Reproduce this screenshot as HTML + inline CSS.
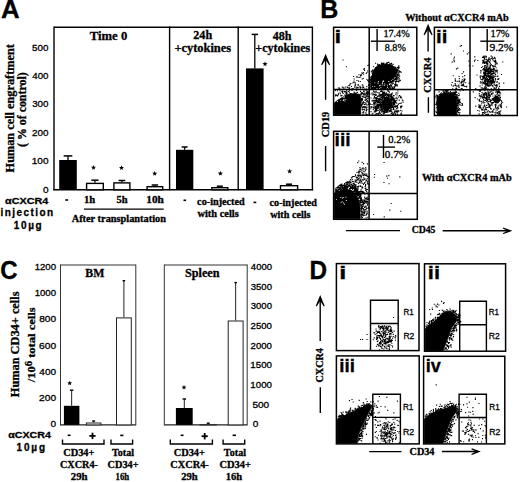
<!DOCTYPE html>
<html><head><meta charset="utf-8"><style>
html,body{margin:0;padding:0;background:#fff;width:520px;height:482px;overflow:hidden}
svg{display:block}
</style></head><body>
<svg width="520" height="482" viewBox="0 0 520 482">
<style>text{stroke:#000;stroke-width:0.3px}</style>
<rect width="520" height="482" fill="#fff"/>
<text x="0.95" y="18.30" font-family='"Liberation Sans", sans-serif' font-size="26" font-weight="bold" textLength="18.65" lengthAdjust="spacingAndGlyphs" fill="#000">A</text>
<line x1="54.0" y1="27.2" x2="312.4" y2="27.2" stroke="#000" stroke-width="1.4"/>
<line x1="54.0" y1="26.5" x2="54.0" y2="190.3" stroke="#000" stroke-width="1.4"/>
<line x1="312.4" y1="26.5" x2="312.4" y2="190.3" stroke="#000" stroke-width="1.4"/>
<line x1="169.6" y1="26.5" x2="169.6" y2="190.3" stroke="#000" stroke-width="1.4"/>
<line x1="238.2" y1="26.5" x2="238.2" y2="190.3" stroke="#000" stroke-width="1.4"/>
<line x1="53.3" y1="189.8" x2="313.1" y2="189.8" stroke="#000" stroke-width="1.5"/>
<text x="32.11" y="50.70" font-family='"Liberation Sans", sans-serif' font-size="9.9" font-weight="normal" textLength="16.37" lengthAdjust="spacingAndGlyphs" fill="#000">500</text>
<text x="32.28" y="79.06" font-family='"Liberation Sans", sans-serif' font-size="9.9" font-weight="normal" textLength="16.19" lengthAdjust="spacingAndGlyphs" fill="#000">400</text>
<text x="32.13" y="107.42" font-family='"Liberation Sans", sans-serif' font-size="9.9" font-weight="normal" textLength="16.34" lengthAdjust="spacingAndGlyphs" fill="#000">300</text>
<text x="32.01" y="135.78" font-family='"Liberation Sans", sans-serif' font-size="9.9" font-weight="normal" textLength="16.47" lengthAdjust="spacingAndGlyphs" fill="#000">200</text>
<text x="31.75" y="164.14" font-family='"Liberation Sans", sans-serif' font-size="9.9" font-weight="normal" textLength="16.74" lengthAdjust="spacingAndGlyphs" fill="#000">100</text>
<text x="42.90" y="192.50" font-family='"Liberation Sans", sans-serif' font-size="9.9" font-weight="normal" textLength="5.59" lengthAdjust="spacingAndGlyphs" fill="#000">0</text>
<text x="14.20" y="172.42" transform="rotate(-90 14.20 172.42)" font-family='"Liberation Serif", serif' font-size="12.3" font-weight="bold" textLength="128.35" lengthAdjust="spacingAndGlyphs">Human cell engraftment</text>
<text x="25.90" y="147.01" transform="rotate(-90 25.90 147.01)" font-family='"Liberation Serif", serif' font-size="12.3" font-weight="bold" textLength="74.72" lengthAdjust="spacingAndGlyphs">( % of control)</text>
<text x="89.81" y="40.00" font-family='"Liberation Serif", serif' font-size="12.7" font-weight="bold" textLength="37.48" lengthAdjust="spacingAndGlyphs" fill="#000">Time 0</text>
<text x="193.28" y="39.20" font-family='"Liberation Serif", serif' font-size="12.3" font-weight="bold" textLength="18.88" lengthAdjust="spacingAndGlyphs" fill="#000">24h</text>
<text x="174.45" y="52.00" font-family='"Liberation Serif", serif' font-size="12.3" font-weight="bold" textLength="56.66" lengthAdjust="spacingAndGlyphs" fill="#000">+cytokines</text>
<text x="272.65" y="39.50" font-family='"Liberation Serif", serif' font-size="12.3" font-weight="bold" textLength="18.71" lengthAdjust="spacingAndGlyphs" fill="#000">48h</text>
<text x="255.37" y="52.20" font-family='"Liberation Serif", serif' font-size="12.3" font-weight="bold" textLength="54.93" lengthAdjust="spacingAndGlyphs" fill="#000">+cytokines</text>
<rect x="59.2" y="160" width="17.60" height="29.80" fill="#000"/>
<line x1="68.0" y1="155.9" x2="68.0" y2="160" stroke="#000" stroke-width="1.3"/>
<line x1="63.65" y1="155.9" x2="72.35" y2="155.9" stroke="#000" stroke-width="1.5"/>
<rect x="86.60000000000001" y="183.39999999999998" width="16.70" height="6.40" fill="#fff" stroke="#000" stroke-width="1.4"/>
<line x1="94.95" y1="180.2" x2="94.95" y2="182.7" stroke="#000" stroke-width="1.3"/>
<line x1="91.35000000000001" y1="180.2" x2="98.55" y2="180.2" stroke="#000" stroke-width="1.5"/>
<polygon points="93.5,165.0 94.2,166.7 96.0,166.8 94.6,168.0 95.0,169.7 93.5,168.8 92.0,169.7 92.4,168.0 91.0,166.8 92.8,166.7" fill="#000"/>
<rect x="113.9" y="182.89999999999998" width="16.00" height="6.90" fill="#fff" stroke="#000" stroke-width="1.4"/>
<line x1="121.9" y1="180.5" x2="121.9" y2="182.2" stroke="#000" stroke-width="1.3"/>
<line x1="118.5" y1="180.5" x2="125.30000000000001" y2="180.5" stroke="#000" stroke-width="1.5"/>
<polygon points="121.5,165.2 122.2,166.9 124.0,167.0 122.6,168.2 123.0,169.9 121.5,169.0 120.0,169.9 120.4,168.2 119.0,167.0 120.8,166.9" fill="#000"/>
<rect x="147.1" y="186.7" width="15.60" height="3.10" fill="#fff" stroke="#000" stroke-width="1.4"/>
<line x1="154.9" y1="185" x2="154.9" y2="186" stroke="#000" stroke-width="1.3"/>
<line x1="151.65" y1="185" x2="158.15" y2="185" stroke="#000" stroke-width="1.5"/>
<polygon points="154.7,171.0 155.4,172.7 157.2,172.8 155.8,174.0 156.2,175.7 154.7,174.8 153.2,175.7 153.6,174.0 152.2,172.8 154.0,172.7" fill="#000"/>
<rect x="176" y="149.8" width="17.30" height="40.00" fill="#000"/>
<line x1="184.65" y1="147" x2="184.65" y2="149.8" stroke="#000" stroke-width="1.3"/>
<line x1="181.65" y1="147" x2="187.65" y2="147" stroke="#000" stroke-width="1.5"/>
<rect x="211.79999999999998" y="187.7" width="16.00" height="2.10" fill="#fff" stroke="#000" stroke-width="1.4"/>
<line x1="219.8" y1="186.2" x2="219.8" y2="187" stroke="#000" stroke-width="1.3"/>
<line x1="216.8" y1="186.2" x2="222.8" y2="186.2" stroke="#000" stroke-width="1.5"/>
<polygon points="220.4,170.9 221.1,172.6 222.9,172.7 221.5,173.9 221.9,175.6 220.4,174.7 218.9,175.6 219.3,173.9 217.9,172.7 219.7,172.6" fill="#000"/>
<rect x="246" y="68.4" width="17.60" height="121.40" fill="#000"/>
<line x1="254.8" y1="34.4" x2="254.8" y2="68.4" stroke="#000" stroke-width="1.3"/>
<line x1="251.60000000000002" y1="34.4" x2="258.0" y2="34.4" stroke="#000" stroke-width="1.5"/>
<polygon points="265.0,61.4 265.7,63.1 267.5,63.2 266.1,64.4 266.5,66.1 265.0,65.2 263.5,66.1 263.9,64.4 262.5,63.2 264.3,63.1" fill="#000"/>
<rect x="280.5" y="185.7" width="17.10" height="4.10" fill="#fff" stroke="#000" stroke-width="1.4"/>
<line x1="289.05" y1="184.2" x2="289.05" y2="185" stroke="#000" stroke-width="1.3"/>
<line x1="286.05" y1="184.2" x2="292.05" y2="184.2" stroke="#000" stroke-width="1.5"/>
<polygon points="289.6,168.8 290.3,170.5 292.1,170.6 290.7,171.8 291.1,173.5 289.6,172.6 288.1,173.5 288.5,171.8 287.1,170.6 288.9,170.5" fill="#000"/>
<text x="5.07" y="203.60" font-family='"Liberation Sans", sans-serif' font-size="9.3" font-weight="bold" textLength="43.21" lengthAdjust="spacingAndGlyphs" fill="#000">αCXCR4</text>
<text x="0.50" y="216.30" font-family='"Liberation Sans", sans-serif' font-size="10.0" font-weight="bold" textLength="52.61" lengthAdjust="spacing">injection</text>
<text x="13.78" y="228.90" font-family='"Liberation Sans", sans-serif' font-size="10.0" font-weight="bold" textLength="27.89" lengthAdjust="spacing">10µg</text>
<line x1="65.3" y1="200.0" x2="68.1" y2="200.0" stroke="#000" stroke-width="1.6"/>
<text x="84.05" y="202.90" font-family='"Liberation Serif", serif' font-size="9.8" font-weight="bold" textLength="11.19" lengthAdjust="spacingAndGlyphs" fill="#000">1h</text>
<text x="116.58" y="202.90" font-family='"Liberation Serif", serif' font-size="9.8" font-weight="bold" textLength="11.06" lengthAdjust="spacingAndGlyphs" fill="#000">5h</text>
<text x="146.30" y="202.90" font-family='"Liberation Serif", serif' font-size="9.8" font-weight="bold" textLength="17.56" lengthAdjust="spacingAndGlyphs" fill="#000">10h</text>
<line x1="84" y1="209.1" x2="163.7" y2="209.1" stroke="#000" stroke-width="1.4"/>
<text x="71.70" y="221.90" font-family='"Liberation Serif", serif' font-size="10.0" font-weight="bold" textLength="94.24" lengthAdjust="spacingAndGlyphs" fill="#000">After transplantation</text>
<line x1="183.5" y1="200.3" x2="186.1" y2="200.3" stroke="#000" stroke-width="1.6"/>
<text x="197.14" y="204.80" font-family='"Liberation Serif", serif' font-size="10.2" font-weight="bold" textLength="47.58" lengthAdjust="spacingAndGlyphs" fill="#000">co-injected</text>
<text x="197.47" y="217.00" font-family='"Liberation Serif", serif' font-size="10.2" font-weight="bold" textLength="41.28" lengthAdjust="spacingAndGlyphs" fill="#000">with cells</text>
<line x1="253.5" y1="202.4" x2="256.3" y2="202.4" stroke="#000" stroke-width="1.6"/>
<text x="269.54" y="205.80" font-family='"Liberation Serif", serif' font-size="10.2" font-weight="bold" textLength="47.48" lengthAdjust="spacingAndGlyphs" fill="#000">co-injected</text>
<text x="270.17" y="217.90" font-family='"Liberation Serif", serif' font-size="10.2" font-weight="bold" textLength="40.37" lengthAdjust="spacingAndGlyphs" fill="#000">with cells</text>
<text x="320.21" y="18.30" font-family='"Liberation Sans", sans-serif' font-size="26" font-weight="bold" textLength="18.11" lengthAdjust="spacingAndGlyphs" fill="#000">B</text>
<text x="405.15" y="20.60" font-family='"Liberation Serif", serif' font-size="10.3" font-weight="bold" textLength="103.68" lengthAdjust="spacingAndGlyphs" fill="#000">Without αCXCR4 mAb</text>
<polygon points="378.3,66.0 381.6,64.8 385.7,64.2 389.9,64.8 393.2,66.3 396.5,69.1 397.4,72.4 395.7,75.7 393.2,78.2 390.7,80.7 389.1,83.2 387.4,86.5 385.7,89.4 370.8,89.4 370.8,86.5 371.2,81.6 371.6,77.4 372.9,73.3 374.1,69.9 376.6,66.6" fill="#000" stroke="#000" stroke-width="0.8" stroke-linejoin="round"/>
<polygon points="334.3,114.6 334.3,103.0 338.0,100.0 343.0,97.0 348.0,94.5 355.0,93.5 360.0,94.5 361.0,100.0 360.5,114.6" fill="#000" stroke="#000" stroke-width="0.8" stroke-linejoin="round"/>
<polygon points="392.0,104.0 391.8,105.4 391.3,106.8 390.5,107.9 389.5,108.8 388.3,109.3 387.0,109.5 385.7,109.3 384.5,108.8 383.5,107.9 382.7,106.8 382.2,105.4 382.0,104.0 382.2,102.6 382.7,101.2 383.5,100.1 384.5,99.2 385.7,98.7 387.0,98.5 388.3,98.7 389.5,99.2 390.5,100.1 391.3,101.2 391.8,102.6" fill="#000" stroke="#000" stroke-width="0.8" stroke-linejoin="round"/>
<path d="M389.9 63.6h1.1v1.1h-1.1zM390.6 64.7h1.1v1.1h-1.1zM370.3 85.9h1.1v1.1h-1.1zM370.7 85.2h1.1v1.1h-1.1zM377.6 65.3h1.1v1.1h-1.1zM386.5 63.8h1.1v1.1h-1.1zM370.5 84.1h1.1v1.1h-1.1zM380.8 63.6h1.1v1.1h-1.1zM370.8 71.1h1.1v1.1h-1.1zM383.4 62.5h1.1v1.1h-1.1zM380.3 65.0h1.1v1.1h-1.1zM369.8 81.8h1.1v1.1h-1.1zM372.0 75.1h1.1v1.1h-1.1zM392.6 81.1h1.1v1.1h-1.1zM398.6 66.9h1.1v1.1h-1.1zM369.0 80.6h1.1v1.1h-1.1zM374.4 68.8h1.1v1.1h-1.1zM385.3 63.5h1.1v1.1h-1.1zM397.4 77.0h1.1v1.1h-1.1zM377.3 65.4h1.1v1.1h-1.1zM398.9 71.3h1.1v1.1h-1.1zM397.4 66.8h1.1v1.1h-1.1zM386.4 63.6h1.1v1.1h-1.1zM371.0 83.0h1.1v1.1h-1.1zM371.2 80.9h1.1v1.1h-1.1zM398.4 71.7h1.1v1.1h-1.1zM396.6 69.5h1.1v1.1h-1.1zM373.0 70.5h1.1v1.1h-1.1zM371.5 72.5h1.1v1.1h-1.1zM371.0 78.8h1.1v1.1h-1.1zM394.1 79.5h1.1v1.1h-1.1zM396.0 77.3h1.1v1.1h-1.1zM392.1 80.1h1.1v1.1h-1.1zM370.8 84.0h1.1v1.1h-1.1zM372.1 69.5h1.1v1.1h-1.1zM370.0 78.9h1.1v1.1h-1.1zM398.4 73.6h1.1v1.1h-1.1zM391.9 64.7h1.1v1.1h-1.1zM377.0 63.4h1.1v1.1h-1.1zM373.4 71.8h1.1v1.1h-1.1zM398.3 74.5h1.1v1.1h-1.1zM370.5 83.8h1.1v1.1h-1.1zM396.1 75.6h1.1v1.1h-1.1zM397.1 69.4h1.1v1.1h-1.1zM372.5 70.4h1.1v1.1h-1.1zM374.2 68.7h1.1v1.1h-1.1zM388.5 85.3h1.1v1.1h-1.1zM396.7 74.8h1.1v1.1h-1.1zM390.6 80.9h1.1v1.1h-1.1zM372.4 73.7h1.1v1.1h-1.1zM368.3 84.0h1.1v1.1h-1.1zM386.2 63.2h1.1v1.1h-1.1zM372.0 70.5h1.1v1.1h-1.1zM396.1 77.7h1.1v1.1h-1.1zM370.3 80.2h1.1v1.1h-1.1zM397.3 69.3h1.1v1.1h-1.1zM396.7 69.3h1.1v1.1h-1.1zM375.0 62.7h1.1v1.1h-1.1zM398.5 70.1h1.1v1.1h-1.1zM379.8 65.0h1.1v1.1h-1.1zM397.0 73.8h1.1v1.1h-1.1zM372.6 70.9h1.1v1.1h-1.1zM371.6 69.9h1.1v1.1h-1.1zM370.3 82.5h1.1v1.1h-1.1zM396.6 76.1h1.1v1.1h-1.1zM383.1 63.1h1.1v1.1h-1.1zM390.9 65.1h1.1v1.1h-1.1zM373.6 69.6h1.1v1.1h-1.1zM370.5 81.7h1.1v1.1h-1.1zM377.6 64.4h1.1v1.1h-1.1zM398.2 67.8h1.1v1.1h-1.1zM373.9 68.8h1.1v1.1h-1.1zM397.7 72.5h1.1v1.1h-1.1zM375.0 66.9h1.1v1.1h-1.1zM385.5 63.4h1.1v1.1h-1.1zM369.1 84.4h1.1v1.1h-1.1zM378.2 65.1h1.1v1.1h-1.1zM387.1 90.5h1.1v1.1h-1.1zM370.8 81.1h1.1v1.1h-1.1zM391.0 84.5h1.1v1.1h-1.1zM382.7 62.9h1.1v1.1h-1.1zM386.9 88.1h1.1v1.1h-1.1zM398.1 66.6h1.1v1.1h-1.1zM378.9 64.0h1.1v1.1h-1.1zM375.9 67.2h1.1v1.1h-1.1zM371.1 75.8h1.1v1.1h-1.1zM368.9 76.1h1.1v1.1h-1.1zM395.3 78.7h1.1v1.1h-1.1zM373.0 71.2h1.1v1.1h-1.1zM386.3 63.7h1.1v1.1h-1.1zM388.8 87.5h1.1v1.1h-1.1zM389.4 63.0h1.1v1.1h-1.1zM377.9 64.4h1.1v1.1h-1.1zM391.0 62.8h1.1v1.1h-1.1zM387.8 61.8h1.1v1.1h-1.1zM384.8 64.3h1.1v1.1h-1.1zM368.3 86.9h1.1v1.1h-1.1zM369.2 84.5h1.1v1.1h-1.1zM371.0 78.4h1.1v1.1h-1.1zM390.8 82.7h1.1v1.1h-1.1zM395.6 76.3h1.1v1.1h-1.1zM371.3 76.7h1.1v1.1h-1.1zM398.4 71.1h1.1v1.1h-1.1zM379.1 64.3h1.1v1.1h-1.1zM391.4 81.5h1.1v1.1h-1.1zM372.9 73.3h1.1v1.1h-1.1zM390.1 86.2h1.1v1.1h-1.1zM383.0 64.3h1.1v1.1h-1.1zM383.3 63.5h1.1v1.1h-1.1zM381.6 64.4h1.1v1.1h-1.1zM397.7 68.5h1.1v1.1h-1.1zM385.9 62.6h1.1v1.1h-1.1zM388.0 86.6h1.1v1.1h-1.1zM380.9 62.4h1.1v1.1h-1.1zM390.5 63.6h1.1v1.1h-1.1zM399.7 71.0h1.1v1.1h-1.1zM391.1 81.7h1.1v1.1h-1.1zM395.7 77.8h1.1v1.1h-1.1zM395.6 77.6h1.1v1.1h-1.1zM397.6 74.4h1.1v1.1h-1.1zM399.1 75.6h1.1v1.1h-1.1zM392.1 83.5h1.1v1.1h-1.1zM371.8 72.6h1.1v1.1h-1.1zM388.5 61.7h1.1v1.1h-1.1zM371.1 81.5h1.1v1.1h-1.1zM397.0 70.3h1.1v1.1h-1.1zM381.8 62.8h1.1v1.1h-1.1zM387.0 62.3h1.1v1.1h-1.1zM396.2 81.0h1.1v1.1h-1.1zM391.2 81.1h1.1v1.1h-1.1zM369.9 79.5h1.1v1.1h-1.1zM373.1 66.2h1.1v1.1h-1.1zM371.0 78.8h1.1v1.1h-1.1zM392.6 63.8h1.1v1.1h-1.1zM370.3 86.0h1.1v1.1h-1.1zM394.8 66.8h1.1v1.1h-1.1zM395.5 76.2h1.1v1.1h-1.1zM383.1 62.7h1.1v1.1h-1.1zM371.5 77.3h1.1v1.1h-1.1zM377.2 64.6h1.1v1.1h-1.1zM370.2 77.7h1.1v1.1h-1.1zM393.4 65.9h1.1v1.1h-1.1zM395.5 79.4h1.1v1.1h-1.1zM395.2 76.5h1.1v1.1h-1.1zM400.7 71.7h1.1v1.1h-1.1zM397.6 75.2h1.1v1.1h-1.1zM396.5 67.0h1.1v1.1h-1.1zM370.6 76.5h1.1v1.1h-1.1zM370.4 80.3h1.1v1.1h-1.1zM396.8 69.4h1.1v1.1h-1.1zM386.6 64.0h1.1v1.1h-1.1zM398.3 65.3h1.1v1.1h-1.1zM387.0 89.2h1.1v1.1h-1.1zM389.2 88.9h1.1v1.1h-1.1zM372.6 71.4h1.1v1.1h-1.1zM370.3 76.8h1.1v1.1h-1.1zM395.1 81.3h1.1v1.1h-1.1zM396.1 68.2h1.1v1.1h-1.1zM374.4 68.7h1.1v1.1h-1.1zM387.8 89.5h1.1v1.1h-1.1zM374.1 69.7h1.1v1.1h-1.1zM392.8 79.8h1.1v1.1h-1.1zM393.1 78.5h1.1v1.1h-1.1zM388.9 87.0h1.1v1.1h-1.1zM382.1 64.1h1.1v1.1h-1.1zM388.8 63.9h1.1v1.1h-1.1zM396.7 68.7h1.1v1.1h-1.1zM381.3 63.7h1.1v1.1h-1.1zM396.7 68.7h1.1v1.1h-1.1zM399.5 71.3h1.1v1.1h-1.1zM389.4 78.3h1.1v1.1h-1.1zM389.9 82.1h1.1v1.1h-1.1zM394.4 76.3h1.1v1.1h-1.1zM395.6 85.2h1.1v1.1h-1.1zM388.0 82.9h1.1v1.1h-1.1zM388.9 85.4h1.1v1.1h-1.1zM390.0 84.3h1.1v1.1h-1.1zM395.1 82.6h1.1v1.1h-1.1zM389.0 86.5h1.1v1.1h-1.1zM391.0 85.6h1.1v1.1h-1.1zM392.6 80.7h1.1v1.1h-1.1zM396.0 79.1h1.1v1.1h-1.1zM396.7 80.7h1.1v1.1h-1.1zM396.4 84.5h1.1v1.1h-1.1zM399.2 80.1h1.1v1.1h-1.1zM390.9 88.9h1.1v1.1h-1.1zM393.2 80.3h1.1v1.1h-1.1zM395.8 77.8h1.1v1.1h-1.1zM395.1 78.4h1.1v1.1h-1.1zM387.3 85.1h1.1v1.1h-1.1zM398.1 81.1h1.1v1.1h-1.1zM394.9 85.2h1.1v1.1h-1.1zM395.4 80.9h1.1v1.1h-1.1zM393.1 82.7h1.1v1.1h-1.1zM391.5 82.1h1.1v1.1h-1.1zM389.5 81.4h1.1v1.1h-1.1zM388.0 88.7h1.1v1.1h-1.1zM388.4 84.9h1.1v1.1h-1.1zM392.8 77.9h1.1v1.1h-1.1zM391.3 81.2h1.1v1.1h-1.1zM391.2 77.7h1.1v1.1h-1.1zM391.8 80.5h1.1v1.1h-1.1zM395.6 77.0h1.1v1.1h-1.1zM393.7 88.6h1.1v1.1h-1.1zM388.7 87.3h1.1v1.1h-1.1zM395.2 76.5h1.1v1.1h-1.1zM394.2 84.1h1.1v1.1h-1.1zM387.8 85.9h1.1v1.1h-1.1zM391.9 88.5h1.1v1.1h-1.1zM394.7 77.9h1.1v1.1h-1.1zM391.6 87.6h1.1v1.1h-1.1zM388.0 82.3h1.1v1.1h-1.1zM396.8 85.4h1.1v1.1h-1.1zM392.6 77.6h1.1v1.1h-1.1zM388.8 87.6h1.1v1.1h-1.1zM394.9 80.9h1.1v1.1h-1.1zM386.4 88.7h1.1v1.1h-1.1zM397.7 80.8h1.1v1.1h-1.1zM395.4 83.8h1.1v1.1h-1.1zM396.2 80.6h1.1v1.1h-1.1zM388.1 86.1h1.1v1.1h-1.1zM392.2 80.6h1.1v1.1h-1.1zM396.6 84.3h1.1v1.1h-1.1zM399.8 79.8h1.1v1.1h-1.1zM394.9 75.3h1.1v1.1h-1.1zM389.9 80.7h1.1v1.1h-1.1zM389.2 88.0h1.1v1.1h-1.1zM392.0 79.7h1.1v1.1h-1.1zM396.3 78.6h1.1v1.1h-1.1zM398.6 80.3h1.1v1.1h-1.1zM390.7 81.1h1.1v1.1h-1.1zM391.6 86.9h1.1v1.1h-1.1zM389.3 80.6h1.1v1.1h-1.1zM388.1 86.8h1.1v1.1h-1.1zM398.9 78.3h1.1v1.1h-1.1zM398.2 76.7h1.1v1.1h-1.1zM396.0 77.8h1.1v1.1h-1.1zM392.2 83.2h1.1v1.1h-1.1zM394.2 85.9h1.1v1.1h-1.1zM389.5 84.9h1.1v1.1h-1.1zM387.6 83.7h1.1v1.1h-1.1zM392.8 80.5h1.1v1.1h-1.1zM393.9 87.5h1.1v1.1h-1.1zM394.2 78.8h1.1v1.1h-1.1zM389.5 88.8h1.1v1.1h-1.1zM390.3 87.8h1.1v1.1h-1.1zM393.5 87.6h1.1v1.1h-1.1zM388.3 88.5h1.1v1.1h-1.1zM394.1 86.3h1.1v1.1h-1.1zM395.9 78.4h1.1v1.1h-1.1zM395.1 78.3h1.1v1.1h-1.1zM392.5 86.3h1.1v1.1h-1.1zM397.9 80.9h1.1v1.1h-1.1zM389.9 87.4h1.1v1.1h-1.1zM392.6 87.8h1.1v1.1h-1.1zM392.6 88.1h1.1v1.1h-1.1zM397.0 78.3h1.1v1.1h-1.1zM394.7 85.5h1.1v1.1h-1.1zM398.1 81.4h1.1v1.1h-1.1zM394.7 80.9h1.1v1.1h-1.1zM397.9 78.5h1.1v1.1h-1.1zM395.3 84.7h1.1v1.1h-1.1zM394.8 85.2h1.1v1.1h-1.1zM357.8 87.2h1.1v1.1h-1.1zM357.6 85.2h1.1v1.1h-1.1zM350.9 86.0h1.1v1.1h-1.1zM360.3 86.8h1.1v1.1h-1.1zM359.8 87.6h1.1v1.1h-1.1zM365.9 88.4h1.1v1.1h-1.1zM337.7 87.5h1.1v1.1h-1.1zM348.3 85.0h1.1v1.1h-1.1zM351.8 88.3h1.1v1.1h-1.1zM362.3 85.0h1.1v1.1h-1.1zM342.7 87.6h1.1v1.1h-1.1zM368.0 84.8h1.1v1.1h-1.1zM338.9 87.6h1.1v1.1h-1.1zM356.3 88.1h1.1v1.1h-1.1zM342.5 86.7h1.1v1.1h-1.1zM362.4 86.2h1.1v1.1h-1.1zM349.2 84.6h1.1v1.1h-1.1zM362.3 86.5h1.1v1.1h-1.1zM348.5 87.4h1.1v1.1h-1.1zM364.1 88.4h1.1v1.1h-1.1zM347.3 87.2h1.1v1.1h-1.1zM348.8 88.3h1.1v1.1h-1.1zM362.2 87.5h1.1v1.1h-1.1zM363.2 86.8h1.1v1.1h-1.1zM354.8 85.2h1.1v1.1h-1.1zM359.4 85.8h1.1v1.1h-1.1zM354.5 84.5h1.1v1.1h-1.1zM349.1 87.3h1.1v1.1h-1.1zM356.8 87.0h1.1v1.1h-1.1zM344.3 87.4h1.1v1.1h-1.1zM357.8 87.2h1.1v1.1h-1.1zM348.4 85.2h1.1v1.1h-1.1zM354.4 84.7h1.1v1.1h-1.1zM366.2 86.1h1.1v1.1h-1.1zM345.3 86.5h1.1v1.1h-1.1zM339.4 88.5h1.1v1.1h-1.1zM368.3 88.2h1.1v1.1h-1.1zM354.9 88.7h1.1v1.1h-1.1zM346.9 86.6h1.1v1.1h-1.1zM341.7 86.4h1.1v1.1h-1.1zM367.2 79.9h1.1v1.1h-1.1zM360.1 76.5h1.1v1.1h-1.1zM361.7 78.5h1.1v1.1h-1.1zM355.1 83.7h1.1v1.1h-1.1zM355.6 86.6h1.1v1.1h-1.1zM357.6 84.1h1.1v1.1h-1.1zM354.1 86.6h1.1v1.1h-1.1zM367.3 65.0h1.1v1.1h-1.1zM368.0 79.5h1.1v1.1h-1.1zM361.7 84.2h1.1v1.1h-1.1zM357.7 84.1h1.1v1.1h-1.1zM359.7 76.5h1.1v1.1h-1.1zM367.8 81.1h1.1v1.1h-1.1zM353.0 88.2h1.1v1.1h-1.1zM356.4 88.7h1.1v1.1h-1.1zM359.4 86.6h1.1v1.1h-1.1zM358.0 80.6h1.1v1.1h-1.1zM360.5 74.1h1.1v1.1h-1.1zM368.4 64.4h1.1v1.1h-1.1zM366.4 71.9h1.1v1.1h-1.1zM351.5 88.0h1.1v1.1h-1.1zM362.2 72.9h1.1v1.1h-1.1zM363.4 94.2h1.1v1.1h-1.1zM348.8 94.3h1.1v1.1h-1.1zM360.0 90.9h1.1v1.1h-1.1zM350.7 93.3h1.1v1.1h-1.1zM361.0 93.7h1.1v1.1h-1.1zM336.9 90.2h1.1v1.1h-1.1zM343.9 94.9h1.1v1.1h-1.1zM342.1 91.8h1.1v1.1h-1.1zM362.9 90.6h1.1v1.1h-1.1zM344.2 91.4h1.1v1.1h-1.1zM336.1 94.4h1.1v1.1h-1.1zM345.6 92.3h1.1v1.1h-1.1zM346.0 90.2h1.1v1.1h-1.1zM363.6 90.6h1.1v1.1h-1.1zM344.4 94.3h1.1v1.1h-1.1zM346.5 92.9h1.1v1.1h-1.1zM345.9 93.3h1.1v1.1h-1.1zM345.4 92.6h1.1v1.1h-1.1zM334.8 89.9h1.1v1.1h-1.1zM352.0 94.9h1.1v1.1h-1.1zM352.6 93.8h1.1v1.1h-1.1zM357.7 94.3h1.1v1.1h-1.1zM368.7 91.9h1.1v1.1h-1.1zM349.9 94.6h1.1v1.1h-1.1zM342.0 90.4h1.1v1.1h-1.1zM365.5 89.9h1.1v1.1h-1.1zM340.2 94.5h1.1v1.1h-1.1zM344.5 91.5h1.1v1.1h-1.1zM360.9 92.5h1.1v1.1h-1.1zM368.5 93.3h1.1v1.1h-1.1zM336.1 94.7h1.1v1.1h-1.1zM356.0 90.0h1.1v1.1h-1.1zM364.4 92.4h1.1v1.1h-1.1zM341.3 91.1h1.1v1.1h-1.1zM341.5 94.9h1.1v1.1h-1.1zM337.0 95.5h1.1v1.1h-1.1zM335.1 94.3h1.1v1.1h-1.1zM342.5 93.0h1.1v1.1h-1.1zM340.6 95.4h1.1v1.1h-1.1zM339.9 92.7h1.1v1.1h-1.1zM355.5 92.6h1.1v1.1h-1.1zM342.0 91.6h1.1v1.1h-1.1zM366.7 90.6h1.1v1.1h-1.1zM335.1 95.4h1.1v1.1h-1.1zM365.1 94.0h1.1v1.1h-1.1zM348.8 89.9h1.1v1.1h-1.1zM349.5 93.1h1.1v1.1h-1.1zM336.8 95.1h1.1v1.1h-1.1zM352.5 94.3h1.1v1.1h-1.1zM348.8 91.6h1.1v1.1h-1.1zM346.1 91.5h1.1v1.1h-1.1zM350.1 93.5h1.1v1.1h-1.1zM363.2 90.9h1.1v1.1h-1.1zM350.0 93.1h1.1v1.1h-1.1zM362.7 94.2h1.1v1.1h-1.1zM356.0 94.0h1.1v1.1h-1.1zM350.0 94.8h1.1v1.1h-1.1zM363.4 93.3h1.1v1.1h-1.1zM338.5 92.4h1.1v1.1h-1.1zM343.6 91.0h1.1v1.1h-1.1zM344.7 94.9h1.1v1.1h-1.1zM346.5 92.5h1.1v1.1h-1.1zM347.7 90.9h1.1v1.1h-1.1zM354.2 92.4h1.1v1.1h-1.1zM366.8 93.6h1.1v1.1h-1.1zM351.4 89.9h1.1v1.1h-1.1zM341.8 90.5h1.1v1.1h-1.1zM359.9 90.7h1.1v1.1h-1.1zM356.8 91.8h1.1v1.1h-1.1zM351.1 94.5h1.1v1.1h-1.1zM344.8 90.9h1.1v1.1h-1.1zM353.6 91.6h1.1v1.1h-1.1zM339.5 90.2h1.1v1.1h-1.1zM346.0 93.6h1.1v1.1h-1.1zM350.3 94.8h1.1v1.1h-1.1zM368.8 93.3h1.1v1.1h-1.1zM346.4 94.7h1.1v1.1h-1.1zM337.6 94.5h1.1v1.1h-1.1zM337.9 93.4h1.1v1.1h-1.1zM362.2 92.4h1.1v1.1h-1.1zM367.3 94.1h1.1v1.1h-1.1zM364.5 103.7h1.1v1.1h-1.1zM366.8 100.1h1.1v1.1h-1.1zM362.2 107.4h1.1v1.1h-1.1zM361.0 99.0h1.1v1.1h-1.1zM364.0 109.3h1.1v1.1h-1.1zM363.7 103.8h1.1v1.1h-1.1zM365.8 106.6h1.1v1.1h-1.1zM368.3 101.3h1.1v1.1h-1.1zM361.6 96.1h1.1v1.1h-1.1zM361.8 102.7h1.1v1.1h-1.1zM361.7 104.0h1.1v1.1h-1.1zM367.1 91.8h1.1v1.1h-1.1zM362.1 102.2h1.1v1.1h-1.1zM360.4 93.5h1.1v1.1h-1.1zM364.9 99.8h1.1v1.1h-1.1zM367.8 104.0h1.1v1.1h-1.1zM366.5 98.5h1.1v1.1h-1.1zM363.2 110.9h1.1v1.1h-1.1zM365.3 112.4h1.1v1.1h-1.1zM362.2 92.8h1.1v1.1h-1.1zM365.8 93.1h1.1v1.1h-1.1zM360.7 99.6h1.1v1.1h-1.1zM365.9 98.8h1.1v1.1h-1.1zM366.5 101.2h1.1v1.1h-1.1zM362.5 103.1h1.1v1.1h-1.1zM365.2 93.7h1.1v1.1h-1.1zM365.1 94.1h1.1v1.1h-1.1zM368.3 103.0h1.1v1.1h-1.1zM361.8 97.8h1.1v1.1h-1.1zM364.9 106.3h1.1v1.1h-1.1zM366.1 100.8h1.1v1.1h-1.1zM365.4 103.6h1.1v1.1h-1.1zM362.5 95.4h1.1v1.1h-1.1zM363.4 106.9h1.1v1.1h-1.1zM361.2 105.6h1.1v1.1h-1.1zM360.2 94.5h1.1v1.1h-1.1zM365.8 109.8h1.1v1.1h-1.1zM366.6 106.7h1.1v1.1h-1.1zM362.2 114.2h1.1v1.1h-1.1zM365.2 112.3h1.1v1.1h-1.1zM368.1 95.8h1.1v1.1h-1.1zM368.3 92.0h1.1v1.1h-1.1zM365.5 96.3h1.1v1.1h-1.1zM360.8 104.0h1.1v1.1h-1.1zM361.8 109.3h1.1v1.1h-1.1zM364.0 96.6h1.1v1.1h-1.1zM360.1 107.0h1.1v1.1h-1.1zM365.5 109.7h1.1v1.1h-1.1zM363.3 112.4h1.1v1.1h-1.1zM360.2 112.5h1.1v1.1h-1.1zM366.6 92.5h1.1v1.1h-1.1zM368.5 92.2h1.1v1.1h-1.1zM366.5 96.0h1.1v1.1h-1.1zM365.9 110.5h1.1v1.1h-1.1zM361.0 98.0h1.1v1.1h-1.1zM367.7 101.7h1.1v1.1h-1.1zM361.3 92.1h1.1v1.1h-1.1zM361.1 92.6h1.1v1.1h-1.1zM363.1 109.0h1.1v1.1h-1.1zM363.9 92.4h1.1v1.1h-1.1zM363.0 101.9h1.1v1.1h-1.1zM363.9 105.7h1.1v1.1h-1.1zM365.9 108.3h1.1v1.1h-1.1zM366.6 109.2h1.1v1.1h-1.1zM366.3 100.7h1.1v1.1h-1.1zM367.6 92.4h1.1v1.1h-1.1zM366.4 104.6h1.1v1.1h-1.1zM366.0 91.6h1.1v1.1h-1.1zM368.3 90.7h1.1v1.1h-1.1zM361.5 102.7h1.1v1.1h-1.1zM364.9 94.4h1.1v1.1h-1.1zM362.5 112.4h1.1v1.1h-1.1zM362.8 100.9h1.1v1.1h-1.1zM361.0 103.9h1.1v1.1h-1.1zM366.0 108.2h1.1v1.1h-1.1zM362.0 99.0h1.1v1.1h-1.1zM365.6 113.8h1.1v1.1h-1.1zM366.6 95.4h1.1v1.1h-1.1zM360.6 98.0h1.1v1.1h-1.1zM364.6 96.7h1.1v1.1h-1.1zM366.8 96.3h1.1v1.1h-1.1zM361.1 104.8h1.1v1.1h-1.1zM366.5 95.0h1.1v1.1h-1.1zM362.9 96.4h1.1v1.1h-1.1zM360.2 106.7h1.1v1.1h-1.1zM360.4 105.0h1.1v1.1h-1.1zM365.4 103.0h1.1v1.1h-1.1zM364.4 102.0h1.1v1.1h-1.1zM366.7 97.9h1.1v1.1h-1.1zM366.2 94.9h1.1v1.1h-1.1zM362.3 112.0h1.1v1.1h-1.1zM361.7 100.0h1.1v1.1h-1.1zM364.3 107.4h1.1v1.1h-1.1zM362.8 105.9h1.1v1.1h-1.1zM361.9 106.7h1.1v1.1h-1.1zM360.2 94.6h1.1v1.1h-1.1zM360.5 92.5h1.1v1.1h-1.1zM366.4 101.4h1.1v1.1h-1.1zM366.7 113.9h1.1v1.1h-1.1zM361.6 108.8h1.1v1.1h-1.1zM368.4 97.6h1.1v1.1h-1.1zM360.7 101.3h1.1v1.1h-1.1zM364.7 106.9h1.1v1.1h-1.1zM364.9 97.4h1.1v1.1h-1.1zM361.4 98.3h1.1v1.1h-1.1zM364.0 94.5h1.1v1.1h-1.1zM362.6 111.7h1.1v1.1h-1.1zM363.6 93.1h1.1v1.1h-1.1zM365.7 98.7h1.1v1.1h-1.1zM364.4 99.6h1.1v1.1h-1.1zM354.7 82.3h1.1v1.1h-1.1zM364.0 69.8h1.1v1.1h-1.1zM361.3 72.4h1.1v1.1h-1.1zM363.8 68.1h1.1v1.1h-1.1zM349.6 83.4h1.1v1.1h-1.1zM363.1 73.7h1.1v1.1h-1.1zM365.7 72.9h1.1v1.1h-1.1zM357.1 76.4h1.1v1.1h-1.1zM367.0 70.4h1.1v1.1h-1.1zM352.3 82.5h1.1v1.1h-1.1zM356.1 76.3h1.1v1.1h-1.1zM356.4 80.0h1.1v1.1h-1.1zM360.0 75.0h1.1v1.1h-1.1zM358.5 76.9h1.1v1.1h-1.1zM350.3 83.0h1.1v1.1h-1.1zM353.0 76.0h1.1v1.1h-1.1zM362.7 78.0h1.1v1.1h-1.1zM362.8 72.0h1.1v1.1h-1.1zM353.4 81.8h1.1v1.1h-1.1zM358.4 74.2h1.1v1.1h-1.1zM363.3 68.8h1.1v1.1h-1.1zM353.5 80.5h1.1v1.1h-1.1zM361.0 74.6h1.1v1.1h-1.1zM353.6 78.4h1.1v1.1h-1.1zM342.5 59.4h1.1v1.1h-1.1zM345.9 66.2h1.1v1.1h-1.1zM366.4 78.9h1.1v1.1h-1.1zM359.8 80.9h1.1v1.1h-1.1zM381.3 98.7h1.1v1.1h-1.1zM381.6 109.9h1.1v1.1h-1.1zM386.1 93.7h1.1v1.1h-1.1zM382.5 108.1h1.1v1.1h-1.1zM380.0 98.4h1.1v1.1h-1.1zM375.1 102.0h1.1v1.1h-1.1zM392.5 104.5h1.1v1.1h-1.1zM379.2 110.5h1.1v1.1h-1.1zM383.2 100.8h1.1v1.1h-1.1zM387.6 110.3h1.1v1.1h-1.1zM380.7 99.1h1.1v1.1h-1.1zM382.0 92.9h1.1v1.1h-1.1zM391.5 101.7h1.1v1.1h-1.1zM383.3 105.2h1.1v1.1h-1.1zM390.8 106.6h1.1v1.1h-1.1zM380.3 98.4h1.1v1.1h-1.1zM380.3 103.1h1.1v1.1h-1.1zM386.3 109.4h1.1v1.1h-1.1zM385.4 100.1h1.1v1.1h-1.1zM383.4 102.8h1.1v1.1h-1.1zM386.8 94.0h1.1v1.1h-1.1zM390.4 103.5h1.1v1.1h-1.1zM379.1 110.8h1.1v1.1h-1.1zM381.8 108.0h1.1v1.1h-1.1zM379.5 103.5h1.1v1.1h-1.1zM377.2 98.0h1.1v1.1h-1.1zM380.2 95.4h1.1v1.1h-1.1zM389.7 101.5h1.1v1.1h-1.1zM380.6 104.2h1.1v1.1h-1.1zM378.1 101.3h1.1v1.1h-1.1zM385.5 104.8h1.1v1.1h-1.1zM382.3 107.4h1.1v1.1h-1.1zM385.3 111.8h1.1v1.1h-1.1zM393.6 105.6h1.1v1.1h-1.1zM376.0 105.3h1.1v1.1h-1.1zM384.7 106.6h1.1v1.1h-1.1zM379.1 102.1h1.1v1.1h-1.1zM388.0 97.7h1.1v1.1h-1.1zM381.9 105.7h1.1v1.1h-1.1zM389.6 110.8h1.1v1.1h-1.1zM385.1 111.8h1.1v1.1h-1.1zM379.2 104.7h1.1v1.1h-1.1zM389.7 94.2h1.1v1.1h-1.1zM390.3 108.9h1.1v1.1h-1.1zM385.4 111.0h1.1v1.1h-1.1zM388.4 99.8h1.1v1.1h-1.1zM390.7 102.9h1.1v1.1h-1.1zM388.3 108.0h1.1v1.1h-1.1zM391.0 96.5h1.1v1.1h-1.1zM383.2 111.8h1.1v1.1h-1.1zM382.8 111.0h1.1v1.1h-1.1zM379.5 95.3h1.1v1.1h-1.1zM381.9 109.4h1.1v1.1h-1.1zM394.3 103.3h1.1v1.1h-1.1zM381.4 108.2h1.1v1.1h-1.1zM382.4 98.5h1.1v1.1h-1.1zM389.6 94.2h1.1v1.1h-1.1zM375.3 108.1h1.1v1.1h-1.1zM374.2 101.6h1.1v1.1h-1.1zM382.7 96.0h1.1v1.1h-1.1zM392.8 103.4h1.1v1.1h-1.1zM388.7 107.4h1.1v1.1h-1.1zM387.8 108.7h1.1v1.1h-1.1zM375.0 101.6h1.1v1.1h-1.1zM375.4 104.3h1.1v1.1h-1.1zM393.7 102.8h1.1v1.1h-1.1zM384.7 107.4h1.1v1.1h-1.1zM390.7 107.6h1.1v1.1h-1.1zM383.2 110.0h1.1v1.1h-1.1zM384.9 106.2h1.1v1.1h-1.1zM373.1 102.3h1.1v1.1h-1.1zM379.6 104.0h1.1v1.1h-1.1zM374.7 106.7h1.1v1.1h-1.1zM381.7 96.9h1.1v1.1h-1.1zM394.0 105.7h1.1v1.1h-1.1zM380.4 95.0h1.1v1.1h-1.1zM383.8 107.9h1.1v1.1h-1.1zM384.3 98.7h1.1v1.1h-1.1zM375.5 97.0h1.1v1.1h-1.1zM390.4 95.7h1.1v1.1h-1.1zM381.9 96.3h1.1v1.1h-1.1zM383.2 111.5h1.1v1.1h-1.1zM375.6 97.4h1.1v1.1h-1.1zM374.7 107.0h1.1v1.1h-1.1zM393.9 103.6h1.1v1.1h-1.1zM385.9 111.7h1.1v1.1h-1.1zM381.2 95.4h1.1v1.1h-1.1zM374.5 97.8h1.1v1.1h-1.1zM382.5 107.8h1.1v1.1h-1.1zM383.3 97.9h1.1v1.1h-1.1zM392.8 104.0h1.1v1.1h-1.1zM386.3 108.9h1.1v1.1h-1.1zM387.8 97.3h1.1v1.1h-1.1zM376.5 105.5h1.1v1.1h-1.1zM385.8 97.1h1.1v1.1h-1.1zM388.5 94.5h1.1v1.1h-1.1zM383.5 111.4h1.1v1.1h-1.1zM392.7 104.6h1.1v1.1h-1.1zM390.5 105.8h1.1v1.1h-1.1zM378.1 109.7h1.1v1.1h-1.1zM386.4 104.4h1.1v1.1h-1.1zM394.0 103.7h1.1v1.1h-1.1zM380.2 100.9h1.1v1.1h-1.1zM385.2 109.9h1.1v1.1h-1.1zM391.5 100.5h1.1v1.1h-1.1zM383.7 93.5h1.1v1.1h-1.1zM387.1 108.6h1.1v1.1h-1.1zM377.3 105.2h1.1v1.1h-1.1zM376.1 109.3h1.1v1.1h-1.1zM389.1 111.2h1.1v1.1h-1.1zM379.2 95.9h1.1v1.1h-1.1zM385.6 93.7h1.1v1.1h-1.1zM391.1 96.6h1.1v1.1h-1.1zM388.5 93.5h1.1v1.1h-1.1zM382.3 96.1h1.1v1.1h-1.1zM377.3 107.9h1.1v1.1h-1.1zM384.3 94.8h1.1v1.1h-1.1zM382.2 107.3h1.1v1.1h-1.1zM383.8 109.1h1.1v1.1h-1.1zM384.8 97.4h1.1v1.1h-1.1zM384.8 109.3h1.1v1.1h-1.1zM379.2 105.2h1.1v1.1h-1.1zM385.8 106.4h1.1v1.1h-1.1zM380.9 97.0h1.1v1.1h-1.1zM387.6 109.5h1.1v1.1h-1.1zM383.4 95.2h1.1v1.1h-1.1zM390.7 103.1h1.1v1.1h-1.1zM388.0 94.5h1.1v1.1h-1.1zM390.3 99.9h1.1v1.1h-1.1zM392.6 97.5h1.1v1.1h-1.1zM388.9 106.9h1.1v1.1h-1.1zM391.7 96.7h1.1v1.1h-1.1zM386.1 94.0h1.1v1.1h-1.1zM386.8 110.4h1.1v1.1h-1.1zM386.2 104.6h1.1v1.1h-1.1zM392.9 99.1h1.1v1.1h-1.1zM385.2 108.7h1.1v1.1h-1.1zM377.3 106.6h1.1v1.1h-1.1zM374.7 99.9h1.1v1.1h-1.1zM377.1 101.1h1.1v1.1h-1.1zM382.8 100.3h1.1v1.1h-1.1zM387.0 93.4h1.1v1.1h-1.1zM383.7 92.9h1.1v1.1h-1.1zM393.0 102.3h1.1v1.1h-1.1zM383.5 93.9h1.1v1.1h-1.1zM390.3 97.8h1.1v1.1h-1.1zM383.3 106.9h1.1v1.1h-1.1zM390.4 100.2h1.1v1.1h-1.1zM386.6 110.0h1.1v1.1h-1.1zM387.9 104.0h1.1v1.1h-1.1zM378.7 97.8h1.1v1.1h-1.1zM378.3 99.8h1.1v1.1h-1.1zM390.0 98.8h1.1v1.1h-1.1zM388.1 95.0h1.1v1.1h-1.1zM389.0 105.0h1.1v1.1h-1.1zM381.1 104.1h1.1v1.1h-1.1zM384.1 108.4h1.1v1.1h-1.1zM393.9 99.3h1.1v1.1h-1.1zM375.0 99.8h1.1v1.1h-1.1zM386.2 97.6h1.1v1.1h-1.1zM376.4 96.7h1.1v1.1h-1.1zM391.7 106.8h1.1v1.1h-1.1zM375.8 98.5h1.1v1.1h-1.1zM379.0 94.7h1.1v1.1h-1.1zM391.5 98.3h1.1v1.1h-1.1zM385.4 100.1h1.1v1.1h-1.1zM388.3 105.1h1.1v1.1h-1.1zM383.8 96.0h1.1v1.1h-1.1zM380.5 102.6h1.1v1.1h-1.1zM377.7 104.0h1.1v1.1h-1.1zM391.5 96.1h1.1v1.1h-1.1zM393.5 102.7h1.1v1.1h-1.1zM374.4 106.1h1.1v1.1h-1.1zM378.4 104.9h1.1v1.1h-1.1zM392.6 101.7h1.1v1.1h-1.1zM387.4 105.9h1.1v1.1h-1.1zM377.1 101.0h1.1v1.1h-1.1zM379.4 102.2h1.1v1.1h-1.1zM389.8 95.4h1.1v1.1h-1.1zM385.2 102.6h1.1v1.1h-1.1zM381.5 109.3h1.1v1.1h-1.1zM380.7 108.5h1.1v1.1h-1.1zM374.6 101.3h1.1v1.1h-1.1zM387.6 96.7h1.1v1.1h-1.1zM381.2 95.0h1.1v1.1h-1.1zM392.6 104.6h1.1v1.1h-1.1zM378.8 101.6h1.1v1.1h-1.1zM387.6 101.0h1.1v1.1h-1.1zM374.3 103.0h1.1v1.1h-1.1zM374.9 97.2h1.1v1.1h-1.1zM391.0 104.8h1.1v1.1h-1.1zM390.5 106.1h1.1v1.1h-1.1zM387.5 97.4h1.1v1.1h-1.1zM388.6 95.0h1.1v1.1h-1.1zM376.4 106.4h1.1v1.1h-1.1zM387.8 108.2h1.1v1.1h-1.1zM390.5 94.8h1.1v1.1h-1.1zM380.0 104.8h1.1v1.1h-1.1zM380.1 110.0h1.1v1.1h-1.1zM380.2 99.4h1.1v1.1h-1.1zM387.5 95.1h1.1v1.1h-1.1zM381.4 97.3h1.1v1.1h-1.1zM381.5 95.4h1.1v1.1h-1.1zM381.3 103.9h1.1v1.1h-1.1zM383.2 102.9h1.1v1.1h-1.1zM375.5 107.2h1.1v1.1h-1.1zM381.6 111.0h1.1v1.1h-1.1zM385.2 101.9h1.1v1.1h-1.1zM384.2 100.7h1.1v1.1h-1.1zM388.2 103.1h1.1v1.1h-1.1zM392.3 101.9h1.1v1.1h-1.1zM382.1 101.9h1.1v1.1h-1.1zM390.9 104.3h1.1v1.1h-1.1zM376.7 98.5h1.1v1.1h-1.1zM384.8 108.4h1.1v1.1h-1.1zM388.6 105.3h1.1v1.1h-1.1zM378.6 103.9h1.1v1.1h-1.1zM389.7 105.5h1.1v1.1h-1.1zM382.5 99.3h1.1v1.1h-1.1zM384.3 100.0h1.1v1.1h-1.1zM380.9 104.3h1.1v1.1h-1.1zM376.9 96.1h1.1v1.1h-1.1zM378.1 107.3h1.1v1.1h-1.1zM389.8 102.2h1.1v1.1h-1.1zM392.1 98.5h1.1v1.1h-1.1zM373.2 102.3h1.1v1.1h-1.1zM376.7 100.1h1.1v1.1h-1.1zM381.8 98.7h1.1v1.1h-1.1zM393.1 100.3h1.1v1.1h-1.1zM375.5 104.0h1.1v1.1h-1.1zM392.5 97.1h1.1v1.1h-1.1zM384.2 100.1h1.1v1.1h-1.1zM387.9 98.7h1.1v1.1h-1.1zM391.1 106.6h1.1v1.1h-1.1zM387.4 111.2h1.1v1.1h-1.1zM374.3 101.3h1.1v1.1h-1.1zM386.7 95.1h1.1v1.1h-1.1zM385.7 110.8h1.1v1.1h-1.1zM381.2 110.9h1.1v1.1h-1.1zM384.2 108.0h1.1v1.1h-1.1zM379.0 102.0h1.1v1.1h-1.1zM385.2 102.8h1.1v1.1h-1.1zM393.3 101.6h1.1v1.1h-1.1zM377.6 96.0h1.1v1.1h-1.1zM377.0 104.2h1.1v1.1h-1.1zM375.2 106.0h1.1v1.1h-1.1zM382.7 92.8h1.1v1.1h-1.1zM387.8 101.6h1.1v1.1h-1.1zM382.4 95.6h1.1v1.1h-1.1zM386.2 99.4h1.1v1.1h-1.1zM381.8 94.0h1.1v1.1h-1.1zM390.5 110.2h1.1v1.1h-1.1zM379.3 108.9h1.1v1.1h-1.1zM394.2 99.2h1.1v1.1h-1.1zM388.6 103.2h1.1v1.1h-1.1zM380.7 104.5h1.1v1.1h-1.1zM373.0 102.5h1.1v1.1h-1.1zM384.0 105.2h1.1v1.1h-1.1zM389.8 110.1h1.1v1.1h-1.1zM390.6 109.9h1.1v1.1h-1.1zM381.3 94.6h1.1v1.1h-1.1zM387.3 93.4h1.1v1.1h-1.1zM394.0 102.1h1.1v1.1h-1.1zM391.5 109.2h1.1v1.1h-1.1zM375.9 107.9h1.1v1.1h-1.1zM374.9 106.4h1.1v1.1h-1.1zM384.7 105.3h1.1v1.1h-1.1zM376.0 108.4h1.1v1.1h-1.1zM390.3 109.3h1.1v1.1h-1.1zM381.9 97.7h1.1v1.1h-1.1zM385.1 106.5h1.1v1.1h-1.1zM389.7 101.5h1.1v1.1h-1.1zM386.4 105.4h1.1v1.1h-1.1zM386.0 106.9h1.1v1.1h-1.1zM379.8 97.2h1.1v1.1h-1.1zM379.4 108.3h1.1v1.1h-1.1zM387.4 104.1h1.1v1.1h-1.1zM386.7 109.9h1.1v1.1h-1.1zM394.2 100.8h1.1v1.1h-1.1zM383.6 109.3h1.1v1.1h-1.1zM378.2 98.3h1.1v1.1h-1.1zM388.3 104.5h1.1v1.1h-1.1zM382.8 101.0h1.1v1.1h-1.1zM389.4 102.3h1.1v1.1h-1.1zM386.0 104.1h1.1v1.1h-1.1zM390.8 99.1h1.1v1.1h-1.1zM380.9 106.6h1.1v1.1h-1.1zM383.0 105.7h1.1v1.1h-1.1zM390.9 96.0h1.1v1.1h-1.1zM384.9 102.4h1.1v1.1h-1.1zM385.1 103.4h1.1v1.1h-1.1zM388.9 109.9h1.1v1.1h-1.1zM386.7 105.1h1.1v1.1h-1.1zM385.7 97.3h1.1v1.1h-1.1zM389.8 96.5h1.1v1.1h-1.1zM378.7 99.3h1.1v1.1h-1.1zM384.5 108.9h1.1v1.1h-1.1zM380.8 104.6h1.1v1.1h-1.1zM382.6 101.4h1.1v1.1h-1.1zM394.3 105.5h1.1v1.1h-1.1zM384.0 111.8h1.1v1.1h-1.1zM387.4 104.9h1.1v1.1h-1.1zM383.9 111.8h1.1v1.1h-1.1zM391.4 103.0h1.1v1.1h-1.1zM381.3 100.3h1.1v1.1h-1.1zM383.5 96.1h1.1v1.1h-1.1zM378.1 105.7h1.1v1.1h-1.1zM390.0 110.6h1.1v1.1h-1.1zM376.5 98.7h1.1v1.1h-1.1zM377.1 105.0h1.1v1.1h-1.1zM379.6 98.9h1.1v1.1h-1.1zM383.8 108.2h1.1v1.1h-1.1zM392.1 99.5h1.1v1.1h-1.1zM388.6 100.4h1.1v1.1h-1.1zM385.5 104.3h1.1v1.1h-1.1zM389.9 104.1h1.1v1.1h-1.1zM381.7 104.3h1.1v1.1h-1.1zM375.7 99.5h1.1v1.1h-1.1zM380.3 106.1h1.1v1.1h-1.1zM384.6 93.0h1.1v1.1h-1.1zM379.3 100.2h1.1v1.1h-1.1zM381.0 108.2h1.1v1.1h-1.1zM393.7 102.3h1.1v1.1h-1.1zM385.3 104.6h1.1v1.1h-1.1zM384.2 93.3h1.1v1.1h-1.1zM375.4 108.4h1.1v1.1h-1.1zM389.6 98.7h1.1v1.1h-1.1zM377.3 103.9h1.1v1.1h-1.1zM387.3 97.0h1.1v1.1h-1.1zM378.6 101.3h1.1v1.1h-1.1zM376.6 107.4h1.1v1.1h-1.1zM375.1 102.4h1.1v1.1h-1.1zM387.7 109.1h1.1v1.1h-1.1zM385.2 95.1h1.1v1.1h-1.1zM386.7 104.5h1.1v1.1h-1.1zM381.5 95.8h1.1v1.1h-1.1zM386.2 110.2h1.1v1.1h-1.1zM373.5 103.6h1.1v1.1h-1.1zM387.0 110.9h1.1v1.1h-1.1zM375.8 98.7h1.1v1.1h-1.1zM380.9 108.9h1.1v1.1h-1.1zM389.5 110.8h1.1v1.1h-1.1zM377.9 102.4h1.1v1.1h-1.1zM388.0 94.8h1.1v1.1h-1.1zM386.8 96.9h1.1v1.1h-1.1zM394.2 103.6h1.1v1.1h-1.1zM376.1 109.2h1.1v1.1h-1.1zM383.9 107.9h1.1v1.1h-1.1zM384.9 110.2h1.1v1.1h-1.1zM373.4 100.0h1.1v1.1h-1.1zM381.5 94.0h1.1v1.1h-1.1zM384.8 100.6h1.1v1.1h-1.1zM377.3 95.8h1.1v1.1h-1.1zM381.9 104.8h1.1v1.1h-1.1zM391.8 97.4h1.1v1.1h-1.1zM392.0 105.7h1.1v1.1h-1.1zM387.5 98.0h1.1v1.1h-1.1zM393.8 105.8h1.1v1.1h-1.1zM392.5 105.5h1.1v1.1h-1.1zM389.1 101.7h1.1v1.1h-1.1zM382.3 108.1h1.1v1.1h-1.1zM393.0 100.2h1.1v1.1h-1.1zM385.3 100.4h1.1v1.1h-1.1zM389.4 108.0h1.1v1.1h-1.1zM377.0 107.9h1.1v1.1h-1.1zM380.0 103.9h1.1v1.1h-1.1zM383.6 109.4h1.1v1.1h-1.1zM382.2 109.0h1.1v1.1h-1.1zM393.7 104.0h1.1v1.1h-1.1zM378.0 101.5h1.1v1.1h-1.1zM392.8 107.7h1.1v1.1h-1.1zM391.6 104.5h1.1v1.1h-1.1zM381.3 108.2h1.1v1.1h-1.1zM380.6 104.1h1.1v1.1h-1.1zM377.6 100.5h1.1v1.1h-1.1zM382.9 94.8h1.1v1.1h-1.1zM381.1 106.0h1.1v1.1h-1.1zM392.9 98.1h1.1v1.1h-1.1zM394.0 102.9h1.1v1.1h-1.1zM385.9 103.3h1.1v1.1h-1.1zM384.2 97.9h1.1v1.1h-1.1zM386.8 101.3h1.1v1.1h-1.1zM391.7 98.3h1.1v1.1h-1.1zM377.2 109.7h1.1v1.1h-1.1zM384.8 97.1h1.1v1.1h-1.1zM390.1 98.2h1.1v1.1h-1.1zM388.8 105.6h1.1v1.1h-1.1zM379.4 105.3h1.1v1.1h-1.1zM383.8 93.1h1.1v1.1h-1.1zM381.4 110.1h1.1v1.1h-1.1zM388.2 95.9h1.1v1.1h-1.1zM389.5 104.6h1.1v1.1h-1.1zM387.6 103.9h1.1v1.1h-1.1zM380.8 105.6h1.1v1.1h-1.1zM383.1 107.5h1.1v1.1h-1.1zM376.4 102.7h1.1v1.1h-1.1zM386.7 96.9h1.1v1.1h-1.1zM393.8 99.9h1.1v1.1h-1.1zM379.4 101.9h1.1v1.1h-1.1zM378.3 99.1h1.1v1.1h-1.1zM375.9 99.6h1.1v1.1h-1.1zM390.5 98.7h1.1v1.1h-1.1zM385.8 96.7h1.1v1.1h-1.1zM375.7 98.9h1.1v1.1h-1.1zM373.7 102.0h1.1v1.1h-1.1zM388.5 100.9h1.1v1.1h-1.1zM378.0 99.0h1.1v1.1h-1.1zM391.0 97.3h1.1v1.1h-1.1zM380.3 106.2h1.1v1.1h-1.1zM378.2 112.8h1.1v1.1h-1.1zM375.6 90.8h1.1v1.1h-1.1zM384.0 103.3h1.1v1.1h-1.1zM388.7 98.1h1.1v1.1h-1.1zM395.7 110.7h1.1v1.1h-1.1zM386.0 110.1h1.1v1.1h-1.1zM396.5 94.5h1.1v1.1h-1.1zM374.5 93.4h1.1v1.1h-1.1zM372.7 109.1h1.1v1.1h-1.1zM382.5 93.6h1.1v1.1h-1.1zM388.1 97.4h1.1v1.1h-1.1zM371.5 100.3h1.1v1.1h-1.1zM397.2 107.3h1.1v1.1h-1.1zM402.5 101.7h1.1v1.1h-1.1zM401.8 99.5h1.1v1.1h-1.1zM386.1 108.3h1.1v1.1h-1.1zM385.1 94.3h1.1v1.1h-1.1zM393.4 112.5h1.1v1.1h-1.1zM381.7 100.3h1.1v1.1h-1.1zM380.1 106.9h1.1v1.1h-1.1zM386.2 95.8h1.1v1.1h-1.1zM397.5 111.2h1.1v1.1h-1.1zM373.0 90.6h1.1v1.1h-1.1zM391.3 104.4h1.1v1.1h-1.1zM375.6 100.7h1.1v1.1h-1.1zM373.1 100.3h1.1v1.1h-1.1zM387.3 111.9h1.1v1.1h-1.1zM382.3 94.1h1.1v1.1h-1.1zM401.4 105.7h1.1v1.1h-1.1zM374.4 91.7h1.1v1.1h-1.1zM382.5 96.1h1.1v1.1h-1.1zM382.0 96.8h1.1v1.1h-1.1zM400.1 109.9h1.1v1.1h-1.1zM392.1 92.4h1.1v1.1h-1.1zM396.1 99.9h1.1v1.1h-1.1zM374.7 93.4h1.1v1.1h-1.1zM396.9 113.4h1.1v1.1h-1.1zM394.6 97.7h1.1v1.1h-1.1zM371.6 113.6h1.1v1.1h-1.1zM375.6 109.9h1.1v1.1h-1.1zM385.5 98.4h1.1v1.1h-1.1zM383.5 92.1h1.1v1.1h-1.1zM373.8 111.3h1.1v1.1h-1.1zM384.9 106.5h1.1v1.1h-1.1zM380.9 101.9h1.1v1.1h-1.1zM396.2 105.9h1.1v1.1h-1.1zM383.1 101.4h1.1v1.1h-1.1zM383.2 93.4h1.1v1.1h-1.1zM373.4 91.5h1.1v1.1h-1.1zM395.2 101.3h1.1v1.1h-1.1zM388.1 97.5h1.1v1.1h-1.1zM383.0 101.2h1.1v1.1h-1.1zM397.3 92.4h1.1v1.1h-1.1zM375.8 94.3h1.1v1.1h-1.1zM385.3 101.8h1.1v1.1h-1.1zM392.4 114.2h1.1v1.1h-1.1zM400.3 96.0h1.1v1.1h-1.1zM383.4 103.1h1.1v1.1h-1.1zM396.1 102.6h1.1v1.1h-1.1zM375.2 91.4h1.1v1.1h-1.1zM381.2 104.9h1.1v1.1h-1.1zM375.9 101.2h1.1v1.1h-1.1zM382.6 113.5h1.1v1.1h-1.1zM393.1 113.9h1.1v1.1h-1.1zM387.1 102.1h1.1v1.1h-1.1zM402.3 100.1h1.1v1.1h-1.1zM388.2 90.8h1.1v1.1h-1.1zM375.5 97.2h1.1v1.1h-1.1zM378.0 100.7h1.1v1.1h-1.1zM399.3 95.3h1.1v1.1h-1.1zM371.5 103.9h1.1v1.1h-1.1zM381.9 91.3h1.1v1.1h-1.1zM395.1 113.0h1.1v1.1h-1.1zM394.6 109.6h1.1v1.1h-1.1zM395.0 114.0h1.1v1.1h-1.1zM374.5 111.5h1.1v1.1h-1.1zM393.1 113.3h1.1v1.1h-1.1zM397.9 103.6h1.1v1.1h-1.1zM391.7 96.2h1.1v1.1h-1.1zM381.0 93.8h1.1v1.1h-1.1zM383.2 110.3h1.1v1.1h-1.1zM381.2 111.6h1.1v1.1h-1.1zM376.4 105.9h1.1v1.1h-1.1zM377.6 105.7h1.1v1.1h-1.1zM395.9 111.5h1.1v1.1h-1.1zM395.1 93.7h1.1v1.1h-1.1zM392.6 97.3h1.1v1.1h-1.1zM386.7 93.6h1.1v1.1h-1.1zM384.5 106.2h1.1v1.1h-1.1zM373.7 104.5h1.1v1.1h-1.1zM399.2 103.0h1.1v1.1h-1.1zM380.7 95.2h1.1v1.1h-1.1zM385.3 99.8h1.1v1.1h-1.1zM392.9 108.2h1.1v1.1h-1.1zM393.0 108.6h1.1v1.1h-1.1zM396.1 107.8h1.1v1.1h-1.1zM378.2 104.2h1.1v1.1h-1.1zM382.8 92.1h1.1v1.1h-1.1zM390.7 93.6h1.1v1.1h-1.1zM392.6 103.3h1.1v1.1h-1.1zM372.3 100.4h1.1v1.1h-1.1zM388.0 96.3h1.1v1.1h-1.1zM400.7 113.3h1.1v1.1h-1.1zM373.3 107.6h1.1v1.1h-1.1zM384.1 110.5h1.1v1.1h-1.1zM400.9 102.4h1.1v1.1h-1.1zM390.9 99.1h1.1v1.1h-1.1zM391.9 114.3h1.1v1.1h-1.1zM380.9 90.9h1.1v1.1h-1.1zM392.7 104.3h1.1v1.1h-1.1zM383.3 112.8h1.1v1.1h-1.1zM373.9 96.0h1.1v1.1h-1.1zM397.3 90.4h1.1v1.1h-1.1zM378.6 94.3h1.1v1.1h-1.1zM383.8 108.1h1.1v1.1h-1.1zM370.3 108.2h1.1v1.1h-1.1zM390.2 104.6h1.1v1.1h-1.1zM388.3 105.4h1.1v1.1h-1.1zM379.1 111.9h1.1v1.1h-1.1zM377.2 113.2h1.1v1.1h-1.1zM401.4 110.4h1.1v1.1h-1.1zM382.7 113.2h1.1v1.1h-1.1zM377.0 102.1h1.1v1.1h-1.1zM386.6 93.6h1.1v1.1h-1.1zM385.8 92.3h1.1v1.1h-1.1zM379.2 110.4h1.1v1.1h-1.1zM392.4 99.1h1.1v1.1h-1.1zM391.4 94.3h1.1v1.1h-1.1zM391.7 111.8h1.1v1.1h-1.1zM370.4 97.5h1.1v1.1h-1.1zM378.4 92.3h1.1v1.1h-1.1zM400.2 106.9h1.1v1.1h-1.1zM390.3 105.1h1.1v1.1h-1.1zM392.2 97.1h1.1v1.1h-1.1zM376.6 92.1h1.1v1.1h-1.1zM375.0 95.0h1.1v1.1h-1.1zM396.3 98.0h1.1v1.1h-1.1zM382.7 108.2h1.1v1.1h-1.1zM389.3 100.3h1.1v1.1h-1.1zM375.9 98.5h1.1v1.1h-1.1zM395.8 96.7h1.1v1.1h-1.1zM388.4 101.3h1.1v1.1h-1.1zM370.5 111.1h1.1v1.1h-1.1zM398.4 110.5h1.1v1.1h-1.1zM384.3 100.6h1.1v1.1h-1.1zM392.2 114.2h1.1v1.1h-1.1zM386.4 97.4h1.1v1.1h-1.1zM385.6 104.1h1.1v1.1h-1.1zM390.7 113.0h1.1v1.1h-1.1zM389.0 110.2h1.1v1.1h-1.1zM385.5 101.2h1.1v1.1h-1.1zM399.9 97.1h1.1v1.1h-1.1zM379.9 103.5h1.1v1.1h-1.1zM373.6 94.2h1.1v1.1h-1.1zM387.0 105.8h1.1v1.1h-1.1zM371.3 106.9h1.1v1.1h-1.1zM379.7 106.8h1.1v1.1h-1.1zM391.1 111.3h1.1v1.1h-1.1zM391.8 113.2h1.1v1.1h-1.1zM379.6 108.3h1.1v1.1h-1.1zM389.4 99.8h1.1v1.1h-1.1zM393.8 110.7h1.1v1.1h-1.1zM389.1 107.6h1.1v1.1h-1.1zM383.5 111.1h1.1v1.1h-1.1zM382.6 105.4h1.1v1.1h-1.1zM389.6 102.7h1.1v1.1h-1.1zM400.3 107.3h1.1v1.1h-1.1zM389.4 107.5h1.1v1.1h-1.1zM393.4 98.2h1.1v1.1h-1.1zM380.4 105.0h1.1v1.1h-1.1zM374.5 109.9h1.1v1.1h-1.1zM395.4 105.8h1.1v1.1h-1.1zM380.9 114.0h1.1v1.1h-1.1zM394.5 111.1h1.1v1.1h-1.1zM393.7 103.8h1.1v1.1h-1.1zM379.3 94.6h1.1v1.1h-1.1zM396.9 105.3h1.1v1.1h-1.1zM377.7 95.3h1.1v1.1h-1.1zM386.0 105.6h1.1v1.1h-1.1zM395.1 101.9h1.1v1.1h-1.1zM378.2 106.7h1.1v1.1h-1.1zM374.2 94.4h1.1v1.1h-1.1zM382.2 103.9h1.1v1.1h-1.1zM370.5 93.5h1.1v1.1h-1.1zM393.3 100.2h1.1v1.1h-1.1zM384.7 101.7h1.1v1.1h-1.1zM375.7 113.6h1.1v1.1h-1.1zM400.5 105.6h1.1v1.1h-1.1zM372.9 106.9h1.1v1.1h-1.1zM396.7 98.3h1.1v1.1h-1.1zM374.9 107.9h1.1v1.1h-1.1zM390.9 99.7h1.1v1.1h-1.1zM379.7 112.8h1.1v1.1h-1.1zM372.8 97.7h1.1v1.1h-1.1zM385.8 104.5h1.1v1.1h-1.1zM378.4 104.6h1.1v1.1h-1.1zM373.6 103.1h1.1v1.1h-1.1zM372.7 99.7h1.1v1.1h-1.1zM393.5 95.1h1.1v1.1h-1.1zM374.9 113.7h1.1v1.1h-1.1zM384.1 91.6h1.1v1.1h-1.1zM384.0 96.8h1.1v1.1h-1.1zM397.0 111.6h1.1v1.1h-1.1zM395.1 106.6h1.1v1.1h-1.1zM388.8 91.6h1.1v1.1h-1.1zM391.4 99.6h1.1v1.1h-1.1zM379.2 103.9h1.1v1.1h-1.1zM377.9 114.2h1.1v1.1h-1.1zM389.7 108.4h1.1v1.1h-1.1zM373.5 91.1h1.1v1.1h-1.1zM375.6 94.7h1.1v1.1h-1.1zM388.1 106.1h1.1v1.1h-1.1zM386.4 106.2h1.1v1.1h-1.1zM383.7 92.0h1.1v1.1h-1.1zM373.1 90.4h1.1v1.1h-1.1zM380.5 94.1h1.1v1.1h-1.1zM401.3 105.5h1.1v1.1h-1.1zM373.1 106.4h1.1v1.1h-1.1zM386.6 110.4h1.1v1.1h-1.1zM376.1 98.6h1.1v1.1h-1.1zM386.1 102.6h1.1v1.1h-1.1zM374.6 110.4h1.1v1.1h-1.1zM375.1 101.4h1.1v1.1h-1.1zM388.7 100.9h1.1v1.1h-1.1zM381.2 107.7h1.1v1.1h-1.1zM387.3 106.8h1.1v1.1h-1.1zM395.1 112.7h1.1v1.1h-1.1zM386.2 100.3h1.1v1.1h-1.1zM400.3 113.7h1.1v1.1h-1.1zM398.8 95.1h1.1v1.1h-1.1zM400.0 105.9h1.1v1.1h-1.1zM387.2 93.4h1.1v1.1h-1.1zM375.3 111.2h1.1v1.1h-1.1zM379.5 101.7h1.1v1.1h-1.1zM384.1 99.6h1.1v1.1h-1.1zM384.0 97.0h1.1v1.1h-1.1zM399.7 102.7h1.1v1.1h-1.1zM379.6 95.4h1.1v1.1h-1.1zM396.4 109.4h1.1v1.1h-1.1zM397.1 104.7h1.1v1.1h-1.1zM380.8 95.3h1.1v1.1h-1.1zM382.2 92.4h1.1v1.1h-1.1zM379.0 98.6h1.1v1.1h-1.1zM373.7 93.9h1.1v1.1h-1.1zM373.9 99.7h1.1v1.1h-1.1zM400.6 113.5h1.1v1.1h-1.1zM373.3 104.7h1.1v1.1h-1.1zM370.1 106.4h1.1v1.1h-1.1zM390.6 102.7h1.1v1.1h-1.1zM379.1 101.5h1.1v1.1h-1.1zM371.2 106.1h1.1v1.1h-1.1zM395.7 92.3h1.1v1.1h-1.1zM400.2 114.0h1.1v1.1h-1.1zM383.9 110.6h1.1v1.1h-1.1zM388.5 96.8h1.1v1.1h-1.1zM392.6 98.9h1.1v1.1h-1.1zM375.0 109.0h1.1v1.1h-1.1zM376.2 112.9h1.1v1.1h-1.1zM376.5 98.0h1.1v1.1h-1.1zM396.4 110.5h1.1v1.1h-1.1zM383.2 105.0h1.1v1.1h-1.1zM401.1 97.3h1.1v1.1h-1.1zM378.8 92.7h1.1v1.1h-1.1zM392.7 107.0h1.1v1.1h-1.1zM374.0 107.7h1.1v1.1h-1.1zM379.4 102.6h1.1v1.1h-1.1zM388.5 104.4h1.1v1.1h-1.1zM388.2 99.9h1.1v1.1h-1.1zM393.1 95.3h1.1v1.1h-1.1zM398.7 99.6h1.1v1.1h-1.1zM395.5 105.0h1.1v1.1h-1.1zM384.8 101.8h1.1v1.1h-1.1zM387.3 100.4h1.1v1.1h-1.1zM388.5 101.8h1.1v1.1h-1.1zM397.8 96.6h1.1v1.1h-1.1zM394.8 100.2h1.1v1.1h-1.1zM398.1 110.3h1.1v1.1h-1.1zM372.4 112.7h1.1v1.1h-1.1zM396.8 106.1h1.1v1.1h-1.1zM376.3 110.4h1.1v1.1h-1.1zM389.5 95.8h1.1v1.1h-1.1zM391.1 93.1h1.1v1.1h-1.1zM393.0 94.9h1.1v1.1h-1.1zM380.0 90.8h1.1v1.1h-1.1zM382.3 104.9h1.1v1.1h-1.1zM391.6 100.3h1.1v1.1h-1.1zM379.2 92.5h1.1v1.1h-1.1zM381.7 109.2h1.1v1.1h-1.1zM400.8 112.6h1.1v1.1h-1.1zM372.7 93.3h1.1v1.1h-1.1zM382.1 103.8h1.1v1.1h-1.1zM371.6 92.4h1.1v1.1h-1.1zM397.2 114.4h1.1v1.1h-1.1zM384.4 109.5h1.1v1.1h-1.1zM393.2 108.9h1.1v1.1h-1.1zM383.8 112.8h1.1v1.1h-1.1zM374.0 96.7h1.1v1.1h-1.1zM390.9 96.3h1.1v1.1h-1.1zM397.7 110.2h1.1v1.1h-1.1zM396.0 111.5h1.1v1.1h-1.1zM390.9 94.6h1.1v1.1h-1.1zM380.8 90.3h1.1v1.1h-1.1zM383.0 105.7h1.1v1.1h-1.1zM393.0 107.6h1.1v1.1h-1.1zM378.5 112.6h1.1v1.1h-1.1zM387.9 95.2h1.1v1.1h-1.1zM400.9 106.5h1.1v1.1h-1.1zM392.5 105.0h1.1v1.1h-1.1zM369.9 103.6h1.1v1.1h-1.1zM393.8 106.4h1.1v1.1h-1.1zM377.0 101.7h1.1v1.1h-1.1zM393.9 112.1h1.1v1.1h-1.1zM377.5 104.1h1.1v1.1h-1.1zM372.2 94.5h1.1v1.1h-1.1zM382.5 90.6h1.1v1.1h-1.1zM381.6 111.4h1.1v1.1h-1.1zM379.9 93.9h1.1v1.1h-1.1zM373.4 103.6h1.1v1.1h-1.1zM383.2 105.4h1.1v1.1h-1.1zM383.2 103.0h1.1v1.1h-1.1zM383.3 97.2h1.1v1.1h-1.1z" fill="#000"/>
<path d="M336.1 96.7h0.9v0.9h-0.9zM343.4 97.1h0.9v0.9h-0.9zM343.7 95.3h0.9v0.9h-0.9zM343.0 100.0h0.9v0.9h-0.9zM338.4 97.3h0.9v0.9h-0.9zM338.6 97.6h0.9v0.9h-0.9zM345.2 99.2h0.9v0.9h-0.9zM337.0 101.0h0.9v0.9h-0.9zM342.8 99.9h0.9v0.9h-0.9zM344.4 100.5h0.9v0.9h-0.9zM343.8 96.6h0.9v0.9h-0.9zM343.5 99.0h0.9v0.9h-0.9zM340.2 100.2h0.9v0.9h-0.9zM336.1 98.0h0.9v0.9h-0.9z" fill="#fff"/>
<path d="M386.9 84.8h0.9v0.9h-0.9zM377.9 81.0h0.9v0.9h-0.9zM374.4 82.4h0.9v0.9h-0.9zM376.5 88.0h0.9v0.9h-0.9zM382.0 82.7h0.9v0.9h-0.9zM382.8 80.2h0.9v0.9h-0.9zM380.4 84.7h0.9v0.9h-0.9zM372.2 85.9h0.9v0.9h-0.9zM384.3 83.6h0.9v0.9h-0.9zM384.0 84.9h0.9v0.9h-0.9zM379.4 85.3h0.9v0.9h-0.9zM374.3 86.2h0.9v0.9h-0.9zM382.5 84.7h0.9v0.9h-0.9zM382.2 81.6h0.9v0.9h-0.9zM379.0 87.9h0.9v0.9h-0.9zM377.5 82.4h0.9v0.9h-0.9zM380.4 87.3h0.9v0.9h-0.9zM388.4 81.0h0.9v0.9h-0.9zM379.2 85.0h0.9v0.9h-0.9zM383.2 81.0h0.9v0.9h-0.9zM377.6 83.4h0.9v0.9h-0.9zM381.9 83.3h0.9v0.9h-0.9z" fill="#fff"/>
<polygon points="437.5,115.0 437.0,100.0 439.0,96.0 442.0,94.0 446.0,93.0 450.0,92.8 454.0,94.5 456.5,98.0 457.0,105.0 456.5,115.0" fill="#000" stroke="#000" stroke-width="0.8" stroke-linejoin="round"/>
<path d="M437.9 97.8h1.1v1.1h-1.1zM436.9 99.7h1.1v1.1h-1.1zM458.2 110.0h1.1v1.1h-1.1zM458.5 99.6h1.1v1.1h-1.1zM444.7 93.2h1.1v1.1h-1.1zM459.5 108.9h1.1v1.1h-1.1zM449.9 91.1h1.1v1.1h-1.1zM440.0 93.5h1.1v1.1h-1.1zM438.5 91.3h1.1v1.1h-1.1zM438.2 97.0h1.1v1.1h-1.1zM443.5 91.3h1.1v1.1h-1.1zM441.3 94.1h1.1v1.1h-1.1zM456.2 92.0h1.1v1.1h-1.1zM458.4 101.5h1.1v1.1h-1.1zM446.9 90.5h1.1v1.1h-1.1zM453.3 91.7h1.1v1.1h-1.1zM447.6 91.9h1.1v1.1h-1.1zM456.6 94.5h1.1v1.1h-1.1zM436.4 112.3h1.1v1.1h-1.1zM452.3 93.1h1.1v1.1h-1.1zM459.3 109.5h1.1v1.1h-1.1zM457.3 110.2h1.1v1.1h-1.1zM435.5 97.2h1.1v1.1h-1.1zM454.9 95.5h1.1v1.1h-1.1zM456.6 95.0h1.1v1.1h-1.1zM448.2 92.3h1.1v1.1h-1.1zM436.8 101.7h1.1v1.1h-1.1zM459.3 109.3h1.1v1.1h-1.1zM458.1 94.9h1.1v1.1h-1.1zM457.9 108.8h1.1v1.1h-1.1zM457.4 111.8h1.1v1.1h-1.1zM436.7 101.4h1.1v1.1h-1.1zM461.9 103.5h1.1v1.1h-1.1zM437.1 96.3h1.1v1.1h-1.1zM457.1 103.1h1.1v1.1h-1.1zM456.6 95.8h1.1v1.1h-1.1zM457.4 105.5h1.1v1.1h-1.1zM437.1 112.3h1.1v1.1h-1.1zM457.4 108.6h1.1v1.1h-1.1zM457.0 104.6h1.1v1.1h-1.1zM436.2 101.6h1.1v1.1h-1.1zM441.6 94.1h1.1v1.1h-1.1zM442.9 89.5h1.1v1.1h-1.1zM438.9 93.9h1.1v1.1h-1.1zM440.8 92.3h1.1v1.1h-1.1zM456.1 94.2h1.1v1.1h-1.1zM458.4 103.3h1.1v1.1h-1.1zM457.0 109.9h1.1v1.1h-1.1zM447.6 90.3h1.1v1.1h-1.1zM457.4 109.7h1.1v1.1h-1.1zM437.1 106.8h1.1v1.1h-1.1zM456.6 99.0h1.1v1.1h-1.1zM454.4 92.2h1.1v1.1h-1.1zM442.5 90.6h1.1v1.1h-1.1zM436.6 96.0h1.1v1.1h-1.1zM457.9 102.4h1.1v1.1h-1.1zM438.3 96.2h1.1v1.1h-1.1zM436.1 101.2h1.1v1.1h-1.1zM450.5 92.0h1.1v1.1h-1.1zM439.4 95.4h1.1v1.1h-1.1zM459.5 101.6h1.1v1.1h-1.1zM436.3 107.1h1.1v1.1h-1.1zM446.5 90.9h1.1v1.1h-1.1zM437.1 99.3h1.1v1.1h-1.1zM443.1 92.1h1.1v1.1h-1.1zM456.3 96.1h1.1v1.1h-1.1zM454.0 91.9h1.1v1.1h-1.1zM437.4 98.4h1.1v1.1h-1.1zM446.2 91.8h1.1v1.1h-1.1zM452.4 91.8h1.1v1.1h-1.1zM436.3 103.3h1.1v1.1h-1.1zM459.0 100.3h1.1v1.1h-1.1zM436.0 94.6h1.1v1.1h-1.1zM456.6 94.1h1.1v1.1h-1.1zM457.1 104.7h1.1v1.1h-1.1zM444.0 92.2h1.1v1.1h-1.1zM437.5 95.3h1.1v1.1h-1.1zM457.0 102.8h1.1v1.1h-1.1zM436.1 102.8h1.1v1.1h-1.1zM454.5 92.5h1.1v1.1h-1.1zM436.5 98.9h1.1v1.1h-1.1zM457.7 98.4h1.1v1.1h-1.1zM457.7 104.9h1.1v1.1h-1.1zM437.0 99.1h1.1v1.1h-1.1zM457.4 106.1h1.1v1.1h-1.1zM440.9 94.7h1.1v1.1h-1.1zM437.4 98.3h1.1v1.1h-1.1zM436.7 108.6h1.1v1.1h-1.1zM442.0 93.3h1.1v1.1h-1.1zM437.4 96.9h1.1v1.1h-1.1zM435.2 103.8h1.1v1.1h-1.1zM437.9 97.6h1.1v1.1h-1.1zM455.2 91.8h1.1v1.1h-1.1zM459.3 98.7h1.1v1.1h-1.1zM458.3 100.4h1.1v1.1h-1.1zM435.9 112.0h1.1v1.1h-1.1zM457.6 96.7h1.1v1.1h-1.1zM456.4 96.2h1.1v1.1h-1.1zM457.7 112.0h1.1v1.1h-1.1zM439.5 94.6h1.1v1.1h-1.1zM435.5 110.8h1.1v1.1h-1.1zM436.5 102.5h1.1v1.1h-1.1zM447.5 92.7h1.1v1.1h-1.1zM456.7 100.1h1.1v1.1h-1.1zM437.0 95.1h1.1v1.1h-1.1zM457.3 100.0h1.1v1.1h-1.1zM457.1 107.9h1.1v1.1h-1.1zM461.4 103.1h1.1v1.1h-1.1zM456.9 111.0h1.1v1.1h-1.1zM435.2 95.7h1.1v1.1h-1.1zM437.2 107.9h1.1v1.1h-1.1zM462.0 104.5h1.1v1.1h-1.1zM458.4 103.6h1.1v1.1h-1.1zM439.5 94.8h1.1v1.1h-1.1zM437.2 96.6h1.1v1.1h-1.1zM440.0 94.5h1.1v1.1h-1.1zM437.0 111.4h1.1v1.1h-1.1zM436.5 105.1h1.1v1.1h-1.1zM458.9 108.1h1.1v1.1h-1.1zM456.9 107.8h1.1v1.1h-1.1zM454.9 94.1h1.1v1.1h-1.1zM457.3 97.9h1.1v1.1h-1.1zM437.1 104.4h1.1v1.1h-1.1zM440.4 93.1h1.1v1.1h-1.1zM460.0 102.2h1.1v1.1h-1.1zM451.4 92.4h1.1v1.1h-1.1zM446.8 89.8h1.1v1.1h-1.1zM457.0 113.7h1.1v1.1h-1.1zM458.2 101.8h1.1v1.1h-1.1zM458.3 103.3h1.1v1.1h-1.1zM444.7 90.3h1.1v1.1h-1.1zM436.7 104.0h1.1v1.1h-1.1zM459.5 104.3h1.1v1.1h-1.1zM444.5 91.8h1.1v1.1h-1.1zM459.4 112.2h1.1v1.1h-1.1zM454.0 93.0h1.1v1.1h-1.1zM457.7 106.9h1.1v1.1h-1.1zM436.6 97.4h1.1v1.1h-1.1zM436.8 97.9h1.1v1.1h-1.1zM445.1 89.8h1.1v1.1h-1.1zM453.7 94.1h1.1v1.1h-1.1zM458.4 102.1h1.1v1.1h-1.1zM459.6 104.7h1.1v1.1h-1.1zM453.1 94.0h1.1v1.1h-1.1zM445.5 93.0h1.1v1.1h-1.1zM459.1 100.8h1.1v1.1h-1.1zM457.1 101.2h1.1v1.1h-1.1zM455.3 93.8h1.1v1.1h-1.1zM437.2 99.6h1.1v1.1h-1.1zM459.0 94.4h1.1v1.1h-1.1zM436.7 98.9h1.1v1.1h-1.1zM457.4 101.3h1.1v1.1h-1.1zM457.2 102.4h1.1v1.1h-1.1zM456.1 94.2h1.1v1.1h-1.1zM461.3 104.9h1.1v1.1h-1.1zM456.8 96.8h1.1v1.1h-1.1zM458.7 114.0h1.1v1.1h-1.1zM445.9 89.8h1.1v1.1h-1.1zM444.1 92.6h1.1v1.1h-1.1zM454.7 93.0h1.1v1.1h-1.1zM437.3 94.7h1.1v1.1h-1.1zM437.2 111.6h1.1v1.1h-1.1zM455.9 97.0h1.1v1.1h-1.1zM459.2 99.1h1.1v1.1h-1.1zM453.1 93.9h1.1v1.1h-1.1zM458.7 113.4h1.1v1.1h-1.1zM458.1 111.9h1.1v1.1h-1.1zM445.8 90.9h1.1v1.1h-1.1zM457.5 99.8h1.1v1.1h-1.1zM459.1 100.2h1.1v1.1h-1.1zM463.6 81.4h1.1v1.1h-1.1zM453.4 93.0h1.1v1.1h-1.1zM456.1 88.1h1.1v1.1h-1.1zM451.8 97.3h1.1v1.1h-1.1zM465.1 82.2h1.1v1.1h-1.1zM461.8 81.2h1.1v1.1h-1.1zM461.7 79.2h1.1v1.1h-1.1zM452.7 85.3h1.1v1.1h-1.1zM462.8 81.4h1.1v1.1h-1.1zM454.9 80.6h1.1v1.1h-1.1zM457.9 85.5h1.1v1.1h-1.1zM455.8 91.3h1.1v1.1h-1.1zM460.8 88.2h1.1v1.1h-1.1zM466.1 85.8h1.1v1.1h-1.1zM464.0 79.6h1.1v1.1h-1.1zM455.1 88.3h1.1v1.1h-1.1zM464.1 75.1h1.1v1.1h-1.1zM449.6 96.2h1.1v1.1h-1.1zM461.4 85.1h1.1v1.1h-1.1zM461.2 82.6h1.1v1.1h-1.1zM449.3 93.3h1.1v1.1h-1.1zM457.1 85.4h1.1v1.1h-1.1zM463.7 80.2h1.1v1.1h-1.1zM463.4 78.4h1.1v1.1h-1.1zM458.3 84.6h1.1v1.1h-1.1zM458.4 87.2h1.1v1.1h-1.1zM455.7 95.6h1.1v1.1h-1.1zM459.6 90.5h1.1v1.1h-1.1zM464.5 78.6h1.1v1.1h-1.1zM463.8 85.7h1.1v1.1h-1.1zM460.7 81.7h1.1v1.1h-1.1zM454.3 96.2h1.1v1.1h-1.1zM455.5 85.1h1.1v1.1h-1.1zM452.6 85.6h1.1v1.1h-1.1zM458.9 80.6h1.1v1.1h-1.1zM458.6 86.5h1.1v1.1h-1.1zM454.4 84.8h1.1v1.1h-1.1zM453.9 93.2h1.1v1.1h-1.1zM450.9 84.5h1.1v1.1h-1.1zM468.6 82.6h1.1v1.1h-1.1zM454.6 83.1h1.1v1.1h-1.1zM454.9 84.5h1.1v1.1h-1.1zM453.6 95.8h1.1v1.1h-1.1zM455.8 86.4h1.1v1.1h-1.1zM460.7 84.7h1.1v1.1h-1.1zM452.2 88.2h1.1v1.1h-1.1zM458.6 75.9h1.1v1.1h-1.1zM462.8 80.2h1.1v1.1h-1.1zM458.3 92.8h1.1v1.1h-1.1zM461.5 85.1h1.1v1.1h-1.1zM462.2 76.2h1.1v1.1h-1.1zM462.9 85.1h1.1v1.1h-1.1zM454.7 79.6h1.1v1.1h-1.1zM450.1 95.7h1.1v1.1h-1.1zM456.0 97.9h1.1v1.1h-1.1zM461.5 88.1h1.1v1.1h-1.1zM454.7 78.2h1.1v1.1h-1.1zM456.6 80.8h1.1v1.1h-1.1zM459.6 82.4h1.1v1.1h-1.1zM450.2 92.6h1.1v1.1h-1.1zM454.6 91.4h1.1v1.1h-1.1zM463.0 83.6h1.1v1.1h-1.1zM458.4 80.8h1.1v1.1h-1.1zM461.7 84.1h1.1v1.1h-1.1zM462.4 84.7h1.1v1.1h-1.1zM462.7 89.8h1.1v1.1h-1.1zM454.7 90.2h1.1v1.1h-1.1zM460.6 88.4h1.1v1.1h-1.1zM463.0 84.5h1.1v1.1h-1.1zM464.7 85.9h1.1v1.1h-1.1zM468.7 65.2h1.1v1.1h-1.1zM453.5 60.0h1.1v1.1h-1.1zM451.6 61.6h1.1v1.1h-1.1zM461.5 72.9h1.1v1.1h-1.1zM468.4 60.6h1.1v1.1h-1.1zM451.7 82.0h1.1v1.1h-1.1zM453.3 58.3h1.1v1.1h-1.1zM452.7 75.2h1.1v1.1h-1.1zM466.8 53.3h1.1v1.1h-1.1zM461.0 45.1h1.1v1.1h-1.1zM463.0 50.4h1.1v1.1h-1.1zM455.9 68.3h1.1v1.1h-1.1zM458.8 78.1h1.1v1.1h-1.1zM450.6 53.3h1.1v1.1h-1.1zM453.8 61.1h1.1v1.1h-1.1zM466.1 86.4h1.1v1.1h-1.1zM468.3 52.2h1.1v1.1h-1.1zM453.9 56.6h1.1v1.1h-1.1zM461.2 80.7h1.1v1.1h-1.1zM459.7 45.6h1.1v1.1h-1.1zM463.0 71.3h1.1v1.1h-1.1zM457.2 67.6h1.1v1.1h-1.1zM483.8 72.9h1.1v1.1h-1.1zM492.1 77.1h1.1v1.1h-1.1zM486.2 63.6h1.1v1.1h-1.1zM499.0 85.8h1.1v1.1h-1.1zM498.7 90.3h1.1v1.1h-1.1zM482.2 77.0h1.1v1.1h-1.1zM482.1 75.9h1.1v1.1h-1.1zM479.8 97.5h1.1v1.1h-1.1zM495.6 70.3h1.1v1.1h-1.1zM479.8 75.2h1.1v1.1h-1.1zM494.7 71.5h1.1v1.1h-1.1zM490.2 81.0h1.1v1.1h-1.1zM499.4 91.7h1.1v1.1h-1.1zM486.3 78.5h1.1v1.1h-1.1zM481.0 102.4h1.1v1.1h-1.1zM482.6 61.8h1.1v1.1h-1.1zM485.8 94.5h1.1v1.1h-1.1zM490.7 55.6h1.1v1.1h-1.1zM492.0 99.1h1.1v1.1h-1.1zM495.6 67.2h1.1v1.1h-1.1zM479.8 77.2h1.1v1.1h-1.1zM483.1 112.0h1.1v1.1h-1.1zM494.4 73.3h1.1v1.1h-1.1zM497.8 90.8h1.1v1.1h-1.1zM484.2 109.6h1.1v1.1h-1.1zM493.4 66.2h1.1v1.1h-1.1zM498.3 78.1h1.1v1.1h-1.1zM494.1 80.9h1.1v1.1h-1.1zM493.8 60.6h1.1v1.1h-1.1zM493.3 68.2h1.1v1.1h-1.1zM497.6 102.1h1.1v1.1h-1.1zM494.0 96.7h1.1v1.1h-1.1zM478.6 100.0h1.1v1.1h-1.1zM492.3 111.9h1.1v1.1h-1.1zM485.3 55.6h1.1v1.1h-1.1zM479.4 107.7h1.1v1.1h-1.1zM486.5 59.4h1.1v1.1h-1.1zM478.7 93.1h1.1v1.1h-1.1zM486.6 99.2h1.1v1.1h-1.1zM492.6 68.8h1.1v1.1h-1.1zM492.6 78.5h1.1v1.1h-1.1zM494.1 69.7h1.1v1.1h-1.1zM485.3 65.1h1.1v1.1h-1.1zM481.2 79.0h1.1v1.1h-1.1zM492.7 89.9h1.1v1.1h-1.1zM482.6 78.1h1.1v1.1h-1.1zM488.5 68.0h1.1v1.1h-1.1zM492.9 75.3h1.1v1.1h-1.1zM480.4 95.8h1.1v1.1h-1.1zM482.1 76.0h1.1v1.1h-1.1zM496.5 62.6h1.1v1.1h-1.1zM491.2 90.2h1.1v1.1h-1.1zM484.5 61.8h1.1v1.1h-1.1zM487.7 68.9h1.1v1.1h-1.1zM487.2 63.4h1.1v1.1h-1.1zM487.6 109.9h1.1v1.1h-1.1zM478.2 89.1h1.1v1.1h-1.1zM488.0 105.4h1.1v1.1h-1.1zM496.4 81.9h1.1v1.1h-1.1zM484.1 111.2h1.1v1.1h-1.1zM497.7 107.6h1.1v1.1h-1.1zM480.1 78.4h1.1v1.1h-1.1zM489.2 72.6h1.1v1.1h-1.1zM483.4 74.4h1.1v1.1h-1.1zM482.1 112.0h1.1v1.1h-1.1zM499.6 92.0h1.1v1.1h-1.1zM491.7 114.0h1.1v1.1h-1.1zM490.0 100.4h1.1v1.1h-1.1zM482.6 60.0h1.1v1.1h-1.1zM498.2 98.6h1.1v1.1h-1.1zM486.5 62.3h1.1v1.1h-1.1zM497.2 76.0h1.1v1.1h-1.1zM496.8 91.1h1.1v1.1h-1.1zM495.3 90.6h1.1v1.1h-1.1zM498.9 92.2h1.1v1.1h-1.1zM494.7 113.6h1.1v1.1h-1.1zM495.4 102.0h1.1v1.1h-1.1zM484.0 83.1h1.1v1.1h-1.1zM498.6 113.0h1.1v1.1h-1.1zM487.1 80.6h1.1v1.1h-1.1zM489.6 106.2h1.1v1.1h-1.1zM489.6 72.5h1.1v1.1h-1.1zM493.2 102.0h1.1v1.1h-1.1zM492.5 110.3h1.1v1.1h-1.1zM491.9 56.4h1.1v1.1h-1.1zM484.5 93.3h1.1v1.1h-1.1zM494.5 104.4h1.1v1.1h-1.1zM488.6 101.0h1.1v1.1h-1.1zM483.0 107.5h1.1v1.1h-1.1zM498.2 113.6h1.1v1.1h-1.1zM488.2 69.1h1.1v1.1h-1.1zM485.8 105.0h1.1v1.1h-1.1zM482.6 100.8h1.1v1.1h-1.1zM485.4 69.9h1.1v1.1h-1.1zM498.0 87.4h1.1v1.1h-1.1zM488.5 58.4h1.1v1.1h-1.1zM482.6 106.6h1.1v1.1h-1.1zM487.9 81.7h1.1v1.1h-1.1zM481.9 57.0h1.1v1.1h-1.1zM498.7 104.5h1.1v1.1h-1.1zM499.3 113.1h1.1v1.1h-1.1zM497.1 75.6h1.1v1.1h-1.1zM487.0 84.8h1.1v1.1h-1.1zM488.2 58.7h1.1v1.1h-1.1zM485.8 67.6h1.1v1.1h-1.1zM489.4 83.4h1.1v1.1h-1.1zM482.7 60.1h1.1v1.1h-1.1zM493.2 69.4h1.1v1.1h-1.1zM493.9 88.9h1.1v1.1h-1.1zM489.9 75.8h1.1v1.1h-1.1zM483.0 88.9h1.1v1.1h-1.1zM482.4 76.2h1.1v1.1h-1.1zM479.5 94.8h1.1v1.1h-1.1zM492.4 95.5h1.1v1.1h-1.1zM498.3 87.8h1.1v1.1h-1.1zM486.9 70.0h1.1v1.1h-1.1zM490.5 81.1h1.1v1.1h-1.1zM488.5 71.0h1.1v1.1h-1.1zM482.7 102.4h1.1v1.1h-1.1zM492.5 65.2h1.1v1.1h-1.1zM488.7 111.1h1.1v1.1h-1.1zM496.5 112.1h1.1v1.1h-1.1zM490.8 80.7h1.1v1.1h-1.1zM478.5 106.8h1.1v1.1h-1.1zM492.4 85.7h1.1v1.1h-1.1zM493.1 108.9h1.1v1.1h-1.1zM484.3 70.0h1.1v1.1h-1.1zM478.8 100.3h1.1v1.1h-1.1zM491.5 57.8h1.1v1.1h-1.1zM487.0 90.4h1.1v1.1h-1.1zM498.8 94.4h1.1v1.1h-1.1zM493.3 99.5h1.1v1.1h-1.1zM488.1 103.4h1.1v1.1h-1.1zM495.4 60.7h1.1v1.1h-1.1zM495.4 108.2h1.1v1.1h-1.1zM480.9 88.9h1.1v1.1h-1.1zM480.4 89.2h1.1v1.1h-1.1zM495.9 90.4h1.1v1.1h-1.1zM494.6 99.6h1.1v1.1h-1.1zM489.5 70.4h1.1v1.1h-1.1zM496.9 85.3h1.1v1.1h-1.1zM494.8 78.1h1.1v1.1h-1.1zM492.4 92.8h1.1v1.1h-1.1zM490.7 102.4h1.1v1.1h-1.1zM484.4 58.7h1.1v1.1h-1.1zM481.7 80.4h1.1v1.1h-1.1zM494.8 64.2h1.1v1.1h-1.1zM488.1 92.5h1.1v1.1h-1.1zM483.0 93.4h1.1v1.1h-1.1zM493.6 68.7h1.1v1.1h-1.1zM499.4 111.6h1.1v1.1h-1.1zM485.8 87.4h1.1v1.1h-1.1zM484.1 93.8h1.1v1.1h-1.1zM483.4 68.1h1.1v1.1h-1.1zM494.6 60.3h1.1v1.1h-1.1zM485.1 62.3h1.1v1.1h-1.1zM484.0 63.0h1.1v1.1h-1.1zM480.7 100.8h1.1v1.1h-1.1zM484.6 108.4h1.1v1.1h-1.1zM485.2 79.0h1.1v1.1h-1.1zM491.9 85.0h1.1v1.1h-1.1zM486.3 75.3h1.1v1.1h-1.1zM495.0 73.9h1.1v1.1h-1.1zM494.7 85.0h1.1v1.1h-1.1zM483.7 100.0h1.1v1.1h-1.1zM490.9 92.9h1.1v1.1h-1.1zM479.8 82.4h1.1v1.1h-1.1zM490.3 79.6h1.1v1.1h-1.1zM486.9 62.9h1.1v1.1h-1.1zM489.9 101.3h1.1v1.1h-1.1zM492.0 73.4h1.1v1.1h-1.1zM482.6 77.2h1.1v1.1h-1.1zM485.6 66.3h1.1v1.1h-1.1zM487.8 76.3h1.1v1.1h-1.1zM490.8 104.5h1.1v1.1h-1.1zM486.6 95.2h1.1v1.1h-1.1zM482.1 69.2h1.1v1.1h-1.1zM498.6 99.4h1.1v1.1h-1.1zM495.1 103.9h1.1v1.1h-1.1zM499.4 110.9h1.1v1.1h-1.1zM495.4 110.4h1.1v1.1h-1.1zM484.4 83.5h1.1v1.1h-1.1zM482.6 61.3h1.1v1.1h-1.1zM487.5 75.2h1.1v1.1h-1.1zM493.2 79.3h1.1v1.1h-1.1zM481.7 84.5h1.1v1.1h-1.1zM485.9 100.7h1.1v1.1h-1.1zM494.5 112.0h1.1v1.1h-1.1zM484.3 88.6h1.1v1.1h-1.1zM485.2 86.0h1.1v1.1h-1.1zM496.2 98.1h1.1v1.1h-1.1zM489.0 73.2h1.1v1.1h-1.1zM478.7 106.2h1.1v1.1h-1.1zM498.0 91.1h1.1v1.1h-1.1zM493.8 72.4h1.1v1.1h-1.1zM497.7 78.9h1.1v1.1h-1.1zM489.5 76.7h1.1v1.1h-1.1zM488.3 106.9h1.1v1.1h-1.1zM497.3 112.1h1.1v1.1h-1.1zM490.4 90.7h1.1v1.1h-1.1zM497.7 94.5h1.1v1.1h-1.1zM490.9 108.4h1.1v1.1h-1.1zM491.4 101.9h1.1v1.1h-1.1zM491.0 94.0h1.1v1.1h-1.1zM491.1 82.0h1.1v1.1h-1.1zM501.1 103.4h1.1v1.1h-1.1zM481.9 109.3h1.1v1.1h-1.1zM486.7 83.2h1.1v1.1h-1.1zM479.3 85.4h1.1v1.1h-1.1zM478.8 105.3h1.1v1.1h-1.1zM489.3 61.1h1.1v1.1h-1.1zM494.7 66.0h1.1v1.1h-1.1zM492.6 80.0h1.1v1.1h-1.1zM484.0 80.9h1.1v1.1h-1.1zM485.2 83.0h1.1v1.1h-1.1zM492.0 85.1h1.1v1.1h-1.1zM479.3 89.0h1.1v1.1h-1.1zM500.7 105.8h1.1v1.1h-1.1zM488.1 101.0h1.1v1.1h-1.1zM482.1 97.3h1.1v1.1h-1.1zM482.3 59.8h1.1v1.1h-1.1zM493.9 76.2h1.1v1.1h-1.1zM490.4 58.0h1.1v1.1h-1.1zM483.5 59.5h1.1v1.1h-1.1zM482.9 97.3h1.1v1.1h-1.1zM493.2 58.0h1.1v1.1h-1.1zM486.0 62.7h1.1v1.1h-1.1zM486.1 76.3h1.1v1.1h-1.1zM490.9 99.7h1.1v1.1h-1.1zM478.8 95.3h1.1v1.1h-1.1zM493.9 81.7h1.1v1.1h-1.1zM485.1 86.7h1.1v1.1h-1.1zM479.4 95.5h1.1v1.1h-1.1zM490.9 70.8h1.1v1.1h-1.1zM478.8 110.5h1.1v1.1h-1.1zM493.7 57.7h1.1v1.1h-1.1zM489.0 62.2h1.1v1.1h-1.1zM500.1 93.2h1.1v1.1h-1.1zM494.5 75.6h1.1v1.1h-1.1zM485.8 58.8h1.1v1.1h-1.1zM492.6 67.4h1.1v1.1h-1.1zM485.9 61.9h1.1v1.1h-1.1zM498.2 91.4h1.1v1.1h-1.1zM482.4 56.6h1.1v1.1h-1.1zM489.3 105.3h1.1v1.1h-1.1zM483.9 89.5h1.1v1.1h-1.1zM483.8 112.8h1.1v1.1h-1.1zM483.9 67.4h1.1v1.1h-1.1zM492.7 72.1h1.1v1.1h-1.1zM498.7 100.6h1.1v1.1h-1.1zM494.6 111.9h1.1v1.1h-1.1zM488.3 57.5h1.1v1.1h-1.1zM485.6 70.0h1.1v1.1h-1.1zM482.3 78.8h1.1v1.1h-1.1zM490.6 63.9h1.1v1.1h-1.1zM480.3 89.9h1.1v1.1h-1.1zM497.3 101.6h1.1v1.1h-1.1zM498.7 82.6h1.1v1.1h-1.1zM484.0 56.5h1.1v1.1h-1.1zM500.6 105.0h1.1v1.1h-1.1zM493.9 100.6h1.1v1.1h-1.1zM482.1 108.7h1.1v1.1h-1.1zM498.5 83.4h1.1v1.1h-1.1zM488.5 84.4h1.1v1.1h-1.1zM491.7 64.9h1.1v1.1h-1.1zM478.9 90.7h1.1v1.1h-1.1zM481.4 114.6h1.1v1.1h-1.1zM500.3 100.0h1.1v1.1h-1.1zM479.6 105.3h1.1v1.1h-1.1zM482.4 92.7h1.1v1.1h-1.1zM482.1 97.7h1.1v1.1h-1.1zM494.9 75.7h1.1v1.1h-1.1zM483.7 105.3h1.1v1.1h-1.1zM485.8 84.0h1.1v1.1h-1.1zM479.6 85.4h1.1v1.1h-1.1zM492.4 85.8h1.1v1.1h-1.1zM478.8 99.1h1.1v1.1h-1.1zM489.8 65.1h1.1v1.1h-1.1zM498.0 92.0h1.1v1.1h-1.1zM496.3 93.7h1.1v1.1h-1.1zM487.2 102.5h1.1v1.1h-1.1zM489.3 64.5h1.1v1.1h-1.1zM481.3 108.5h1.1v1.1h-1.1zM484.3 90.1h1.1v1.1h-1.1zM483.9 74.1h1.1v1.1h-1.1zM485.8 55.9h1.1v1.1h-1.1zM495.4 71.5h1.1v1.1h-1.1zM488.6 91.9h1.1v1.1h-1.1zM490.3 108.3h1.1v1.1h-1.1zM496.7 107.5h1.1v1.1h-1.1zM485.3 113.8h1.1v1.1h-1.1zM496.5 89.1h1.1v1.1h-1.1zM487.7 71.1h1.1v1.1h-1.1zM489.4 72.3h1.1v1.1h-1.1zM486.7 114.1h1.1v1.1h-1.1zM486.8 106.9h1.1v1.1h-1.1zM488.7 106.6h1.1v1.1h-1.1zM495.0 106.2h1.1v1.1h-1.1zM495.4 91.9h1.1v1.1h-1.1zM499.3 94.7h1.1v1.1h-1.1zM498.0 95.2h1.1v1.1h-1.1zM489.0 72.0h1.1v1.1h-1.1zM485.8 104.8h1.1v1.1h-1.1zM484.2 72.3h1.1v1.1h-1.1zM486.1 96.4h1.1v1.1h-1.1zM488.7 58.9h1.1v1.1h-1.1zM491.1 84.0h1.1v1.1h-1.1zM489.1 105.3h1.1v1.1h-1.1zM486.1 113.9h1.1v1.1h-1.1zM491.9 104.5h1.1v1.1h-1.1zM482.0 66.2h1.1v1.1h-1.1zM485.5 107.0h1.1v1.1h-1.1zM487.8 102.7h1.1v1.1h-1.1zM494.3 65.7h1.1v1.1h-1.1zM489.9 62.7h1.1v1.1h-1.1zM490.1 64.9h1.1v1.1h-1.1zM494.1 82.3h1.1v1.1h-1.1zM492.2 81.7h1.1v1.1h-1.1zM491.7 80.0h1.1v1.1h-1.1zM485.2 111.8h1.1v1.1h-1.1zM490.7 63.9h1.1v1.1h-1.1zM486.4 101.2h1.1v1.1h-1.1zM491.1 83.6h1.1v1.1h-1.1zM491.8 98.1h1.1v1.1h-1.1zM492.9 80.3h1.1v1.1h-1.1zM489.0 78.6h1.1v1.1h-1.1zM496.4 83.9h1.1v1.1h-1.1zM483.6 70.2h1.1v1.1h-1.1zM488.6 94.7h1.1v1.1h-1.1zM499.7 114.0h1.1v1.1h-1.1zM493.5 108.5h1.1v1.1h-1.1zM490.4 99.5h1.1v1.1h-1.1zM499.3 96.3h1.1v1.1h-1.1zM487.8 103.6h1.1v1.1h-1.1zM496.5 113.2h1.1v1.1h-1.1zM497.6 89.8h1.1v1.1h-1.1zM483.5 55.5h1.1v1.1h-1.1zM483.6 97.1h1.1v1.1h-1.1zM481.6 97.1h1.1v1.1h-1.1zM484.3 64.9h1.1v1.1h-1.1zM498.5 91.1h1.1v1.1h-1.1zM484.4 69.1h1.1v1.1h-1.1zM492.1 70.5h1.1v1.1h-1.1zM492.4 91.7h1.1v1.1h-1.1zM495.6 63.2h1.1v1.1h-1.1zM496.0 101.4h1.1v1.1h-1.1zM497.7 107.7h1.1v1.1h-1.1zM486.7 111.4h1.1v1.1h-1.1zM492.2 58.8h1.1v1.1h-1.1zM490.5 73.5h1.1v1.1h-1.1zM494.4 80.7h1.1v1.1h-1.1zM485.9 94.3h1.1v1.1h-1.1zM499.9 98.6h1.1v1.1h-1.1zM496.5 63.5h1.1v1.1h-1.1zM489.7 66.3h1.1v1.1h-1.1zM484.8 81.7h1.1v1.1h-1.1zM489.6 106.4h1.1v1.1h-1.1zM489.6 111.7h1.1v1.1h-1.1zM490.4 82.7h1.1v1.1h-1.1zM485.0 78.1h1.1v1.1h-1.1zM482.4 62.8h1.1v1.1h-1.1zM493.3 87.6h1.1v1.1h-1.1zM490.1 91.7h1.1v1.1h-1.1zM484.7 71.7h1.1v1.1h-1.1zM495.1 106.9h1.1v1.1h-1.1zM491.7 102.0h1.1v1.1h-1.1zM497.1 78.7h1.1v1.1h-1.1zM491.6 102.9h1.1v1.1h-1.1zM500.8 103.1h1.1v1.1h-1.1zM488.0 60.6h1.1v1.1h-1.1zM483.9 86.6h1.1v1.1h-1.1zM483.0 98.9h1.1v1.1h-1.1zM484.4 81.0h1.1v1.1h-1.1zM487.6 113.6h1.1v1.1h-1.1zM488.0 95.2h1.1v1.1h-1.1zM495.2 104.5h1.1v1.1h-1.1zM487.7 69.2h1.1v1.1h-1.1zM483.5 61.1h1.1v1.1h-1.1zM479.8 106.6h1.1v1.1h-1.1zM500.1 104.2h1.1v1.1h-1.1zM483.4 57.4h1.1v1.1h-1.1zM495.7 87.7h1.1v1.1h-1.1zM492.0 78.9h1.1v1.1h-1.1zM492.3 99.3h1.1v1.1h-1.1zM489.6 80.8h1.1v1.1h-1.1zM488.5 57.3h1.1v1.1h-1.1zM486.9 78.0h1.1v1.1h-1.1zM484.1 96.4h1.1v1.1h-1.1zM497.3 78.6h1.1v1.1h-1.1zM495.6 85.5h1.1v1.1h-1.1zM485.4 56.8h1.1v1.1h-1.1zM485.4 107.7h1.1v1.1h-1.1zM498.1 111.2h1.1v1.1h-1.1zM496.9 93.1h1.1v1.1h-1.1zM481.0 109.5h1.1v1.1h-1.1zM488.0 60.3h1.1v1.1h-1.1zM483.4 69.2h1.1v1.1h-1.1zM489.8 59.7h1.1v1.1h-1.1zM490.3 74.0h1.1v1.1h-1.1zM480.0 81.2h1.1v1.1h-1.1zM492.1 73.3h1.1v1.1h-1.1zM485.9 75.0h1.1v1.1h-1.1zM500.9 106.7h1.1v1.1h-1.1zM485.8 99.0h1.1v1.1h-1.1zM498.3 95.2h1.1v1.1h-1.1zM494.8 59.8h1.1v1.1h-1.1zM483.4 82.8h1.1v1.1h-1.1zM487.2 62.3h1.1v1.1h-1.1zM482.0 112.7h1.1v1.1h-1.1zM482.9 57.0h1.1v1.1h-1.1zM485.6 83.3h1.1v1.1h-1.1zM479.7 95.7h1.1v1.1h-1.1zM489.3 104.4h1.1v1.1h-1.1zM483.9 57.8h1.1v1.1h-1.1zM491.3 114.5h1.1v1.1h-1.1zM478.9 99.4h1.1v1.1h-1.1zM488.6 97.2h1.1v1.1h-1.1zM486.5 104.7h1.1v1.1h-1.1zM491.4 74.2h1.1v1.1h-1.1zM486.0 93.9h1.1v1.1h-1.1zM484.8 73.8h1.1v1.1h-1.1zM494.5 64.5h1.1v1.1h-1.1zM482.7 96.2h1.1v1.1h-1.1zM487.1 82.0h1.1v1.1h-1.1zM483.5 109.6h1.1v1.1h-1.1zM495.2 69.8h1.1v1.1h-1.1zM486.6 71.0h1.1v1.1h-1.1zM497.0 91.9h1.1v1.1h-1.1zM485.8 87.1h1.1v1.1h-1.1zM496.6 69.6h1.1v1.1h-1.1zM487.4 79.2h1.1v1.1h-1.1zM491.4 57.6h1.1v1.1h-1.1zM485.9 67.4h1.1v1.1h-1.1zM481.3 75.6h1.1v1.1h-1.1zM483.5 94.3h1.1v1.1h-1.1zM480.5 104.4h1.1v1.1h-1.1zM498.8 111.6h1.1v1.1h-1.1zM481.0 66.9h1.1v1.1h-1.1zM492.6 102.4h1.1v1.1h-1.1zM479.6 76.2h1.1v1.1h-1.1zM487.1 111.3h1.1v1.1h-1.1zM492.8 82.5h1.1v1.1h-1.1zM487.1 76.2h1.1v1.1h-1.1zM484.1 97.2h1.1v1.1h-1.1zM481.8 87.6h1.1v1.1h-1.1zM496.6 85.3h1.1v1.1h-1.1zM488.6 92.7h1.1v1.1h-1.1zM480.3 72.3h1.1v1.1h-1.1zM487.7 73.7h1.1v1.1h-1.1zM486.3 96.3h1.1v1.1h-1.1zM497.1 98.4h1.1v1.1h-1.1zM494.9 57.7h1.1v1.1h-1.1zM486.0 78.9h1.1v1.1h-1.1zM492.9 80.8h1.1v1.1h-1.1zM492.2 102.0h1.1v1.1h-1.1zM491.8 68.9h1.1v1.1h-1.1zM499.8 105.8h1.1v1.1h-1.1zM489.5 99.4h1.1v1.1h-1.1zM479.6 90.8h1.1v1.1h-1.1zM492.3 110.7h1.1v1.1h-1.1zM489.8 111.7h1.1v1.1h-1.1zM481.2 94.3h1.1v1.1h-1.1zM486.6 79.6h1.1v1.1h-1.1zM499.9 104.5h1.1v1.1h-1.1zM486.4 95.1h1.1v1.1h-1.1zM484.5 88.0h1.1v1.1h-1.1zM482.4 101.6h1.1v1.1h-1.1zM478.4 104.3h1.1v1.1h-1.1zM494.5 94.5h1.1v1.1h-1.1zM499.9 96.9h1.1v1.1h-1.1zM480.6 70.3h1.1v1.1h-1.1zM485.6 88.1h1.1v1.1h-1.1zM489.2 98.9h1.1v1.1h-1.1zM487.9 114.1h1.1v1.1h-1.1zM488.0 72.8h1.1v1.1h-1.1zM499.0 91.8h1.1v1.1h-1.1zM495.3 61.6h1.1v1.1h-1.1zM492.7 73.1h1.1v1.1h-1.1zM493.4 82.2h1.1v1.1h-1.1zM484.1 59.4h1.1v1.1h-1.1zM486.5 100.8h1.1v1.1h-1.1zM494.9 104.0h1.1v1.1h-1.1zM496.3 107.7h1.1v1.1h-1.1zM496.9 93.0h1.1v1.1h-1.1zM496.7 109.3h1.1v1.1h-1.1zM482.1 78.5h1.1v1.1h-1.1zM489.2 95.7h1.1v1.1h-1.1zM483.3 88.2h1.1v1.1h-1.1zM487.2 64.8h1.1v1.1h-1.1zM483.3 112.1h1.1v1.1h-1.1zM483.4 68.1h1.1v1.1h-1.1zM486.8 60.0h1.1v1.1h-1.1zM485.1 109.0h1.1v1.1h-1.1zM487.4 88.2h1.1v1.1h-1.1zM490.2 104.7h1.1v1.1h-1.1zM495.1 95.6h1.1v1.1h-1.1zM486.5 85.0h1.1v1.1h-1.1zM490.8 104.2h1.1v1.1h-1.1zM487.6 59.2h1.1v1.1h-1.1zM495.4 75.7h1.1v1.1h-1.1zM486.0 109.1h1.1v1.1h-1.1zM490.7 111.3h1.1v1.1h-1.1zM495.8 86.7h1.1v1.1h-1.1zM479.1 95.3h1.1v1.1h-1.1zM487.6 92.7h1.1v1.1h-1.1zM494.5 88.2h1.1v1.1h-1.1zM481.4 91.9h1.1v1.1h-1.1zM494.0 87.3h1.1v1.1h-1.1zM494.8 62.3h1.1v1.1h-1.1zM480.0 89.5h1.1v1.1h-1.1zM497.7 105.5h1.1v1.1h-1.1zM488.6 77.7h1.1v1.1h-1.1zM494.7 61.5h1.1v1.1h-1.1zM493.9 56.8h1.1v1.1h-1.1zM478.6 89.7h1.1v1.1h-1.1zM491.6 77.9h1.1v1.1h-1.1zM484.0 104.6h1.1v1.1h-1.1zM493.2 71.0h1.1v1.1h-1.1zM481.5 96.2h1.1v1.1h-1.1zM500.9 101.5h1.1v1.1h-1.1zM483.2 61.9h1.1v1.1h-1.1zM492.6 60.2h1.1v1.1h-1.1zM485.4 60.9h1.1v1.1h-1.1zM484.7 97.7h1.1v1.1h-1.1zM489.9 107.8h1.1v1.1h-1.1zM487.3 84.9h1.1v1.1h-1.1zM493.7 84.1h1.1v1.1h-1.1zM487.1 99.4h1.1v1.1h-1.1zM497.3 106.7h1.1v1.1h-1.1zM483.0 81.9h1.1v1.1h-1.1zM488.6 103.8h1.1v1.1h-1.1zM483.6 70.3h1.1v1.1h-1.1zM495.1 105.4h1.1v1.1h-1.1zM488.9 76.6h1.1v1.1h-1.1zM496.6 81.0h1.1v1.1h-1.1zM483.1 55.8h1.1v1.1h-1.1zM500.6 107.2h1.1v1.1h-1.1zM491.4 93.7h1.1v1.1h-1.1zM491.4 76.3h1.1v1.1h-1.1zM485.3 85.2h1.1v1.1h-1.1zM485.2 88.4h1.1v1.1h-1.1zM489.5 81.3h1.1v1.1h-1.1zM479.3 100.7h1.1v1.1h-1.1zM495.5 104.3h1.1v1.1h-1.1zM482.4 82.7h1.1v1.1h-1.1zM493.0 97.8h1.1v1.1h-1.1zM489.4 81.8h1.1v1.1h-1.1zM484.2 76.7h1.1v1.1h-1.1zM495.7 84.6h1.1v1.1h-1.1zM496.5 99.3h1.1v1.1h-1.1zM490.5 100.2h1.1v1.1h-1.1zM484.3 67.0h1.1v1.1h-1.1zM487.1 60.8h1.1v1.1h-1.1zM482.3 96.9h1.1v1.1h-1.1zM481.2 82.4h1.1v1.1h-1.1zM492.0 111.1h1.1v1.1h-1.1zM485.9 61.2h1.1v1.1h-1.1zM496.5 63.4h1.1v1.1h-1.1zM478.3 106.3h1.1v1.1h-1.1zM493.8 60.8h1.1v1.1h-1.1zM484.2 102.1h1.1v1.1h-1.1zM480.5 107.5h1.1v1.1h-1.1zM480.7 87.3h1.1v1.1h-1.1zM482.4 87.7h1.1v1.1h-1.1zM482.3 61.9h1.1v1.1h-1.1zM486.7 97.3h1.1v1.1h-1.1zM490.7 88.0h1.1v1.1h-1.1zM490.3 89.0h1.1v1.1h-1.1zM481.5 81.8h1.1v1.1h-1.1zM483.5 56.7h1.1v1.1h-1.1zM481.6 78.9h1.1v1.1h-1.1zM478.5 113.2h1.1v1.1h-1.1zM499.1 98.4h1.1v1.1h-1.1zM484.2 92.5h1.1v1.1h-1.1zM482.3 114.0h1.1v1.1h-1.1zM495.1 79.3h1.1v1.1h-1.1zM489.0 78.1h1.1v1.1h-1.1zM498.6 92.3h1.1v1.1h-1.1zM497.1 72.4h1.1v1.1h-1.1zM488.3 91.3h1.1v1.1h-1.1zM485.0 99.8h1.1v1.1h-1.1zM494.9 59.5h1.1v1.1h-1.1zM492.1 110.4h1.1v1.1h-1.1zM493.9 68.2h1.1v1.1h-1.1zM484.5 106.1h1.1v1.1h-1.1zM496.7 70.7h1.1v1.1h-1.1zM490.1 75.2h1.1v1.1h-1.1zM478.7 114.5h1.1v1.1h-1.1zM483.5 68.8h1.1v1.1h-1.1zM498.2 108.2h1.1v1.1h-1.1zM492.3 65.9h1.1v1.1h-1.1zM483.8 65.9h1.1v1.1h-1.1zM488.7 89.5h1.1v1.1h-1.1zM482.5 61.2h1.1v1.1h-1.1zM480.0 70.3h1.1v1.1h-1.1zM484.3 61.7h1.1v1.1h-1.1zM489.4 59.0h1.1v1.1h-1.1zM493.4 108.9h1.1v1.1h-1.1zM483.0 68.1h1.1v1.1h-1.1zM490.6 76.9h1.1v1.1h-1.1zM482.9 77.1h1.1v1.1h-1.1zM484.7 81.2h1.1v1.1h-1.1zM484.1 76.6h1.1v1.1h-1.1zM487.7 74.3h1.1v1.1h-1.1zM487.6 74.9h1.1v1.1h-1.1zM485.6 75.3h1.1v1.1h-1.1zM488.8 75.3h1.1v1.1h-1.1zM488.9 76.6h1.1v1.1h-1.1zM489.1 71.5h1.1v1.1h-1.1zM485.3 71.6h1.1v1.1h-1.1zM487.5 82.6h1.1v1.1h-1.1zM491.2 70.3h1.1v1.1h-1.1zM488.4 67.2h1.1v1.1h-1.1zM491.4 73.0h1.1v1.1h-1.1zM491.6 78.3h1.1v1.1h-1.1zM488.7 71.5h1.1v1.1h-1.1zM491.1 70.3h1.1v1.1h-1.1zM484.0 72.3h1.1v1.1h-1.1zM489.9 80.5h1.1v1.1h-1.1zM484.7 83.6h1.1v1.1h-1.1zM488.6 85.7h1.1v1.1h-1.1zM483.5 77.7h1.1v1.1h-1.1zM487.8 69.8h1.1v1.1h-1.1zM490.7 75.4h1.1v1.1h-1.1zM492.0 82.7h1.1v1.1h-1.1zM485.1 72.6h1.1v1.1h-1.1zM485.3 80.9h1.1v1.1h-1.1zM491.7 81.9h1.1v1.1h-1.1zM492.3 73.2h1.1v1.1h-1.1zM486.3 68.2h1.1v1.1h-1.1zM488.5 79.0h1.1v1.1h-1.1zM490.5 68.8h1.1v1.1h-1.1zM488.5 80.0h1.1v1.1h-1.1zM487.8 72.0h1.1v1.1h-1.1zM488.5 76.8h1.1v1.1h-1.1zM486.8 85.2h1.1v1.1h-1.1zM489.4 72.3h1.1v1.1h-1.1zM492.9 72.9h1.1v1.1h-1.1zM491.1 81.0h1.1v1.1h-1.1zM484.0 73.0h1.1v1.1h-1.1zM487.3 83.6h1.1v1.1h-1.1zM489.3 81.3h1.1v1.1h-1.1zM485.0 73.6h1.1v1.1h-1.1zM491.5 80.1h1.1v1.1h-1.1zM489.9 79.5h1.1v1.1h-1.1zM485.5 68.8h1.1v1.1h-1.1zM489.0 77.8h1.1v1.1h-1.1zM492.0 71.1h1.1v1.1h-1.1zM485.2 84.5h1.1v1.1h-1.1zM487.8 75.7h1.1v1.1h-1.1zM488.2 72.0h1.1v1.1h-1.1zM489.8 84.7h1.1v1.1h-1.1zM485.9 68.8h1.1v1.1h-1.1zM486.5 83.0h1.1v1.1h-1.1zM488.3 68.1h1.1v1.1h-1.1zM486.6 80.8h1.1v1.1h-1.1zM485.9 78.9h1.1v1.1h-1.1zM484.4 81.6h1.1v1.1h-1.1zM484.8 72.7h1.1v1.1h-1.1zM491.0 69.9h1.1v1.1h-1.1zM487.5 82.2h1.1v1.1h-1.1zM489.5 67.6h1.1v1.1h-1.1zM483.6 81.4h1.1v1.1h-1.1zM489.3 72.1h1.1v1.1h-1.1zM488.9 76.9h1.1v1.1h-1.1zM489.1 78.7h1.1v1.1h-1.1zM486.8 66.3h1.1v1.1h-1.1zM487.1 82.5h1.1v1.1h-1.1zM483.7 79.7h1.1v1.1h-1.1zM489.2 82.9h1.1v1.1h-1.1zM488.3 79.7h1.1v1.1h-1.1zM490.9 78.2h1.1v1.1h-1.1zM487.7 70.4h1.1v1.1h-1.1zM491.8 78.6h1.1v1.1h-1.1zM486.6 80.8h1.1v1.1h-1.1zM487.7 79.1h1.1v1.1h-1.1zM490.8 84.4h1.1v1.1h-1.1zM487.2 70.8h1.1v1.1h-1.1zM486.4 66.7h1.1v1.1h-1.1zM489.7 68.6h1.1v1.1h-1.1zM487.2 81.0h1.1v1.1h-1.1zM492.6 79.3h1.1v1.1h-1.1zM488.4 66.4h1.1v1.1h-1.1zM492.7 75.6h1.1v1.1h-1.1zM486.3 78.7h1.1v1.1h-1.1zM490.6 77.6h1.1v1.1h-1.1zM487.0 72.5h1.1v1.1h-1.1zM489.6 85.2h1.1v1.1h-1.1zM489.4 77.6h1.1v1.1h-1.1zM483.2 71.9h1.1v1.1h-1.1zM491.4 82.4h1.1v1.1h-1.1zM484.3 79.9h1.1v1.1h-1.1zM487.6 73.9h1.1v1.1h-1.1zM483.3 71.7h1.1v1.1h-1.1zM483.5 76.8h1.1v1.1h-1.1zM484.9 83.7h1.1v1.1h-1.1zM492.5 78.2h1.1v1.1h-1.1zM489.1 79.0h1.1v1.1h-1.1zM486.0 74.8h1.1v1.1h-1.1zM488.0 80.6h1.1v1.1h-1.1zM489.0 75.7h1.1v1.1h-1.1zM491.2 77.0h1.1v1.1h-1.1zM483.1 76.1h1.1v1.1h-1.1zM486.5 73.3h1.1v1.1h-1.1zM484.7 80.0h1.1v1.1h-1.1zM484.9 68.6h1.1v1.1h-1.1zM489.7 82.0h1.1v1.1h-1.1zM492.5 70.5h1.1v1.1h-1.1zM482.6 76.7h1.1v1.1h-1.1zM486.4 83.9h1.1v1.1h-1.1zM489.7 78.1h1.1v1.1h-1.1zM490.6 69.3h1.1v1.1h-1.1zM487.5 70.3h1.1v1.1h-1.1zM489.2 78.9h1.1v1.1h-1.1zM488.2 81.1h1.1v1.1h-1.1zM484.2 75.3h1.1v1.1h-1.1zM483.6 72.0h1.1v1.1h-1.1zM485.7 77.1h1.1v1.1h-1.1zM485.5 70.9h1.1v1.1h-1.1zM487.8 84.7h1.1v1.1h-1.1zM486.0 67.2h1.1v1.1h-1.1zM485.1 69.8h1.1v1.1h-1.1zM488.0 84.6h1.1v1.1h-1.1zM490.0 79.8h1.1v1.1h-1.1zM487.6 83.1h1.1v1.1h-1.1zM483.1 72.9h1.1v1.1h-1.1zM489.6 72.7h1.1v1.1h-1.1zM486.7 73.4h1.1v1.1h-1.1zM491.5 70.4h1.1v1.1h-1.1zM490.6 70.1h1.1v1.1h-1.1zM489.4 77.5h1.1v1.1h-1.1zM484.6 78.0h1.1v1.1h-1.1zM484.2 77.3h1.1v1.1h-1.1zM490.1 71.3h1.1v1.1h-1.1zM485.1 71.2h1.1v1.1h-1.1zM483.0 77.2h1.1v1.1h-1.1zM489.2 84.4h1.1v1.1h-1.1zM483.6 72.5h1.1v1.1h-1.1zM493.2 76.9h1.1v1.1h-1.1zM487.8 74.6h1.1v1.1h-1.1zM488.4 81.4h1.1v1.1h-1.1zM483.1 75.4h1.1v1.1h-1.1zM486.7 69.2h1.1v1.1h-1.1zM484.7 75.0h1.1v1.1h-1.1zM487.9 70.8h1.1v1.1h-1.1zM488.5 72.8h1.1v1.1h-1.1zM485.4 78.5h1.1v1.1h-1.1zM488.0 85.6h1.1v1.1h-1.1zM484.7 78.4h1.1v1.1h-1.1zM484.1 78.1h1.1v1.1h-1.1zM491.0 76.6h1.1v1.1h-1.1zM487.4 85.7h1.1v1.1h-1.1zM492.1 80.8h1.1v1.1h-1.1zM489.6 69.3h1.1v1.1h-1.1zM484.8 78.9h1.1v1.1h-1.1zM490.6 72.5h1.1v1.1h-1.1zM488.5 72.2h1.1v1.1h-1.1zM492.1 75.5h1.1v1.1h-1.1zM485.6 82.5h1.1v1.1h-1.1zM487.0 81.0h1.1v1.1h-1.1zM485.2 77.8h1.1v1.1h-1.1zM486.6 69.8h1.1v1.1h-1.1zM489.9 81.0h1.1v1.1h-1.1zM489.1 75.3h1.1v1.1h-1.1zM490.6 68.2h1.1v1.1h-1.1zM490.6 76.9h1.1v1.1h-1.1zM485.9 79.6h1.1v1.1h-1.1zM486.3 72.9h1.1v1.1h-1.1zM489.1 70.5h1.1v1.1h-1.1zM484.5 70.5h1.1v1.1h-1.1zM490.6 81.3h1.1v1.1h-1.1zM487.3 72.2h1.1v1.1h-1.1zM485.8 72.7h1.1v1.1h-1.1zM491.4 74.0h1.1v1.1h-1.1zM485.0 82.8h1.1v1.1h-1.1zM486.9 81.8h1.1v1.1h-1.1zM488.1 80.0h1.1v1.1h-1.1zM489.7 77.7h1.1v1.1h-1.1zM492.8 77.1h1.1v1.1h-1.1zM488.5 81.5h1.1v1.1h-1.1zM487.6 73.4h1.1v1.1h-1.1zM489.6 74.8h1.1v1.1h-1.1zM484.5 77.6h1.1v1.1h-1.1zM486.3 76.2h1.1v1.1h-1.1zM487.1 73.6h1.1v1.1h-1.1zM487.6 68.0h1.1v1.1h-1.1zM487.5 93.9h1.1v1.1h-1.1zM483.6 95.7h1.1v1.1h-1.1zM486.4 99.4h1.1v1.1h-1.1zM486.9 98.7h1.1v1.1h-1.1zM487.5 98.8h1.1v1.1h-1.1zM486.9 92.4h1.1v1.1h-1.1zM483.1 94.8h1.1v1.1h-1.1zM485.3 97.9h1.1v1.1h-1.1zM485.9 93.1h1.1v1.1h-1.1zM485.1 97.0h1.1v1.1h-1.1zM486.0 94.8h1.1v1.1h-1.1zM488.2 93.0h1.1v1.1h-1.1zM485.8 97.8h1.1v1.1h-1.1zM488.5 98.0h1.1v1.1h-1.1zM488.1 96.7h1.1v1.1h-1.1zM489.4 94.4h1.1v1.1h-1.1zM485.9 95.1h1.1v1.1h-1.1zM486.3 98.5h1.1v1.1h-1.1zM489.0 97.1h1.1v1.1h-1.1zM488.6 98.3h1.1v1.1h-1.1zM484.7 94.3h1.1v1.1h-1.1zM488.8 95.0h1.1v1.1h-1.1zM483.2 97.2h1.1v1.1h-1.1zM483.6 94.4h1.1v1.1h-1.1zM482.4 94.5h1.1v1.1h-1.1zM488.8 94.4h1.1v1.1h-1.1zM483.0 94.1h1.1v1.1h-1.1zM485.0 92.1h1.1v1.1h-1.1zM489.9 95.6h1.1v1.1h-1.1zM485.2 97.4h1.1v1.1h-1.1zM484.3 97.3h1.1v1.1h-1.1zM486.8 99.7h1.1v1.1h-1.1zM488.5 94.7h1.1v1.1h-1.1zM486.6 95.9h1.1v1.1h-1.1zM486.1 96.3h1.1v1.1h-1.1zM485.7 92.3h1.1v1.1h-1.1zM483.2 94.0h1.1v1.1h-1.1zM487.4 99.2h1.1v1.1h-1.1zM488.3 97.0h1.1v1.1h-1.1zM484.1 93.5h1.1v1.1h-1.1zM482.2 96.2h1.1v1.1h-1.1zM488.4 94.2h1.1v1.1h-1.1zM489.4 93.9h1.1v1.1h-1.1zM487.4 96.2h1.1v1.1h-1.1zM473.9 60.6h1.1v1.1h-1.1zM474.6 59.3h1.1v1.1h-1.1zM475.2 87.9h1.1v1.1h-1.1zM476.4 74.5h1.1v1.1h-1.1zM474.6 97.1h1.1v1.1h-1.1zM474.2 56.3h1.1v1.1h-1.1zM477.3 59.9h1.1v1.1h-1.1zM472.3 65.4h1.1v1.1h-1.1zM477.1 98.4h1.1v1.1h-1.1zM472.7 91.3h1.1v1.1h-1.1zM477.2 109.9h1.1v1.1h-1.1zM475.2 105.6h1.1v1.1h-1.1zM502.2 61.5h1.1v1.1h-1.1zM500.9 73.9h1.1v1.1h-1.1zM500.2 110.2h1.1v1.1h-1.1zM506.0 106.4h1.1v1.1h-1.1zM503.2 82.6h1.1v1.1h-1.1zM502.0 89.5h1.1v1.1h-1.1zM500.8 100.1h1.1v1.1h-1.1zM502.1 101.7h1.1v1.1h-1.1z" fill="#000"/>
<polygon points="499.5,99.5 499.4,100.4 499.1,101.3 498.6,102.0 498.0,102.6 497.3,103.0 496.5,103.1 495.7,103.0 495.0,102.6 494.4,102.0 493.9,101.3 493.6,100.4 493.5,99.5 493.6,98.6 493.9,97.7 494.4,97.0 495.0,96.4 495.7,96.0 496.5,95.9 497.3,96.0 498.0,96.4 498.6,97.0 499.1,97.7 499.4,98.6" fill="#000" stroke="#000" stroke-width="0.8" stroke-linejoin="round"/>
<polygon points="334.3,218.6 334.3,194.0 340.0,191.0 346.0,189.0 352.0,191.0 357.0,197.0 360.0,206.0 360.0,218.6" fill="#000" stroke="#000" stroke-width="0.8" stroke-linejoin="round"/>
<path d="M337.1 191.4h1.1v1.1h-1.1zM361.6 205.9h1.1v1.1h-1.1zM343.1 188.4h1.1v1.1h-1.1zM355.3 187.4h1.1v1.1h-1.1zM348.7 190.5h1.1v1.1h-1.1zM338.1 190.6h1.1v1.1h-1.1zM360.7 198.7h1.1v1.1h-1.1zM335.9 195.7h1.1v1.1h-1.1zM361.2 217.3h1.1v1.1h-1.1zM360.8 207.4h1.1v1.1h-1.1zM349.9 186.6h1.1v1.1h-1.1zM340.4 190.3h1.1v1.1h-1.1zM345.4 186.0h1.1v1.1h-1.1zM341.3 189.3h1.1v1.1h-1.1zM335.9 193.4h1.1v1.1h-1.1zM360.4 201.6h1.1v1.1h-1.1zM350.8 187.1h1.1v1.1h-1.1zM335.5 194.7h1.1v1.1h-1.1zM355.0 188.2h1.1v1.1h-1.1zM360.1 208.3h1.1v1.1h-1.1zM344.5 186.4h1.1v1.1h-1.1zM338.1 191.1h1.1v1.1h-1.1zM359.3 197.4h1.1v1.1h-1.1zM353.4 193.7h1.1v1.1h-1.1zM355.8 187.7h1.1v1.1h-1.1zM355.4 186.3h1.1v1.1h-1.1zM352.5 187.8h1.1v1.1h-1.1zM339.8 187.8h1.1v1.1h-1.1zM339.3 191.2h1.1v1.1h-1.1zM360.3 194.6h1.1v1.1h-1.1zM355.9 196.1h1.1v1.1h-1.1zM345.3 182.0h1.1v1.1h-1.1zM344.5 190.7h1.1v1.1h-1.1zM336.5 195.3h1.1v1.1h-1.1zM352.1 191.2h1.1v1.1h-1.1zM354.9 194.0h1.1v1.1h-1.1zM356.9 189.3h1.1v1.1h-1.1zM350.7 190.2h1.1v1.1h-1.1zM350.0 192.8h1.1v1.1h-1.1zM360.5 199.7h1.1v1.1h-1.1zM347.9 182.2h1.1v1.1h-1.1zM340.7 188.7h1.1v1.1h-1.1zM345.9 183.5h1.1v1.1h-1.1zM358.2 194.8h1.1v1.1h-1.1zM348.9 191.4h1.1v1.1h-1.1zM354.3 189.2h1.1v1.1h-1.1zM355.7 196.9h1.1v1.1h-1.1zM338.9 185.0h1.1v1.1h-1.1zM355.5 195.8h1.1v1.1h-1.1zM344.9 185.2h1.1v1.1h-1.1zM353.9 195.3h1.1v1.1h-1.1zM343.5 187.1h1.1v1.1h-1.1zM334.6 193.1h1.1v1.1h-1.1zM339.0 188.6h1.1v1.1h-1.1zM349.9 187.1h1.1v1.1h-1.1zM343.4 188.2h1.1v1.1h-1.1zM360.4 202.0h1.1v1.1h-1.1zM343.4 185.1h1.1v1.1h-1.1zM353.7 195.6h1.1v1.1h-1.1zM354.4 186.0h1.1v1.1h-1.1zM343.0 187.2h1.1v1.1h-1.1zM342.1 187.1h1.1v1.1h-1.1zM346.4 187.8h1.1v1.1h-1.1zM348.9 187.9h1.1v1.1h-1.1zM342.5 193.0h1.1v1.1h-1.1zM341.3 183.5h1.1v1.1h-1.1zM357.9 193.3h1.1v1.1h-1.1zM360.6 215.9h1.1v1.1h-1.1zM341.7 190.3h1.1v1.1h-1.1zM354.4 188.2h1.1v1.1h-1.1zM352.1 188.9h1.1v1.1h-1.1zM353.2 194.2h1.1v1.1h-1.1zM336.3 187.2h1.1v1.1h-1.1zM346.6 187.0h1.1v1.1h-1.1zM347.7 191.2h1.1v1.1h-1.1zM344.6 187.6h1.1v1.1h-1.1zM335.7 189.2h1.1v1.1h-1.1zM343.8 186.2h1.1v1.1h-1.1zM346.2 188.1h1.1v1.1h-1.1zM361.2 208.8h1.1v1.1h-1.1zM361.1 201.9h1.1v1.1h-1.1zM350.1 189.8h1.1v1.1h-1.1zM350.9 184.5h1.1v1.1h-1.1zM354.7 195.2h1.1v1.1h-1.1zM359.8 198.2h1.1v1.1h-1.1zM359.9 196.5h1.1v1.1h-1.1zM335.8 189.4h1.1v1.1h-1.1zM349.3 190.5h1.1v1.1h-1.1zM336.4 189.9h1.1v1.1h-1.1zM347.8 185.5h1.1v1.1h-1.1zM336.6 195.2h1.1v1.1h-1.1zM352.0 185.2h1.1v1.1h-1.1zM357.6 199.7h1.1v1.1h-1.1zM344.5 189.5h1.1v1.1h-1.1zM358.7 196.9h1.1v1.1h-1.1zM352.6 184.8h1.1v1.1h-1.1zM349.1 189.3h1.1v1.1h-1.1zM345.6 184.6h1.1v1.1h-1.1zM345.9 191.2h1.1v1.1h-1.1zM360.8 201.7h1.1v1.1h-1.1zM357.9 201.1h1.1v1.1h-1.1zM335.4 194.8h1.1v1.1h-1.1zM354.2 188.3h1.1v1.1h-1.1zM349.3 186.1h1.1v1.1h-1.1zM338.8 193.4h1.1v1.1h-1.1zM356.6 193.8h1.1v1.1h-1.1zM343.5 185.8h1.1v1.1h-1.1zM352.3 185.0h1.1v1.1h-1.1zM360.8 215.3h1.1v1.1h-1.1zM359.7 192.8h1.1v1.1h-1.1zM345.0 188.0h1.1v1.1h-1.1zM341.0 184.2h1.1v1.1h-1.1zM354.2 188.1h1.1v1.1h-1.1zM357.0 192.0h1.1v1.1h-1.1zM341.8 187.2h1.1v1.1h-1.1zM357.5 191.4h1.1v1.1h-1.1zM357.2 189.8h1.1v1.1h-1.1zM346.9 184.0h1.1v1.1h-1.1zM351.3 184.0h1.1v1.1h-1.1zM357.5 193.9h1.1v1.1h-1.1zM351.4 193.6h1.1v1.1h-1.1zM360.7 204.8h1.1v1.1h-1.1zM357.0 194.6h1.1v1.1h-1.1zM349.0 185.0h1.1v1.1h-1.1zM356.7 189.3h1.1v1.1h-1.1zM361.4 212.0h1.1v1.1h-1.1zM336.3 192.7h1.1v1.1h-1.1zM342.0 185.4h1.1v1.1h-1.1zM339.2 193.0h1.1v1.1h-1.1zM361.5 207.3h1.1v1.1h-1.1zM358.1 192.9h1.1v1.1h-1.1zM352.9 185.4h1.1v1.1h-1.1zM351.8 191.9h1.1v1.1h-1.1zM353.1 183.1h1.1v1.1h-1.1zM354.3 191.1h1.1v1.1h-1.1zM359.2 201.6h1.1v1.1h-1.1zM360.3 195.7h1.1v1.1h-1.1zM346.7 190.8h1.1v1.1h-1.1zM344.2 187.6h1.1v1.1h-1.1zM346.9 187.3h1.1v1.1h-1.1zM361.4 199.8h1.1v1.1h-1.1zM355.9 194.5h1.1v1.1h-1.1zM352.4 182.7h1.1v1.1h-1.1zM356.2 193.7h1.1v1.1h-1.1zM357.7 197.6h1.1v1.1h-1.1zM345.2 187.4h1.1v1.1h-1.1zM352.7 187.3h1.1v1.1h-1.1zM360.1 199.9h1.1v1.1h-1.1zM355.6 192.0h1.1v1.1h-1.1zM335.3 194.4h1.1v1.1h-1.1zM361.9 202.5h1.1v1.1h-1.1zM355.5 189.6h1.1v1.1h-1.1zM345.6 186.7h1.1v1.1h-1.1zM337.9 189.1h1.1v1.1h-1.1zM361.6 199.6h1.1v1.1h-1.1zM339.8 189.2h1.1v1.1h-1.1zM356.9 190.6h1.1v1.1h-1.1zM343.5 190.9h1.1v1.1h-1.1zM341.9 193.1h1.1v1.1h-1.1zM344.7 190.7h1.1v1.1h-1.1zM342.2 191.7h1.1v1.1h-1.1zM358.9 192.8h1.1v1.1h-1.1zM357.4 188.4h1.1v1.1h-1.1zM337.2 193.1h1.1v1.1h-1.1zM345.8 187.2h1.1v1.1h-1.1zM335.8 195.8h1.1v1.1h-1.1zM349.0 191.9h1.1v1.1h-1.1zM334.4 193.4h1.1v1.1h-1.1zM342.3 192.2h1.1v1.1h-1.1zM334.8 190.2h1.1v1.1h-1.1zM346.4 190.1h1.1v1.1h-1.1zM337.4 194.9h1.1v1.1h-1.1zM336.4 193.9h1.1v1.1h-1.1zM362.0 217.0h1.1v1.1h-1.1zM348.2 185.0h1.1v1.1h-1.1zM336.7 186.9h1.1v1.1h-1.1zM361.1 217.3h1.1v1.1h-1.1zM361.8 207.4h1.1v1.1h-1.1zM340.5 188.5h1.1v1.1h-1.1zM349.4 191.0h1.1v1.1h-1.1zM360.8 216.0h1.1v1.1h-1.1zM359.2 200.0h1.1v1.1h-1.1zM344.2 190.8h1.1v1.1h-1.1zM340.1 193.3h1.1v1.1h-1.1zM361.8 205.8h1.1v1.1h-1.1zM354.0 188.1h1.1v1.1h-1.1zM356.5 195.7h1.1v1.1h-1.1zM349.3 189.3h1.1v1.1h-1.1zM346.7 189.2h1.1v1.1h-1.1zM337.5 194.8h1.1v1.1h-1.1zM344.2 186.3h1.1v1.1h-1.1zM342.9 190.8h1.1v1.1h-1.1zM347.7 185.9h1.1v1.1h-1.1zM360.1 210.3h1.1v1.1h-1.1zM353.8 183.4h1.1v1.1h-1.1zM343.5 192.0h1.1v1.1h-1.1zM354.3 191.3h1.1v1.1h-1.1zM344.2 189.6h1.1v1.1h-1.1zM339.3 193.7h1.1v1.1h-1.1zM338.4 186.7h1.1v1.1h-1.1zM350.8 186.6h1.1v1.1h-1.1zM349.2 188.0h1.1v1.1h-1.1zM358.5 191.0h1.1v1.1h-1.1zM341.2 183.8h1.1v1.1h-1.1zM359.4 194.7h1.1v1.1h-1.1zM341.0 184.7h1.1v1.1h-1.1zM354.8 189.6h1.1v1.1h-1.1zM343.8 186.4h1.1v1.1h-1.1zM340.4 185.3h1.1v1.1h-1.1zM359.1 201.3h1.1v1.1h-1.1zM360.9 207.0h1.1v1.1h-1.1zM343.8 188.0h1.1v1.1h-1.1zM347.8 184.5h1.1v1.1h-1.1zM355.0 196.4h1.1v1.1h-1.1zM359.5 201.9h1.1v1.1h-1.1zM354.7 187.3h1.1v1.1h-1.1zM351.6 193.7h1.1v1.1h-1.1zM346.2 182.2h1.1v1.1h-1.1zM361.1 204.3h1.1v1.1h-1.1zM337.3 187.3h1.1v1.1h-1.1zM348.7 181.6h1.1v1.1h-1.1zM356.7 188.4h1.1v1.1h-1.1zM361.1 214.0h1.1v1.1h-1.1zM345.8 187.0h1.1v1.1h-1.1zM345.5 188.1h1.1v1.1h-1.1zM337.4 190.9h1.1v1.1h-1.1zM357.3 197.4h1.1v1.1h-1.1zM360.9 213.6h1.1v1.1h-1.1zM347.6 186.3h1.1v1.1h-1.1zM334.8 190.6h1.1v1.1h-1.1zM342.5 185.0h1.1v1.1h-1.1zM339.6 184.3h1.1v1.1h-1.1zM339.5 189.5h1.1v1.1h-1.1zM335.4 189.0h1.1v1.1h-1.1zM359.4 203.6h1.1v1.1h-1.1zM356.3 190.9h1.1v1.1h-1.1zM343.6 188.5h1.1v1.1h-1.1zM349.1 185.6h1.1v1.1h-1.1zM345.9 189.2h1.1v1.1h-1.1zM340.1 192.4h1.1v1.1h-1.1zM341.8 191.7h1.1v1.1h-1.1zM343.6 183.9h1.1v1.1h-1.1zM353.7 188.0h1.1v1.1h-1.1zM334.8 196.6h1.1v1.1h-1.1zM336.8 191.9h1.1v1.1h-1.1zM351.8 187.8h1.1v1.1h-1.1zM355.5 185.7h1.1v1.1h-1.1zM357.0 189.2h1.1v1.1h-1.1zM348.2 182.0h1.1v1.1h-1.1zM342.8 190.3h1.1v1.1h-1.1zM361.0 207.8h1.1v1.1h-1.1zM342.7 188.1h1.1v1.1h-1.1zM355.3 185.5h1.1v1.1h-1.1zM348.9 192.4h1.1v1.1h-1.1zM351.7 186.3h1.1v1.1h-1.1zM359.1 191.0h1.1v1.1h-1.1zM361.3 210.3h1.1v1.1h-1.1zM356.9 198.4h1.1v1.1h-1.1zM335.3 195.9h1.1v1.1h-1.1zM352.0 186.6h1.1v1.1h-1.1zM348.9 190.7h1.1v1.1h-1.1zM339.9 188.5h1.1v1.1h-1.1zM361.9 211.3h1.1v1.1h-1.1zM340.4 193.3h1.1v1.1h-1.1zM361.3 205.9h1.1v1.1h-1.1zM360.7 198.9h1.1v1.1h-1.1zM357.4 192.1h1.1v1.1h-1.1zM339.4 187.9h1.1v1.1h-1.1zM346.7 186.5h1.1v1.1h-1.1zM343.5 184.8h1.1v1.1h-1.1zM335.7 195.6h1.1v1.1h-1.1zM357.3 191.2h1.1v1.1h-1.1zM354.7 186.0h1.1v1.1h-1.1zM351.0 186.5h1.1v1.1h-1.1zM360.2 193.9h1.1v1.1h-1.1zM355.8 193.5h1.1v1.1h-1.1zM360.2 200.2h1.1v1.1h-1.1zM337.5 186.3h1.1v1.1h-1.1zM337.2 189.5h1.1v1.1h-1.1zM344.2 190.7h1.1v1.1h-1.1zM352.4 185.5h1.1v1.1h-1.1zM351.4 193.8h1.1v1.1h-1.1zM340.9 185.7h1.1v1.1h-1.1zM347.4 181.6h1.1v1.1h-1.1zM339.6 193.6h1.1v1.1h-1.1zM344.2 185.4h1.1v1.1h-1.1zM349.3 184.4h1.1v1.1h-1.1zM346.6 190.8h1.1v1.1h-1.1zM345.2 186.3h1.1v1.1h-1.1zM336.5 189.5h1.1v1.1h-1.1zM339.4 189.0h1.1v1.1h-1.1zM356.5 192.5h1.1v1.1h-1.1zM361.9 213.4h1.1v1.1h-1.1zM346.3 183.7h1.1v1.1h-1.1zM358.4 196.5h1.1v1.1h-1.1zM338.0 191.6h1.1v1.1h-1.1zM360.2 205.3h1.1v1.1h-1.1zM358.8 192.0h1.1v1.1h-1.1zM354.8 186.4h1.1v1.1h-1.1zM335.7 189.9h1.1v1.1h-1.1zM358.0 198.0h1.1v1.1h-1.1zM347.8 185.0h1.1v1.1h-1.1zM353.7 186.2h1.1v1.1h-1.1zM360.9 198.0h1.1v1.1h-1.1zM353.6 184.1h1.1v1.1h-1.1zM337.5 192.8h1.1v1.1h-1.1zM343.8 184.8h1.1v1.1h-1.1zM337.4 190.7h1.1v1.1h-1.1zM340.2 188.6h1.1v1.1h-1.1zM347.8 190.0h1.1v1.1h-1.1zM360.6 215.1h1.1v1.1h-1.1zM337.0 190.7h1.1v1.1h-1.1zM351.9 191.8h1.1v1.1h-1.1zM342.0 188.4h1.1v1.1h-1.1zM353.9 187.6h1.1v1.1h-1.1zM352.9 193.6h1.1v1.1h-1.1zM334.8 192.2h1.1v1.1h-1.1zM350.6 187.2h1.1v1.1h-1.1zM346.6 181.2h1.1v1.1h-1.1zM352.1 193.7h1.1v1.1h-1.1zM360.5 202.1h1.1v1.1h-1.1zM359.4 201.7h1.1v1.1h-1.1zM335.2 190.4h1.1v1.1h-1.1zM347.4 186.6h1.1v1.1h-1.1zM355.7 191.0h1.1v1.1h-1.1zM355.4 197.0h1.1v1.1h-1.1zM341.4 184.7h1.1v1.1h-1.1zM353.1 191.4h1.1v1.1h-1.1zM352.6 184.7h1.1v1.1h-1.1zM361.4 208.0h1.1v1.1h-1.1zM352.9 187.0h1.1v1.1h-1.1zM353.1 191.1h1.1v1.1h-1.1zM339.4 187.8h1.1v1.1h-1.1zM337.0 191.2h1.1v1.1h-1.1zM338.9 185.1h1.1v1.1h-1.1zM357.4 199.0h1.1v1.1h-1.1zM347.2 191.7h1.1v1.1h-1.1zM343.5 184.7h1.1v1.1h-1.1zM336.3 190.3h1.1v1.1h-1.1zM344.2 186.5h1.1v1.1h-1.1zM350.7 184.1h1.1v1.1h-1.1zM359.2 194.1h1.1v1.1h-1.1zM340.7 183.7h1.1v1.1h-1.1zM358.2 197.7h1.1v1.1h-1.1zM340.8 192.2h1.1v1.1h-1.1zM359.7 195.2h1.1v1.1h-1.1zM346.3 185.2h1.1v1.1h-1.1zM358.0 200.2h1.1v1.1h-1.1zM360.3 214.6h1.1v1.1h-1.1zM344.0 184.9h1.1v1.1h-1.1zM335.6 190.3h1.1v1.1h-1.1zM356.4 191.7h1.1v1.1h-1.1zM353.5 190.4h1.1v1.1h-1.1zM340.3 189.9h1.1v1.1h-1.1zM357.0 189.3h1.1v1.1h-1.1zM356.8 188.2h1.1v1.1h-1.1zM355.5 188.3h1.1v1.1h-1.1zM334.8 192.0h1.1v1.1h-1.1zM341.9 190.8h1.1v1.1h-1.1zM342.5 189.9h1.1v1.1h-1.1zM350.6 182.3h1.1v1.1h-1.1zM355.6 190.5h1.1v1.1h-1.1zM354.2 189.7h1.1v1.1h-1.1zM344.4 187.6h1.1v1.1h-1.1zM344.0 182.9h1.1v1.1h-1.1zM347.3 190.9h1.1v1.1h-1.1zM354.8 194.6h1.1v1.1h-1.1zM361.1 211.1h1.1v1.1h-1.1zM353.2 190.5h1.1v1.1h-1.1zM337.6 185.7h1.1v1.1h-1.1zM356.2 191.8h1.1v1.1h-1.1zM344.6 190.0h1.1v1.1h-1.1zM339.1 192.9h1.1v1.1h-1.1zM353.9 189.1h1.1v1.1h-1.1zM357.5 188.3h1.1v1.1h-1.1zM335.7 192.8h1.1v1.1h-1.1zM335.6 191.4h1.1v1.1h-1.1zM357.3 194.9h1.1v1.1h-1.1zM342.5 193.1h1.1v1.1h-1.1zM358.3 192.7h1.1v1.1h-1.1zM360.4 201.8h1.1v1.1h-1.1zM361.0 197.2h1.1v1.1h-1.1zM361.0 207.3h1.1v1.1h-1.1zM341.1 186.9h1.1v1.1h-1.1zM361.9 201.7h1.1v1.1h-1.1zM339.8 186.6h1.1v1.1h-1.1zM354.0 185.6h1.1v1.1h-1.1zM335.0 193.2h1.1v1.1h-1.1zM349.3 191.6h1.1v1.1h-1.1zM354.9 194.3h1.1v1.1h-1.1zM351.1 186.9h1.1v1.1h-1.1zM357.0 192.9h1.1v1.1h-1.1zM360.8 204.7h1.1v1.1h-1.1zM361.1 208.7h1.1v1.1h-1.1zM346.8 191.1h1.1v1.1h-1.1zM355.1 195.9h1.1v1.1h-1.1zM348.6 192.6h1.1v1.1h-1.1zM354.6 189.9h1.1v1.1h-1.1zM357.1 190.2h1.1v1.1h-1.1zM347.7 181.9h1.1v1.1h-1.1zM350.5 185.7h1.1v1.1h-1.1zM348.6 191.0h1.1v1.1h-1.1zM358.5 194.4h1.1v1.1h-1.1zM351.8 191.6h1.1v1.1h-1.1zM336.7 191.0h1.1v1.1h-1.1zM335.5 190.3h1.1v1.1h-1.1zM355.0 185.0h1.1v1.1h-1.1zM359.3 194.3h1.1v1.1h-1.1zM350.4 184.2h1.1v1.1h-1.1zM356.9 193.1h1.1v1.1h-1.1zM354.9 195.8h1.1v1.1h-1.1zM353.3 187.3h1.1v1.1h-1.1zM340.5 184.3h1.1v1.1h-1.1zM344.3 191.0h1.1v1.1h-1.1zM339.8 193.9h1.1v1.1h-1.1zM351.9 190.9h1.1v1.1h-1.1zM340.0 190.0h1.1v1.1h-1.1zM359.5 194.7h1.1v1.1h-1.1zM343.8 191.9h1.1v1.1h-1.1zM354.2 184.0h1.1v1.1h-1.1zM343.2 192.8h1.1v1.1h-1.1zM349.2 188.4h1.1v1.1h-1.1zM354.0 188.3h1.1v1.1h-1.1zM352.7 191.3h1.1v1.1h-1.1zM359.7 203.6h1.1v1.1h-1.1zM338.4 194.8h1.1v1.1h-1.1zM360.4 217.3h1.1v1.1h-1.1zM336.7 189.9h1.1v1.1h-1.1zM361.9 211.6h1.1v1.1h-1.1zM341.6 191.8h1.1v1.1h-1.1zM353.0 190.7h1.1v1.1h-1.1zM346.5 185.9h1.1v1.1h-1.1zM359.7 200.9h1.1v1.1h-1.1zM357.8 191.4h1.1v1.1h-1.1zM356.0 193.6h1.1v1.1h-1.1zM348.5 192.6h1.1v1.1h-1.1zM338.5 189.0h1.1v1.1h-1.1zM345.9 187.3h1.1v1.1h-1.1zM339.8 184.7h1.1v1.1h-1.1zM338.5 185.2h1.1v1.1h-1.1zM353.5 188.0h1.1v1.1h-1.1zM342.5 191.4h1.1v1.1h-1.1zM355.3 186.5h1.1v1.1h-1.1zM343.3 192.6h1.1v1.1h-1.1zM361.8 206.2h1.1v1.1h-1.1zM337.2 193.3h1.1v1.1h-1.1zM337.5 189.0h1.1v1.1h-1.1zM352.6 192.2h1.1v1.1h-1.1zM344.4 188.0h1.1v1.1h-1.1zM348.5 192.8h1.1v1.1h-1.1zM356.2 191.5h1.1v1.1h-1.1zM354.4 191.6h1.1v1.1h-1.1zM361.0 199.0h1.1v1.1h-1.1zM359.2 202.5h1.1v1.1h-1.1zM350.3 187.6h1.1v1.1h-1.1zM355.3 185.6h1.1v1.1h-1.1zM350.3 188.0h1.1v1.1h-1.1zM354.7 188.3h1.1v1.1h-1.1zM356.6 193.6h1.1v1.1h-1.1zM357.2 195.4h1.1v1.1h-1.1zM340.6 185.3h1.1v1.1h-1.1zM337.1 191.4h1.1v1.1h-1.1zM347.5 185.6h1.1v1.1h-1.1zM356.3 191.1h1.1v1.1h-1.1zM353.4 183.2h1.1v1.1h-1.1zM335.6 187.5h1.1v1.1h-1.1zM337.5 188.3h1.1v1.1h-1.1zM361.4 212.1h1.1v1.1h-1.1zM335.1 188.6h1.1v1.1h-1.1zM336.8 195.1h1.1v1.1h-1.1zM346.4 186.7h1.1v1.1h-1.1zM353.0 191.6h1.1v1.1h-1.1zM356.7 193.5h1.1v1.1h-1.1zM359.9 197.7h1.1v1.1h-1.1zM350.8 184.0h1.1v1.1h-1.1zM338.5 187.1h1.1v1.1h-1.1zM348.6 191.1h1.1v1.1h-1.1zM356.6 189.8h1.1v1.1h-1.1zM336.3 191.7h1.1v1.1h-1.1zM344.5 183.3h1.1v1.1h-1.1zM339.8 191.1h1.1v1.1h-1.1zM348.8 183.3h1.1v1.1h-1.1zM361.2 198.9h1.1v1.1h-1.1zM337.3 194.7h1.1v1.1h-1.1zM343.0 189.1h1.1v1.1h-1.1zM356.1 197.1h1.1v1.1h-1.1zM349.2 185.1h1.1v1.1h-1.1zM339.6 185.2h1.1v1.1h-1.1zM360.4 214.0h1.1v1.1h-1.1zM359.6 199.7h1.1v1.1h-1.1zM359.0 195.9h1.1v1.1h-1.1zM336.0 191.3h1.1v1.1h-1.1zM343.4 186.8h1.1v1.1h-1.1zM353.6 191.4h1.1v1.1h-1.1zM341.7 185.8h1.1v1.1h-1.1zM355.5 191.8h1.1v1.1h-1.1zM341.5 188.3h1.1v1.1h-1.1zM343.7 190.8h1.1v1.1h-1.1zM357.7 200.9h1.1v1.1h-1.1zM360.6 213.8h1.1v1.1h-1.1zM343.9 185.0h1.1v1.1h-1.1zM346.7 189.6h1.1v1.1h-1.1zM342.3 192.0h1.1v1.1h-1.1zM334.3 193.8h1.1v1.1h-1.1zM355.8 197.5h1.1v1.1h-1.1zM339.8 189.0h1.1v1.1h-1.1zM338.8 192.4h1.1v1.1h-1.1zM360.3 198.6h1.1v1.1h-1.1zM343.7 191.6h1.1v1.1h-1.1zM352.0 190.7h1.1v1.1h-1.1zM340.0 190.0h1.1v1.1h-1.1zM343.0 190.7h1.1v1.1h-1.1zM344.5 185.2h1.1v1.1h-1.1zM347.2 182.8h1.1v1.1h-1.1zM361.7 201.0h1.1v1.1h-1.1zM359.5 204.0h1.1v1.1h-1.1zM345.1 191.5h1.1v1.1h-1.1zM352.7 191.7h1.1v1.1h-1.1zM353.9 188.2h1.1v1.1h-1.1zM350.8 191.8h1.1v1.1h-1.1zM351.0 187.8h1.1v1.1h-1.1zM349.4 193.1h1.1v1.1h-1.1zM361.1 206.9h1.1v1.1h-1.1zM348.0 189.9h1.1v1.1h-1.1zM351.2 184.3h1.1v1.1h-1.1zM354.0 186.0h1.1v1.1h-1.1zM361.8 200.5h1.1v1.1h-1.1zM368.1 176.9h1.1v1.1h-1.1zM361.4 174.4h1.1v1.1h-1.1zM365.5 168.6h1.1v1.1h-1.1zM359.4 181.6h1.1v1.1h-1.1zM362.8 203.9h1.1v1.1h-1.1zM362.0 179.3h1.1v1.1h-1.1zM360.7 190.8h1.1v1.1h-1.1zM357.0 176.7h1.1v1.1h-1.1zM367.0 200.8h1.1v1.1h-1.1zM361.0 171.7h1.1v1.1h-1.1zM362.1 207.7h1.1v1.1h-1.1zM360.4 191.1h1.1v1.1h-1.1zM360.7 176.8h1.1v1.1h-1.1zM365.3 187.6h1.1v1.1h-1.1zM353.1 181.2h1.1v1.1h-1.1zM356.3 181.8h1.1v1.1h-1.1zM365.2 209.0h1.1v1.1h-1.1zM358.4 172.7h1.1v1.1h-1.1zM357.9 182.9h1.1v1.1h-1.1zM366.8 182.3h1.1v1.1h-1.1zM366.2 191.4h1.1v1.1h-1.1zM359.0 177.5h1.1v1.1h-1.1zM361.4 169.9h1.1v1.1h-1.1zM358.6 171.7h1.1v1.1h-1.1zM364.6 168.4h1.1v1.1h-1.1zM355.7 176.7h1.1v1.1h-1.1zM365.0 184.8h1.1v1.1h-1.1zM365.1 184.0h1.1v1.1h-1.1zM359.5 175.7h1.1v1.1h-1.1zM363.2 177.3h1.1v1.1h-1.1zM364.5 182.0h1.1v1.1h-1.1zM356.5 171.9h1.1v1.1h-1.1zM364.6 187.9h1.1v1.1h-1.1zM359.6 182.5h1.1v1.1h-1.1zM355.4 184.2h1.1v1.1h-1.1zM349.8 182.5h1.1v1.1h-1.1zM363.0 208.7h1.1v1.1h-1.1zM354.8 181.4h1.1v1.1h-1.1zM362.6 174.6h1.1v1.1h-1.1zM360.6 180.3h1.1v1.1h-1.1zM365.4 198.3h1.1v1.1h-1.1zM357.9 171.6h1.1v1.1h-1.1zM365.0 198.5h1.1v1.1h-1.1zM365.5 206.0h1.1v1.1h-1.1zM364.3 201.0h1.1v1.1h-1.1zM358.4 185.6h1.1v1.1h-1.1zM361.6 187.7h1.1v1.1h-1.1zM362.2 214.3h1.1v1.1h-1.1zM346.9 182.0h1.1v1.1h-1.1zM365.8 188.9h1.1v1.1h-1.1zM360.0 185.2h1.1v1.1h-1.1zM361.5 187.1h1.1v1.1h-1.1zM366.6 199.1h1.1v1.1h-1.1zM367.8 186.4h1.1v1.1h-1.1zM360.6 189.2h1.1v1.1h-1.1zM367.2 180.9h1.1v1.1h-1.1zM357.3 186.9h1.1v1.1h-1.1zM362.8 200.4h1.1v1.1h-1.1zM360.8 181.0h1.1v1.1h-1.1zM362.7 205.7h1.1v1.1h-1.1zM351.9 176.3h1.1v1.1h-1.1zM368.0 183.4h1.1v1.1h-1.1zM365.2 166.9h1.1v1.1h-1.1zM357.7 186.4h1.1v1.1h-1.1zM357.1 185.9h1.1v1.1h-1.1zM354.5 181.4h1.1v1.1h-1.1zM363.8 174.0h1.1v1.1h-1.1zM363.5 199.1h1.1v1.1h-1.1zM352.2 181.0h1.1v1.1h-1.1zM367.4 192.5h1.1v1.1h-1.1zM365.5 189.6h1.1v1.1h-1.1zM365.3 189.2h1.1v1.1h-1.1zM355.1 180.9h1.1v1.1h-1.1zM366.1 197.6h1.1v1.1h-1.1zM362.3 190.8h1.1v1.1h-1.1zM347.8 181.5h1.1v1.1h-1.1zM349.2 180.6h1.1v1.1h-1.1zM367.5 179.5h1.1v1.1h-1.1zM363.4 210.3h1.1v1.1h-1.1zM351.2 177.2h1.1v1.1h-1.1zM363.0 179.3h1.1v1.1h-1.1zM362.8 170.7h1.1v1.1h-1.1zM364.1 178.9h1.1v1.1h-1.1zM364.5 178.3h1.1v1.1h-1.1zM364.6 186.1h1.1v1.1h-1.1zM358.0 175.6h1.1v1.1h-1.1zM368.0 176.3h1.1v1.1h-1.1zM364.5 168.5h1.1v1.1h-1.1zM354.9 174.2h1.1v1.1h-1.1zM366.4 175.6h1.1v1.1h-1.1zM367.6 202.6h1.1v1.1h-1.1zM367.5 176.1h1.1v1.1h-1.1zM366.8 178.0h1.1v1.1h-1.1zM365.5 206.2h1.1v1.1h-1.1zM362.9 212.1h1.1v1.1h-1.1zM365.2 189.9h1.1v1.1h-1.1zM357.1 177.5h1.1v1.1h-1.1zM366.1 173.5h1.1v1.1h-1.1zM367.6 194.1h1.1v1.1h-1.1zM358.4 170.4h1.1v1.1h-1.1zM364.8 170.0h1.1v1.1h-1.1zM360.7 176.6h1.1v1.1h-1.1zM356.4 179.9h1.1v1.1h-1.1zM366.4 200.8h1.1v1.1h-1.1zM360.9 192.8h1.1v1.1h-1.1zM357.8 174.7h1.1v1.1h-1.1zM359.2 170.6h1.1v1.1h-1.1zM356.0 176.8h1.1v1.1h-1.1zM363.2 205.4h1.1v1.1h-1.1zM358.1 178.0h1.1v1.1h-1.1zM366.2 207.4h1.1v1.1h-1.1zM360.4 178.6h1.1v1.1h-1.1zM350.9 177.3h1.1v1.1h-1.1zM367.1 183.4h1.1v1.1h-1.1zM350.0 179.1h1.1v1.1h-1.1zM363.5 174.8h1.1v1.1h-1.1zM355.1 179.7h1.1v1.1h-1.1zM362.2 187.0h1.1v1.1h-1.1zM362.5 191.5h1.1v1.1h-1.1zM362.1 204.1h1.1v1.1h-1.1zM359.4 168.9h1.1v1.1h-1.1zM360.8 176.0h1.1v1.1h-1.1zM360.2 190.5h1.1v1.1h-1.1zM358.8 181.6h1.1v1.1h-1.1zM360.2 175.3h1.1v1.1h-1.1zM359.3 180.2h1.1v1.1h-1.1zM359.5 174.5h1.1v1.1h-1.1zM359.9 186.0h1.1v1.1h-1.1zM366.1 190.9h1.1v1.1h-1.1zM366.0 179.5h1.1v1.1h-1.1zM362.4 167.8h1.1v1.1h-1.1zM363.8 201.6h1.1v1.1h-1.1zM366.4 174.8h1.1v1.1h-1.1zM352.5 175.9h1.1v1.1h-1.1zM363.0 183.8h1.1v1.1h-1.1zM362.8 175.1h1.1v1.1h-1.1zM366.6 201.5h1.1v1.1h-1.1zM356.4 180.1h1.1v1.1h-1.1zM365.1 180.5h1.1v1.1h-1.1zM367.7 198.3h1.1v1.1h-1.1zM364.0 182.3h1.1v1.1h-1.1zM363.0 211.9h1.1v1.1h-1.1zM366.9 204.6h1.1v1.1h-1.1zM361.4 186.0h1.1v1.1h-1.1zM354.6 179.6h1.1v1.1h-1.1zM362.4 167.2h1.1v1.1h-1.1zM360.0 179.4h1.1v1.1h-1.1zM364.2 171.2h1.1v1.1h-1.1zM360.1 169.0h1.1v1.1h-1.1zM364.4 209.6h1.1v1.1h-1.1zM363.1 168.4h1.1v1.1h-1.1zM367.2 204.1h1.1v1.1h-1.1zM357.1 174.7h1.1v1.1h-1.1zM358.7 181.9h1.1v1.1h-1.1zM353.7 176.0h1.1v1.1h-1.1zM365.5 189.2h1.1v1.1h-1.1zM364.6 197.8h1.1v1.1h-1.1zM358.4 179.3h1.1v1.1h-1.1zM360.5 194.2h1.1v1.1h-1.1zM360.1 191.4h1.1v1.1h-1.1zM361.9 172.5h1.1v1.1h-1.1zM360.0 175.4h1.1v1.1h-1.1zM367.0 188.9h1.1v1.1h-1.1zM346.5 182.0h1.1v1.1h-1.1zM356.3 179.3h1.1v1.1h-1.1zM361.8 192.0h1.1v1.1h-1.1zM363.7 173.8h1.1v1.1h-1.1zM362.3 192.8h1.1v1.1h-1.1zM347.3 181.2h1.1v1.1h-1.1zM351.8 178.9h1.1v1.1h-1.1zM367.6 195.8h1.1v1.1h-1.1zM366.0 180.2h1.1v1.1h-1.1zM365.5 202.5h1.1v1.1h-1.1zM363.6 200.3h1.1v1.1h-1.1zM367.0 201.5h1.1v1.1h-1.1zM366.6 196.9h1.1v1.1h-1.1zM365.6 174.9h1.1v1.1h-1.1zM365.1 175.0h1.1v1.1h-1.1zM361.7 173.2h1.1v1.1h-1.1zM365.2 173.6h1.1v1.1h-1.1zM368.4 193.3h1.1v1.1h-1.1zM363.5 191.8h1.1v1.1h-1.1zM368.3 197.5h1.1v1.1h-1.1zM363.4 200.3h1.1v1.1h-1.1zM361.4 168.5h1.1v1.1h-1.1zM358.8 174.7h1.1v1.1h-1.1zM351.4 180.4h1.1v1.1h-1.1zM364.4 193.7h1.1v1.1h-1.1zM358.1 185.5h1.1v1.1h-1.1zM362.6 174.5h1.1v1.1h-1.1zM349.7 181.3h1.1v1.1h-1.1zM363.6 173.6h1.1v1.1h-1.1zM365.5 200.4h1.1v1.1h-1.1zM366.4 202.7h1.1v1.1h-1.1zM364.1 196.6h1.1v1.1h-1.1zM363.9 201.7h1.1v1.1h-1.1zM363.0 192.0h1.1v1.1h-1.1zM363.5 183.0h1.1v1.1h-1.1zM361.1 181.5h1.1v1.1h-1.1zM360.2 168.7h1.1v1.1h-1.1zM361.6 182.8h1.1v1.1h-1.1zM368.2 183.3h1.1v1.1h-1.1zM357.8 174.4h1.1v1.1h-1.1zM357.3 179.0h1.1v1.1h-1.1zM361.7 191.0h1.1v1.1h-1.1zM351.8 176.2h1.1v1.1h-1.1zM368.5 184.0h1.1v1.1h-1.1zM355.1 175.3h1.1v1.1h-1.1zM363.9 203.1h1.1v1.1h-1.1zM366.4 210.5h1.1v1.1h-1.1zM366.5 213.2h1.1v1.1h-1.1zM365.0 201.2h1.1v1.1h-1.1zM362.9 203.1h1.1v1.1h-1.1zM365.5 217.3h1.1v1.1h-1.1zM367.6 207.8h1.1v1.1h-1.1zM364.5 211.1h1.1v1.1h-1.1zM362.2 200.8h1.1v1.1h-1.1zM367.9 206.8h1.1v1.1h-1.1zM365.4 208.8h1.1v1.1h-1.1zM366.3 201.0h1.1v1.1h-1.1zM366.4 198.1h1.1v1.1h-1.1zM367.2 213.2h1.1v1.1h-1.1zM364.1 212.8h1.1v1.1h-1.1zM362.9 215.0h1.1v1.1h-1.1zM365.1 206.4h1.1v1.1h-1.1zM363.2 213.5h1.1v1.1h-1.1zM365.2 202.1h1.1v1.1h-1.1zM363.4 208.8h1.1v1.1h-1.1zM362.3 204.2h1.1v1.1h-1.1zM362.4 215.3h1.1v1.1h-1.1zM365.3 201.1h1.1v1.1h-1.1zM365.9 213.8h1.1v1.1h-1.1zM365.7 214.4h1.1v1.1h-1.1zM365.9 213.6h1.1v1.1h-1.1zM364.6 211.2h1.1v1.1h-1.1zM364.1 212.1h1.1v1.1h-1.1zM367.7 202.5h1.1v1.1h-1.1zM365.2 205.5h1.1v1.1h-1.1zM362.9 203.5h1.1v1.1h-1.1zM364.3 214.8h1.1v1.1h-1.1zM366.5 198.9h1.1v1.1h-1.1zM363.0 202.1h1.1v1.1h-1.1zM365.9 201.1h1.1v1.1h-1.1zM363.0 210.4h1.1v1.1h-1.1zM364.3 206.5h1.1v1.1h-1.1zM367.2 216.7h1.1v1.1h-1.1zM366.5 211.6h1.1v1.1h-1.1zM366.0 207.9h1.1v1.1h-1.1zM362.8 208.0h1.1v1.1h-1.1zM363.4 200.3h1.1v1.1h-1.1zM364.0 207.0h1.1v1.1h-1.1zM367.8 199.1h1.1v1.1h-1.1zM364.5 200.2h1.1v1.1h-1.1zM367.2 201.2h1.1v1.1h-1.1zM359.4 167.1h1.1v1.1h-1.1zM361.6 161.8h1.1v1.1h-1.1zM362.4 172.7h1.1v1.1h-1.1zM356.3 177.5h1.1v1.1h-1.1zM363.0 163.1h1.1v1.1h-1.1zM357.2 162.1h1.1v1.1h-1.1zM358.2 160.5h1.1v1.1h-1.1zM363.2 177.5h1.1v1.1h-1.1zM366.8 163.3h1.1v1.1h-1.1zM359.7 170.9h1.1v1.1h-1.1zM386.2 175.6h1.1v1.1h-1.1zM374.1 173.9h1.1v1.1h-1.1zM388.3 175.1h1.1v1.1h-1.1zM399.3 176.3h1.1v1.1h-1.1zM386.9 177.7h1.1v1.1h-1.1zM373.9 176.7h1.1v1.1h-1.1zM388.5 183.2h1.1v1.1h-1.1zM383.4 182.0h1.1v1.1h-1.1zM383.5 161.9h1.1v1.1h-1.1zM383.7 216.3h1.1v1.1h-1.1zM389.3 209.6h1.1v1.1h-1.1zM373.1 214.0h1.1v1.1h-1.1zM390.7 202.9h1.1v1.1h-1.1zM400.2 210.7h1.1v1.1h-1.1z" fill="#000"/>
<path d="M336.0 198.9h0.9v0.9h-0.9zM342.0 197.6h0.9v0.9h-0.9zM343.1 196.9h0.9v0.9h-0.9zM343.2 202.5h0.9v0.9h-0.9zM340.4 197.1h0.9v0.9h-0.9zM341.7 201.3h0.9v0.9h-0.9zM340.7 202.2h0.9v0.9h-0.9zM345.9 200.1h0.9v0.9h-0.9zM343.9 203.8h0.9v0.9h-0.9zM345.5 196.8h0.9v0.9h-0.9z" fill="#fff"/>
<rect x="333.6" y="27.3" width="83.20" height="87.90" fill="none" stroke="#000" stroke-width="1.5"/>
<line x1="369.2" y1="27.3" x2="369.2" y2="115.2" stroke="#000" stroke-width="1.5"/>
<line x1="333.6" y1="89.4" x2="416.8" y2="89.4" stroke="#000" stroke-width="1.5"/>
<rect x="434.4" y="27.3" width="82.90" height="88.20" fill="none" stroke="#000" stroke-width="1.5"/>
<line x1="470.0" y1="27.3" x2="470.0" y2="115.5" stroke="#000" stroke-width="1.5"/>
<line x1="434.4" y1="89.8" x2="517.3" y2="89.8" stroke="#000" stroke-width="1.5"/>
<rect x="333.6" y="131.3" width="83.70" height="88.00" fill="none" stroke="#000" stroke-width="1.5"/>
<line x1="369.1" y1="131.3" x2="369.1" y2="219.3" stroke="#000" stroke-width="1.5"/>
<line x1="333.6" y1="193.5" x2="417.3" y2="193.5" stroke="#000" stroke-width="1.5"/>
<line x1="377.1" y1="28.9" x2="377.1" y2="51.0" stroke="#000" stroke-width="1.4"/>
<line x1="370.9" y1="41.2" x2="394.9" y2="41.2" stroke="#000" stroke-width="1.4"/>
<text x="383.41" y="37.10" font-family='"Liberation Serif", serif' font-size="10.1" font-weight="normal" textLength="26.22" lengthAdjust="spacingAndGlyphs" fill="#000">17.4%</text>
<text x="384.72" y="50.60" font-family='"Liberation Serif", serif' font-size="10.1" font-weight="normal" textLength="21.11" lengthAdjust="spacingAndGlyphs" fill="#000">8.8%</text>
<line x1="487.2" y1="28.9" x2="487.2" y2="51.0" stroke="#000" stroke-width="1.4"/>
<line x1="480.3" y1="41.2" x2="504.3" y2="41.2" stroke="#000" stroke-width="1.4"/>
<text x="490.49" y="37.10" font-family='"Liberation Serif", serif' font-size="10.1" font-weight="normal" textLength="19.05" lengthAdjust="spacingAndGlyphs" fill="#000">17%</text>
<text x="489.43" y="50.60" font-family='"Liberation Serif", serif' font-size="10.1" font-weight="normal" textLength="23.95" lengthAdjust="spacingAndGlyphs" fill="#000">9.2%</text>
<line x1="383.5" y1="135" x2="383.5" y2="158" stroke="#000" stroke-width="1.4"/>
<line x1="377.3" y1="147.1" x2="395" y2="147.1" stroke="#000" stroke-width="1.4"/>
<text x="388.30" y="143.00" font-family='"Liberation Serif", serif' font-size="10.1" font-weight="normal" textLength="22.05" lengthAdjust="spacingAndGlyphs" fill="#000">0.2%</text>
<text x="384.88" y="157.80" font-family='"Liberation Serif", serif' font-size="10.1" font-weight="normal" textLength="23.18" lengthAdjust="spacingAndGlyphs" fill="#000">0.7%</text>
<text x="334.42" y="42.80" font-family='"Liberation Sans", sans-serif' font-size="18" font-weight="bold" textLength="6.67" lengthAdjust="spacingAndGlyphs" fill="#000">i</text>
<text x="436.07" y="42.80" font-family='"Liberation Sans", sans-serif' font-size="18" font-weight="bold" textLength="11.38" lengthAdjust="spacingAndGlyphs" fill="#000">ii</text>
<text x="334.56" y="145.70" font-family='"Liberation Sans", sans-serif' font-size="18" font-weight="bold" textLength="16.01" lengthAdjust="spacingAndGlyphs" fill="#000">iii</text>
<line x1="325.6" y1="57.7" x2="325.6" y2="99.8" stroke="#000" stroke-width="1.4"/>
<path d="M325.6 53.7 L330.1 64.7 L329.20000000000005 65.3 L325.6 59.75 L322.0 65.3 L321.1 64.7 Z" fill="#000"/>
<text x="329.20" y="137.20" transform="rotate(-90 329.20 137.20)" font-family='"Liberation Serif", serif' font-size="10.6" font-weight="bold" textLength="25.56" lengthAdjust="spacingAndGlyphs">CD19</text>
<line x1="325.6" y1="146" x2="325.6" y2="171.2" stroke="#000" stroke-width="1.4"/>
<line x1="428.1" y1="27.7" x2="428.1" y2="51.4" stroke="#000" stroke-width="1.4"/>
<path d="M428.1 23.7 L432.6 34.7 L431.70000000000005 35.300000000000004 L428.1 29.75 L424.5 35.300000000000004 L423.6 34.7 Z" fill="#000"/>
<text x="431.40" y="92.79" transform="rotate(-90 431.40 92.79)" font-family='"Liberation Serif", serif' font-size="10.0" font-weight="bold" textLength="35.16" lengthAdjust="spacingAndGlyphs">CXCR4</text>
<line x1="428.4" y1="97.2" x2="428.4" y2="112.8" stroke="#000" stroke-width="1.4"/>
<text x="421.95" y="181.30" font-family='"Liberation Serif", serif' font-size="10.6" font-weight="bold" textLength="89.79" lengthAdjust="spacingAndGlyphs" fill="#000">With αCXCR4 mAb</text>
<line x1="346" y1="230.6" x2="400" y2="230.6" stroke="#000" stroke-width="1.4"/>
<text x="411.64" y="232.80" font-family='"Liberation Serif", serif' font-size="10.0" font-weight="bold" textLength="23.72" lengthAdjust="spacingAndGlyphs" fill="#000">CD45</text>
<line x1="442.7" y1="230.8" x2="509.29999999999995" y2="230.8" stroke="#000" stroke-width="1.5"/>
<path d="M512.3 230.8 L503.29999999999995 227.5 L502.79999999999995 228.4 L507.34999999999997 230.8 L502.79999999999995 233.20000000000002 L503.29999999999995 234.10000000000002 Z" fill="#000"/>
<text x="0.14" y="278.60" font-family='"Liberation Sans", sans-serif' font-size="26" font-weight="bold" textLength="17.31" lengthAdjust="spacingAndGlyphs" fill="#000">C</text>
<line x1="60.5" y1="265" x2="135.8" y2="265" stroke="#333" stroke-width="1.0"/>
<line x1="60.5" y1="264.5" x2="60.5" y2="425.4" stroke="#333" stroke-width="1.0"/>
<line x1="135.8" y1="264.5" x2="135.8" y2="425.4" stroke="#333" stroke-width="1.0"/>
<line x1="60.5" y1="424.9" x2="135.8" y2="424.9" stroke="#222" stroke-width="1.2"/>
<text x="34.68" y="269.80" font-family='"Liberation Sans", sans-serif' font-size="9.0" font-weight="normal" textLength="21.40" lengthAdjust="spacingAndGlyphs" fill="#000">1200</text>
<text x="34.68" y="296.05" font-family='"Liberation Sans", sans-serif' font-size="9.0" font-weight="normal" textLength="21.40" lengthAdjust="spacingAndGlyphs" fill="#000">1000</text>
<text x="39.17" y="322.30" font-family='"Liberation Sans", sans-serif' font-size="9.0" font-weight="normal" textLength="16.92" lengthAdjust="spacingAndGlyphs" fill="#000">800</text>
<text x="39.09" y="348.55" font-family='"Liberation Sans", sans-serif' font-size="9.0" font-weight="normal" textLength="17.00" lengthAdjust="spacingAndGlyphs" fill="#000">600</text>
<text x="39.37" y="374.80" font-family='"Liberation Sans", sans-serif' font-size="9.0" font-weight="normal" textLength="16.71" lengthAdjust="spacingAndGlyphs" fill="#000">400</text>
<text x="39.09" y="401.05" font-family='"Liberation Sans", sans-serif' font-size="9.0" font-weight="normal" textLength="17.00" lengthAdjust="spacingAndGlyphs" fill="#000">200</text>
<text x="50.50" y="427.30" font-family='"Liberation Sans", sans-serif' font-size="9.0" font-weight="normal" textLength="5.59" lengthAdjust="spacingAndGlyphs" fill="#000">0</text>
<text x="19.00" y="397.22" transform="rotate(-90 19.00 397.22)" font-family='"Liberation Serif", serif' font-size="11.6" font-weight="bold" textLength="105.72" lengthAdjust="spacingAndGlyphs">Human CD34+ cells</text>
<g transform="rotate(-90 35.0 382.2)"><text x="35.0" y="382.2" font-family='"Liberation Serif", serif' font-size="11.4" font-weight="bold" textLength="74.8" lengthAdjust="spacingAndGlyphs">/10<tspan font-size="9.6" dy="-2.6">6</tspan><tspan dy="2.6"> total cells</tspan></text></g>
<text x="85.29" y="276.60" font-family='"Liberation Serif", serif' font-size="12.2" font-weight="bold" textLength="19.04" lengthAdjust="spacingAndGlyphs" fill="#000">BM</text>
<text x="184.96" y="276.90" font-family='"Liberation Serif", serif' font-size="12.2" font-weight="bold" textLength="34.61" lengthAdjust="spacingAndGlyphs" fill="#000">Spleen</text>
<rect x="63.9" y="405.8" width="15.50" height="19.10" fill="#000"/>
<line x1="71.65" y1="390.2" x2="71.65" y2="405.8" stroke="#222" stroke-width="1.0"/>
<line x1="69.9" y1="390.2" x2="73.4" y2="390.2" stroke="#000" stroke-width="1.4"/>
<polygon points="69.7,380.7 70.4,382.3 72.1,382.4 70.8,383.5 71.2,385.2 69.7,384.3 68.2,385.2 68.6,383.5 67.3,382.4 69.0,382.3" fill="#000"/>
<rect x="86.4" y="423.0" width="14.50" height="1.90" fill="#fff" stroke="#222" stroke-width="1.0"/>
<line x1="93.65" y1="421.0" x2="93.65" y2="422.5" stroke="#222" stroke-width="1.0"/>
<line x1="92.15" y1="421.0" x2="95.15" y2="421.0" stroke="#000" stroke-width="1.4"/>
<rect x="116.5" y="317.9" width="14.80" height="107.00" fill="#fff" stroke="#222" stroke-width="1.0"/>
<line x1="123.9" y1="280.7" x2="123.9" y2="317.4" stroke="#222" stroke-width="1.0"/>
<line x1="122.65" y1="280.7" x2="125.15" y2="280.7" stroke="#000" stroke-width="1.4"/>
<line x1="164.3" y1="265" x2="247.2" y2="265" stroke="#333" stroke-width="1.0"/>
<line x1="164.3" y1="264.5" x2="164.3" y2="425.4" stroke="#333" stroke-width="1.0"/>
<line x1="247.2" y1="264.5" x2="247.2" y2="425.4" stroke="#333" stroke-width="1.0"/>
<line x1="164.3" y1="424.9" x2="247.2" y2="424.9" stroke="#222" stroke-width="1.2"/>
<text x="250.89" y="269.80" font-family='"Liberation Sans", sans-serif' font-size="9.0" font-weight="normal" textLength="21.09" lengthAdjust="spacingAndGlyphs" fill="#000">4000</text>
<text x="250.74" y="289.50" font-family='"Liberation Sans", sans-serif' font-size="9.0" font-weight="normal" textLength="21.24" lengthAdjust="spacingAndGlyphs" fill="#000">3500</text>
<text x="250.74" y="309.20" font-family='"Liberation Sans", sans-serif' font-size="9.0" font-weight="normal" textLength="21.24" lengthAdjust="spacingAndGlyphs" fill="#000">3000</text>
<text x="250.62" y="328.90" font-family='"Liberation Sans", sans-serif' font-size="9.0" font-weight="normal" textLength="21.36" lengthAdjust="spacingAndGlyphs" fill="#000">2500</text>
<text x="250.62" y="348.60" font-family='"Liberation Sans", sans-serif' font-size="9.0" font-weight="normal" textLength="21.36" lengthAdjust="spacingAndGlyphs" fill="#000">2000</text>
<text x="250.37" y="368.30" font-family='"Liberation Sans", sans-serif' font-size="9.0" font-weight="normal" textLength="21.61" lengthAdjust="spacingAndGlyphs" fill="#000">1500</text>
<text x="250.37" y="388.00" font-family='"Liberation Sans", sans-serif' font-size="9.0" font-weight="normal" textLength="21.61" lengthAdjust="spacingAndGlyphs" fill="#000">1000</text>
<text x="252.40" y="407.70" font-family='"Liberation Sans", sans-serif' font-size="9.0" font-weight="normal" textLength="16.79" lengthAdjust="spacingAndGlyphs" fill="#000">500</text>
<text x="252.80" y="427.40" font-family='"Liberation Sans", sans-serif' font-size="9.0" font-weight="normal" textLength="5.59" lengthAdjust="spacingAndGlyphs" fill="#000">0</text>
<rect x="175.9" y="408" width="16.80" height="16.90" fill="#000"/>
<line x1="184.3" y1="399" x2="184.3" y2="408" stroke="#222" stroke-width="1.0"/>
<line x1="182.55" y1="399" x2="186.05" y2="399" stroke="#000" stroke-width="1.4"/>
<polygon points="184.0,385.0 184.7,386.6 186.4,386.7 185.1,387.8 185.5,389.5 184.0,388.6 182.5,389.5 182.9,387.8 181.6,386.7 183.3,386.6" fill="#000"/>
<rect x="200.1" y="424.7" width="16.30" height="0.20" fill="#fff" stroke="#222" stroke-width="1.0"/>
<line x1="208.25" y1="423.2" x2="208.25" y2="424.2" stroke="#222" stroke-width="1.0"/>
<line x1="206.75" y1="423.2" x2="209.75" y2="423.2" stroke="#000" stroke-width="1.4"/>
<rect x="228.2" y="321.0" width="14.90" height="103.90" fill="#fff" stroke="#222" stroke-width="1.0"/>
<line x1="235.64999999999998" y1="282.6" x2="235.64999999999998" y2="320.5" stroke="#222" stroke-width="1.0"/>
<line x1="234.39999999999998" y1="282.6" x2="236.89999999999998" y2="282.6" stroke="#000" stroke-width="1.4"/>
<text x="8.27" y="438.10" font-family='"Liberation Sans", sans-serif' font-size="9.3" font-weight="bold" textLength="42.60" lengthAdjust="spacingAndGlyphs" fill="#000">αCXCR4</text>
<text x="16.48" y="451.10" font-family='"Liberation Sans", sans-serif' font-size="10.0" font-weight="bold" textLength="28.59" lengthAdjust="spacing">10µg</text>
<line x1="67.7" y1="435.3" x2="70.6" y2="435.3" stroke="#000" stroke-width="1.6"/>
<line x1="120.2" y1="435.4" x2="123.4" y2="435.4" stroke="#000" stroke-width="1.6"/>
<line x1="180.7" y1="435.3" x2="183.5" y2="435.3" stroke="#000" stroke-width="1.6"/>
<line x1="232.6" y1="435.3" x2="236.0" y2="435.3" stroke="#000" stroke-width="1.6"/>
<line x1="89.4" y1="435.9" x2="95.6" y2="435.9" stroke="#000" stroke-width="1.8"/>
<line x1="92.5" y1="432.7" x2="92.5" y2="439.09999999999997" stroke="#000" stroke-width="1.8"/>
<line x1="201.6" y1="436.2" x2="207.79999999999998" y2="436.2" stroke="#000" stroke-width="1.8"/>
<line x1="204.7" y1="433.0" x2="204.7" y2="439.4" stroke="#000" stroke-width="1.8"/>
<path d="M62.5 439.6 V444.0 H104.0 V439.6" fill="none" stroke="#000" stroke-width="1.4"/>
<path d="M111.0 439.6 V444.0 H132.6 V439.6" fill="none" stroke="#000" stroke-width="1.4"/>
<path d="M170.3 439.6 V444.0 H212.4 V439.6" fill="none" stroke="#000" stroke-width="1.4"/>
<path d="M223.1 439.6 V444.0 H244.7 V439.6" fill="none" stroke="#000" stroke-width="1.4"/>
<text x="63.21" y="455.80" font-family='"Liberation Serif", serif' font-size="10.3" font-weight="bold" textLength="31.23" lengthAdjust="spacingAndGlyphs" fill="#000">CD34+</text>
<text x="59.91" y="468.10" font-family='"Liberation Serif", serif' font-size="10.3" font-weight="bold" textLength="38.04" lengthAdjust="spacingAndGlyphs" fill="#000">CXCR4-</text>
<text x="70.74" y="479.70" font-family='"Liberation Serif", serif' font-size="10.3" font-weight="bold" textLength="16.81" lengthAdjust="spacingAndGlyphs" fill="#000">29h</text>
<text x="111.95" y="455.80" font-family='"Liberation Serif", serif' font-size="10.3" font-weight="bold" textLength="22.14" lengthAdjust="spacingAndGlyphs" fill="#000">Total</text>
<text x="107.61" y="468.10" font-family='"Liberation Serif", serif' font-size="10.3" font-weight="bold" textLength="30.92" lengthAdjust="spacingAndGlyphs" fill="#000">CD34+</text>
<text x="115.49" y="479.70" font-family='"Liberation Serif", serif' font-size="10.3" font-weight="bold" textLength="13.73" lengthAdjust="spacingAndGlyphs" fill="#000">16h</text>
<text x="173.81" y="455.70" font-family='"Liberation Serif", serif' font-size="10.3" font-weight="bold" textLength="31.12" lengthAdjust="spacingAndGlyphs" fill="#000">CD34+</text>
<text x="170.31" y="467.60" font-family='"Liberation Serif", serif' font-size="10.3" font-weight="bold" textLength="38.44" lengthAdjust="spacingAndGlyphs" fill="#000">CXCR4-</text>
<text x="181.15" y="479.60" font-family='"Liberation Serif", serif' font-size="10.3" font-weight="bold" textLength="16.50" lengthAdjust="spacingAndGlyphs" fill="#000">29h</text>
<text x="223.85" y="455.70" font-family='"Liberation Serif", serif' font-size="10.3" font-weight="bold" textLength="22.24" lengthAdjust="spacingAndGlyphs" fill="#000">Total</text>
<text x="219.50" y="467.60" font-family='"Liberation Serif", serif' font-size="10.3" font-weight="bold" textLength="31.43" lengthAdjust="spacingAndGlyphs" fill="#000">CD34+</text>
<text x="225.75" y="479.60" font-family='"Liberation Serif", serif' font-size="10.3" font-weight="bold" textLength="16.49" lengthAdjust="spacingAndGlyphs" fill="#000">16h</text>
<text x="309.46" y="278.60" font-family='"Liberation Sans", sans-serif' font-size="26" font-weight="bold" textLength="17.57" lengthAdjust="spacingAndGlyphs" fill="#000">D</text>
<path d="M387.5 338.8h1.1v1.1h-1.1zM379.8 342.1h1.1v1.1h-1.1zM380.9 325.9h1.1v1.1h-1.1zM389.2 341.2h1.1v1.1h-1.1zM377.4 331.8h1.1v1.1h-1.1zM381.0 334.4h1.1v1.1h-1.1zM383.4 334.3h1.1v1.1h-1.1zM387.1 328.5h1.1v1.1h-1.1zM383.9 346.0h1.1v1.1h-1.1zM383.4 326.0h1.1v1.1h-1.1zM379.0 342.6h1.1v1.1h-1.1zM388.5 325.4h1.1v1.1h-1.1zM377.5 340.4h1.1v1.1h-1.1zM385.0 339.0h1.1v1.1h-1.1zM376.7 335.1h1.1v1.1h-1.1zM385.2 331.5h1.1v1.1h-1.1zM384.0 336.9h1.1v1.1h-1.1zM383.1 329.5h1.1v1.1h-1.1zM383.3 333.4h1.1v1.1h-1.1zM388.2 341.8h1.1v1.1h-1.1zM390.2 328.6h1.1v1.1h-1.1zM381.9 345.0h1.1v1.1h-1.1zM383.7 333.1h1.1v1.1h-1.1zM387.3 341.9h1.1v1.1h-1.1zM379.5 329.1h1.1v1.1h-1.1zM378.6 337.1h1.1v1.1h-1.1zM378.5 327.0h1.1v1.1h-1.1zM392.0 332.0h1.1v1.1h-1.1zM381.4 326.2h1.1v1.1h-1.1zM384.0 339.5h1.1v1.1h-1.1zM388.6 345.7h1.1v1.1h-1.1zM389.6 325.9h1.1v1.1h-1.1zM378.2 335.0h1.1v1.1h-1.1zM389.4 338.2h1.1v1.1h-1.1zM377.0 340.4h1.1v1.1h-1.1zM388.9 337.7h1.1v1.1h-1.1zM385.3 343.6h1.1v1.1h-1.1zM379.9 346.1h1.1v1.1h-1.1zM388.4 340.8h1.1v1.1h-1.1zM390.0 333.3h1.1v1.1h-1.1zM379.6 326.1h1.1v1.1h-1.1zM384.5 347.1h1.1v1.1h-1.1zM383.6 336.7h1.1v1.1h-1.1zM390.2 330.1h1.1v1.1h-1.1zM380.8 335.0h1.1v1.1h-1.1zM382.4 344.2h1.1v1.1h-1.1zM377.9 331.8h1.1v1.1h-1.1zM391.2 331.5h1.1v1.1h-1.1zM382.2 341.3h1.1v1.1h-1.1zM391.3 329.7h1.1v1.1h-1.1zM380.3 341.4h1.1v1.1h-1.1zM391.8 339.8h1.1v1.1h-1.1zM382.1 345.2h1.1v1.1h-1.1zM389.3 329.6h1.1v1.1h-1.1zM383.3 327.4h1.1v1.1h-1.1zM385.3 337.4h1.1v1.1h-1.1zM386.2 347.7h1.1v1.1h-1.1zM381.9 344.1h1.1v1.1h-1.1zM378.5 327.3h1.1v1.1h-1.1zM383.0 329.5h1.1v1.1h-1.1zM381.8 340.0h1.1v1.1h-1.1zM384.1 325.2h1.1v1.1h-1.1zM380.2 344.5h1.1v1.1h-1.1zM389.1 336.5h1.1v1.1h-1.1zM379.6 337.9h1.1v1.1h-1.1zM382.9 327.2h1.1v1.1h-1.1zM386.4 342.0h1.1v1.1h-1.1zM385.4 342.4h1.1v1.1h-1.1zM380.2 339.3h1.1v1.1h-1.1zM390.8 327.5h1.1v1.1h-1.1zM376.8 337.6h1.1v1.1h-1.1zM385.4 334.4h1.1v1.1h-1.1zM389.0 333.7h1.1v1.1h-1.1zM381.0 331.2h1.1v1.1h-1.1zM376.9 338.5h1.1v1.1h-1.1zM388.0 338.5h1.1v1.1h-1.1zM383.2 342.7h1.1v1.1h-1.1zM382.8 328.5h1.1v1.1h-1.1zM391.3 342.7h1.1v1.1h-1.1zM385.8 328.3h1.1v1.1h-1.1zM390.5 332.9h1.1v1.1h-1.1zM380.5 343.1h1.1v1.1h-1.1zM390.6 330.5h1.1v1.1h-1.1zM389.8 336.6h1.1v1.1h-1.1zM380.9 334.9h1.1v1.1h-1.1zM379.1 331.0h1.1v1.1h-1.1zM387.6 340.5h1.1v1.1h-1.1zM391.2 339.9h1.1v1.1h-1.1zM389.6 337.2h1.1v1.1h-1.1zM378.4 344.5h1.1v1.1h-1.1zM379.8 343.2h1.1v1.1h-1.1zM383.1 327.6h1.1v1.1h-1.1zM386.0 333.9h1.1v1.1h-1.1zM381.4 335.3h1.1v1.1h-1.1zM388.7 340.8h1.1v1.1h-1.1zM388.6 336.3h1.1v1.1h-1.1zM384.3 341.6h1.1v1.1h-1.1zM390.6 335.7h1.1v1.1h-1.1zM387.7 342.1h1.1v1.1h-1.1zM381.8 325.3h1.1v1.1h-1.1zM385.2 334.0h1.1v1.1h-1.1zM389.5 340.1h1.1v1.1h-1.1zM386.0 328.7h1.1v1.1h-1.1zM387.5 329.5h1.1v1.1h-1.1zM387.3 337.8h1.1v1.1h-1.1zM389.3 336.9h1.1v1.1h-1.1zM383.0 334.2h1.1v1.1h-1.1zM377.6 330.8h1.1v1.1h-1.1zM382.5 332.7h1.1v1.1h-1.1zM387.9 326.1h1.1v1.1h-1.1zM385.3 340.6h1.1v1.1h-1.1zM388.5 331.2h1.1v1.1h-1.1zM381.6 340.6h1.1v1.1h-1.1zM386.8 341.1h1.1v1.1h-1.1zM386.1 326.9h1.1v1.1h-1.1zM384.7 326.7h1.1v1.1h-1.1zM382.6 333.0h1.1v1.1h-1.1zM380.3 333.5h1.1v1.1h-1.1zM387.1 328.2h1.1v1.1h-1.1zM380.6 327.4h1.1v1.1h-1.1zM390.0 328.9h1.1v1.1h-1.1zM390.8 329.6h1.1v1.1h-1.1zM387.7 345.9h1.1v1.1h-1.1zM381.6 347.9h1.1v1.1h-1.1zM382.9 331.9h1.1v1.1h-1.1zM389.3 339.1h1.1v1.1h-1.1zM384.2 328.4h1.1v1.1h-1.1zM376.3 337.1h1.1v1.1h-1.1zM382.6 339.0h1.1v1.1h-1.1zM379.9 334.8h1.1v1.1h-1.1zM385.9 347.4h1.1v1.1h-1.1zM385.4 331.8h1.1v1.1h-1.1zM376.3 335.4h1.1v1.1h-1.1zM384.3 343.1h1.1v1.1h-1.1zM379.2 336.4h1.1v1.1h-1.1zM389.4 331.0h1.1v1.1h-1.1zM390.9 339.2h1.1v1.1h-1.1zM390.4 333.7h1.1v1.1h-1.1zM376.9 331.8h1.1v1.1h-1.1zM381.4 340.1h1.1v1.1h-1.1zM378.8 342.9h1.1v1.1h-1.1zM379.0 341.9h1.1v1.1h-1.1zM387.8 329.9h1.1v1.1h-1.1zM384.5 342.2h1.1v1.1h-1.1zM392.7 336.2h1.1v1.1h-1.1zM385.0 335.9h1.1v1.1h-1.1zM378.0 335.1h1.1v1.1h-1.1zM381.9 325.8h1.1v1.1h-1.1zM377.2 336.7h1.1v1.1h-1.1zM391.4 339.8h1.1v1.1h-1.1zM385.3 327.8h1.1v1.1h-1.1zM387.8 331.8h1.1v1.1h-1.1zM392.0 337.7h1.1v1.1h-1.1zM387.7 331.9h1.1v1.1h-1.1zM384.7 330.2h1.1v1.1h-1.1zM379.7 338.0h1.1v1.1h-1.1zM383.5 331.9h1.1v1.1h-1.1zM376.3 333.1h1.1v1.1h-1.1zM387.9 327.4h1.1v1.1h-1.1zM383.3 339.3h1.1v1.1h-1.1zM383.7 325.7h1.1v1.1h-1.1zM389.2 338.5h1.1v1.1h-1.1zM386.5 348.2h1.1v1.1h-1.1zM381.1 347.3h1.1v1.1h-1.1zM381.0 336.2h1.1v1.1h-1.1zM388.4 345.7h1.1v1.1h-1.1zM389.8 326.1h1.1v1.1h-1.1zM387.3 344.7h1.1v1.1h-1.1zM378.9 331.7h1.1v1.1h-1.1zM388.2 344.3h1.1v1.1h-1.1zM380.8 326.4h1.1v1.1h-1.1zM386.2 338.2h1.1v1.1h-1.1zM389.5 344.3h1.1v1.1h-1.1zM375.5 328.5h1.1v1.1h-1.1zM388.6 348.3h1.1v1.1h-1.1zM386.9 327.7h1.1v1.1h-1.1zM384.3 341.3h1.1v1.1h-1.1zM379.7 335.5h1.1v1.1h-1.1zM391.1 330.5h1.1v1.1h-1.1zM378.0 325.9h1.1v1.1h-1.1zM373.7 337.3h1.1v1.1h-1.1zM373.5 332.1h1.1v1.1h-1.1zM389.2 325.7h1.1v1.1h-1.1zM392.0 346.3h1.1v1.1h-1.1zM380.0 341.0h1.1v1.1h-1.1zM385.3 330.2h1.1v1.1h-1.1zM379.0 332.4h1.1v1.1h-1.1zM394.6 336.5h1.1v1.1h-1.1zM375.9 338.8h1.1v1.1h-1.1zM390.4 340.2h1.1v1.1h-1.1zM377.4 343.7h1.1v1.1h-1.1zM389.1 335.4h1.1v1.1h-1.1zM376.1 330.6h1.1v1.1h-1.1zM391.4 344.9h1.1v1.1h-1.1zM377.7 345.4h1.1v1.1h-1.1zM386.5 342.4h1.1v1.1h-1.1zM385.2 341.5h1.1v1.1h-1.1zM382.1 336.1h1.1v1.1h-1.1zM383.3 348.5h1.1v1.1h-1.1zM385.5 345.6h1.1v1.1h-1.1zM380.0 338.2h1.1v1.1h-1.1zM390.6 327.3h1.1v1.1h-1.1zM382.0 328.0h1.1v1.1h-1.1zM386.4 325.4h1.1v1.1h-1.1zM384.7 333.0h1.1v1.1h-1.1zM380.7 342.5h1.1v1.1h-1.1zM382.5 329.8h1.1v1.1h-1.1zM379.6 332.8h1.1v1.1h-1.1zM389.8 330.8h1.1v1.1h-1.1zM394.9 339.7h1.1v1.1h-1.1zM392.7 336.1h1.1v1.1h-1.1zM382.5 341.1h1.1v1.1h-1.1zM379.8 327.4h1.1v1.1h-1.1zM378.3 325.1h1.1v1.1h-1.1zM383.9 340.6h1.1v1.1h-1.1zM394.7 337.3h1.1v1.1h-1.1zM395.0 335.0h1.1v1.1h-1.1zM382.3 326.7h1.1v1.1h-1.1zM380.0 327.8h1.1v1.1h-1.1zM393.6 330.6h1.1v1.1h-1.1zM385.1 335.2h1.1v1.1h-1.1zM388.1 340.3h1.1v1.1h-1.1zM380.1 326.0h1.1v1.1h-1.1zM375.6 330.6h1.1v1.1h-1.1zM378.3 345.0h1.1v1.1h-1.1zM389.3 333.0h1.1v1.1h-1.1zM385.7 326.0h1.1v1.1h-1.1zM389.0 346.7h1.1v1.1h-1.1zM376.7 341.0h1.1v1.1h-1.1zM380.4 342.8h1.1v1.1h-1.1zM375.9 345.7h1.1v1.1h-1.1zM388.9 348.8h1.1v1.1h-1.1zM383.2 335.2h1.1v1.1h-1.1zM378.6 336.7h1.1v1.1h-1.1zM376.9 343.8h1.1v1.1h-1.1zM382.7 338.7h1.1v1.1h-1.1zM387.0 333.8h1.1v1.1h-1.1zM383.8 345.8h1.1v1.1h-1.1zM381.1 326.8h1.1v1.1h-1.1zM386.5 329.5h1.1v1.1h-1.1zM383.5 339.1h1.1v1.1h-1.1zM379.0 349.3h1.1v1.1h-1.1zM385.0 339.4h1.1v1.1h-1.1zM372.8 339.2h1.1v1.1h-1.1zM388.9 339.4h1.1v1.1h-1.1zM379.6 332.8h1.1v1.1h-1.1zM374.2 332.5h1.1v1.1h-1.1zM378.4 345.5h1.1v1.1h-1.1zM378.8 344.7h1.1v1.1h-1.1zM382.1 337.3h1.1v1.1h-1.1zM384.1 331.1h1.1v1.1h-1.1zM376.2 336.8h1.1v1.1h-1.1zM376.3 338.3h1.1v1.1h-1.1zM387.3 340.9h1.1v1.1h-1.1zM390.7 329.4h1.1v1.1h-1.1zM382.5 331.3h1.1v1.1h-1.1zM382.6 331.4h1.1v1.1h-1.1zM389.8 332.8h1.1v1.1h-1.1zM374.6 334.0h1.1v1.1h-1.1zM390.5 340.4h1.1v1.1h-1.1zM380.6 345.9h1.1v1.1h-1.1zM387.0 328.0h1.1v1.1h-1.1zM386.8 327.3h1.1v1.1h-1.1zM390.8 341.1h1.1v1.1h-1.1zM390.3 341.3h1.1v1.1h-1.1zM395.2 335.5h1.1v1.1h-1.1zM392.7 333.8h1.1v1.1h-1.1zM381.2 335.5h1.1v1.1h-1.1zM379.3 334.9h1.1v1.1h-1.1zM385.5 337.7h1.1v1.1h-1.1zM360.0 339.0h1.1v1.1h-1.1zM366.5 334.0h1.1v1.1h-1.1zM366.5 339.0h1.1v1.1h-1.1zM362.0 339.0h1.1v1.1h-1.1zM393.0 317.0h1.1v1.1h-1.1z" fill="#000"/>
<polygon points="425.2,350.5 425.2,329.0 430.0,325.0 436.0,320.0 443.0,314.0 448.0,312.0 453.0,313.0 457.0,317.0 456.0,322.0 452.0,327.0 449.0,335.0 446.0,343.0 443.0,350.5" fill="#000" stroke="#000" stroke-width="0.8" stroke-linejoin="round"/>
<path d="M445.7 348.1h1.1v1.1h-1.1zM437.5 317.2h1.1v1.1h-1.1zM452.6 336.5h1.1v1.1h-1.1zM457.6 320.3h1.1v1.1h-1.1zM428.8 321.8h1.1v1.1h-1.1zM455.7 313.1h1.1v1.1h-1.1zM447.0 346.0h1.1v1.1h-1.1zM442.1 313.0h1.1v1.1h-1.1zM456.4 320.1h1.1v1.1h-1.1zM448.3 311.1h1.1v1.1h-1.1zM427.5 324.9h1.1v1.1h-1.1zM450.0 312.4h1.1v1.1h-1.1zM453.9 325.9h1.1v1.1h-1.1zM425.5 326.0h1.1v1.1h-1.1zM452.2 312.7h1.1v1.1h-1.1zM456.9 322.2h1.1v1.1h-1.1zM434.9 316.7h1.1v1.1h-1.1zM457.9 316.7h1.1v1.1h-1.1zM452.8 328.0h1.1v1.1h-1.1zM440.8 315.4h1.1v1.1h-1.1zM445.7 347.4h1.1v1.1h-1.1zM446.9 340.8h1.1v1.1h-1.1zM452.9 311.6h1.1v1.1h-1.1zM434.8 319.2h1.1v1.1h-1.1zM449.6 311.3h1.1v1.1h-1.1zM455.3 326.3h1.1v1.1h-1.1zM457.8 319.5h1.1v1.1h-1.1zM446.3 345.0h1.1v1.1h-1.1zM456.6 320.4h1.1v1.1h-1.1zM445.7 344.3h1.1v1.1h-1.1zM446.7 345.1h1.1v1.1h-1.1zM431.8 322.3h1.1v1.1h-1.1zM450.9 335.1h1.1v1.1h-1.1zM452.6 328.9h1.1v1.1h-1.1zM455.6 329.5h1.1v1.1h-1.1zM434.8 317.7h1.1v1.1h-1.1zM449.5 334.2h1.1v1.1h-1.1zM448.8 338.1h1.1v1.1h-1.1zM438.9 317.4h1.1v1.1h-1.1zM450.3 338.2h1.1v1.1h-1.1zM451.6 312.2h1.1v1.1h-1.1zM450.2 310.9h1.1v1.1h-1.1zM426.9 326.4h1.1v1.1h-1.1zM426.8 324.4h1.1v1.1h-1.1zM441.2 313.2h1.1v1.1h-1.1zM458.6 312.9h1.1v1.1h-1.1zM457.3 319.0h1.1v1.1h-1.1zM455.6 327.4h1.1v1.1h-1.1zM459.7 314.7h1.1v1.1h-1.1zM445.5 347.8h1.1v1.1h-1.1zM429.9 324.4h1.1v1.1h-1.1zM427.8 324.9h1.1v1.1h-1.1zM456.0 330.4h1.1v1.1h-1.1zM458.7 314.0h1.1v1.1h-1.1zM448.0 346.6h1.1v1.1h-1.1zM456.5 314.0h1.1v1.1h-1.1zM441.0 313.7h1.1v1.1h-1.1zM447.7 310.4h1.1v1.1h-1.1zM437.9 313.8h1.1v1.1h-1.1zM442.6 313.1h1.1v1.1h-1.1zM458.6 317.2h1.1v1.1h-1.1zM439.1 317.1h1.1v1.1h-1.1zM426.4 322.0h1.1v1.1h-1.1zM430.9 320.0h1.1v1.1h-1.1zM456.7 320.5h1.1v1.1h-1.1zM446.1 310.9h1.1v1.1h-1.1zM449.8 335.3h1.1v1.1h-1.1zM453.0 335.9h1.1v1.1h-1.1zM457.4 320.7h1.1v1.1h-1.1zM451.3 312.5h1.1v1.1h-1.1zM439.2 316.4h1.1v1.1h-1.1zM433.3 318.6h1.1v1.1h-1.1zM445.3 312.8h1.1v1.1h-1.1zM446.4 311.5h1.1v1.1h-1.1zM450.0 334.6h1.1v1.1h-1.1zM454.0 330.4h1.1v1.1h-1.1zM451.3 332.5h1.1v1.1h-1.1zM458.9 314.8h1.1v1.1h-1.1zM452.5 329.7h1.1v1.1h-1.1zM451.7 312.5h1.1v1.1h-1.1zM446.3 311.7h1.1v1.1h-1.1zM451.7 330.0h1.1v1.1h-1.1zM447.3 341.9h1.1v1.1h-1.1zM427.9 323.2h1.1v1.1h-1.1zM444.8 311.3h1.1v1.1h-1.1zM428.5 323.1h1.1v1.1h-1.1zM453.7 326.9h1.1v1.1h-1.1zM444.5 313.2h1.1v1.1h-1.1zM437.5 317.8h1.1v1.1h-1.1zM445.5 312.6h1.1v1.1h-1.1zM454.9 312.4h1.1v1.1h-1.1zM453.1 334.2h1.1v1.1h-1.1zM455.3 314.7h1.1v1.1h-1.1zM454.4 324.3h1.1v1.1h-1.1zM450.7 335.4h1.1v1.1h-1.1zM454.1 325.7h1.1v1.1h-1.1zM430.7 323.1h1.1v1.1h-1.1zM452.4 311.9h1.1v1.1h-1.1zM437.1 314.1h1.1v1.1h-1.1zM446.7 344.5h1.1v1.1h-1.1zM451.3 337.9h1.1v1.1h-1.1zM457.2 319.9h1.1v1.1h-1.1zM454.3 326.1h1.1v1.1h-1.1zM459.6 321.6h1.1v1.1h-1.1zM452.6 309.8h1.1v1.1h-1.1zM459.2 316.5h1.1v1.1h-1.1zM425.8 328.4h1.1v1.1h-1.1zM453.8 329.9h1.1v1.1h-1.1zM446.3 345.5h1.1v1.1h-1.1zM445.4 347.7h1.1v1.1h-1.1zM447.9 347.6h1.1v1.1h-1.1zM456.9 318.8h1.1v1.1h-1.1zM450.4 344.0h1.1v1.1h-1.1zM454.2 327.6h1.1v1.1h-1.1zM452.3 311.4h1.1v1.1h-1.1zM439.9 314.8h1.1v1.1h-1.1zM452.8 311.3h1.1v1.1h-1.1zM446.0 311.4h1.1v1.1h-1.1zM449.9 334.4h1.1v1.1h-1.1zM451.8 333.6h1.1v1.1h-1.1zM457.5 316.6h1.1v1.1h-1.1zM430.8 321.3h1.1v1.1h-1.1zM455.4 324.6h1.1v1.1h-1.1zM450.2 335.3h1.1v1.1h-1.1zM456.8 316.2h1.1v1.1h-1.1zM451.7 310.2h1.1v1.1h-1.1zM451.5 339.4h1.1v1.1h-1.1zM446.5 349.1h1.1v1.1h-1.1zM436.7 318.5h1.1v1.1h-1.1zM444.5 313.3h1.1v1.1h-1.1zM431.2 323.7h1.1v1.1h-1.1zM453.5 325.6h1.1v1.1h-1.1zM458.0 320.3h1.1v1.1h-1.1zM450.6 346.6h1.1v1.1h-1.1zM451.8 311.9h1.1v1.1h-1.1zM432.4 320.1h1.1v1.1h-1.1zM433.1 320.1h1.1v1.1h-1.1zM449.6 308.6h1.1v1.1h-1.1zM457.9 319.0h1.1v1.1h-1.1zM454.9 324.5h1.1v1.1h-1.1zM454.4 313.6h1.1v1.1h-1.1zM446.4 345.3h1.1v1.1h-1.1zM458.3 322.6h1.1v1.1h-1.1zM436.7 317.0h1.1v1.1h-1.1zM456.1 314.6h1.1v1.1h-1.1zM458.0 314.8h1.1v1.1h-1.1zM450.5 333.1h1.1v1.1h-1.1zM444.4 348.2h1.1v1.1h-1.1zM439.9 314.9h1.1v1.1h-1.1zM429.0 324.8h1.1v1.1h-1.1zM449.2 310.4h1.1v1.1h-1.1zM425.9 326.7h1.1v1.1h-1.1zM456.2 322.9h1.1v1.1h-1.1zM443.0 312.2h1.1v1.1h-1.1zM438.6 317.3h1.1v1.1h-1.1zM433.9 321.0h1.1v1.1h-1.1zM447.9 343.0h1.1v1.1h-1.1zM452.9 310.1h1.1v1.1h-1.1zM439.1 312.7h1.1v1.1h-1.1zM437.5 316.5h1.1v1.1h-1.1zM458.8 315.5h1.1v1.1h-1.1zM455.8 325.0h1.1v1.1h-1.1zM450.2 337.2h1.1v1.1h-1.1zM430.5 320.6h1.1v1.1h-1.1zM439.8 315.2h1.1v1.1h-1.1zM454.9 324.9h1.1v1.1h-1.1zM445.2 346.9h1.1v1.1h-1.1zM453.6 328.5h1.1v1.1h-1.1zM428.0 325.3h1.1v1.1h-1.1zM451.1 330.9h1.1v1.1h-1.1zM455.6 327.7h1.1v1.1h-1.1zM449.0 339.4h1.1v1.1h-1.1zM457.6 317.4h1.1v1.1h-1.1zM458.5 317.6h1.1v1.1h-1.1zM448.0 347.0h1.1v1.1h-1.1zM439.2 313.9h1.1v1.1h-1.1zM445.0 348.3h1.1v1.1h-1.1zM430.9 324.1h1.1v1.1h-1.1zM449.0 336.9h1.1v1.1h-1.1zM460.3 321.2h1.1v1.1h-1.1zM427.4 326.2h1.1v1.1h-1.1zM454.0 310.7h1.1v1.1h-1.1zM451.7 330.5h1.1v1.1h-1.1zM455.3 326.3h1.1v1.1h-1.1zM450.9 338.9h1.1v1.1h-1.1zM447.9 342.1h1.1v1.1h-1.1zM456.2 324.5h1.1v1.1h-1.1zM453.2 327.6h1.1v1.1h-1.1zM429.0 320.8h1.1v1.1h-1.1zM449.0 342.1h1.1v1.1h-1.1zM451.9 327.7h1.1v1.1h-1.1zM454.7 324.2h1.1v1.1h-1.1zM457.6 315.8h1.1v1.1h-1.1zM451.3 333.4h1.1v1.1h-1.1zM434.8 319.6h1.1v1.1h-1.1zM449.3 345.4h1.1v1.1h-1.1zM446.3 308.9h1.1v1.1h-1.1zM452.5 310.9h1.1v1.1h-1.1zM447.2 344.8h1.1v1.1h-1.1zM455.1 311.0h1.1v1.1h-1.1zM430.4 322.8h1.1v1.1h-1.1zM437.3 318.5h1.1v1.1h-1.1zM452.7 329.8h1.1v1.1h-1.1zM439.7 315.7h1.1v1.1h-1.1zM447.0 312.0h1.1v1.1h-1.1zM432.0 323.0h1.1v1.1h-1.1zM431.1 322.2h1.1v1.1h-1.1zM444.1 312.1h1.1v1.1h-1.1zM443.5 349.3h1.1v1.1h-1.1zM454.0 325.3h1.1v1.1h-1.1zM444.4 348.3h1.1v1.1h-1.1zM441.5 309.5h1.1v1.1h-1.1zM426.4 326.9h1.1v1.1h-1.1zM452.7 331.3h1.1v1.1h-1.1zM453.0 327.2h1.1v1.1h-1.1zM455.5 309.9h1.1v1.1h-1.1zM457.8 314.3h1.1v1.1h-1.1zM447.0 345.2h1.1v1.1h-1.1zM457.9 322.1h1.1v1.1h-1.1zM432.2 318.9h1.1v1.1h-1.1zM455.7 330.1h1.1v1.1h-1.1zM442.0 312.9h1.1v1.1h-1.1zM432.9 322.0h1.1v1.1h-1.1zM448.6 337.9h1.1v1.1h-1.1zM460.1 320.7h1.1v1.1h-1.1zM450.6 310.6h1.1v1.1h-1.1zM449.2 335.0h1.1v1.1h-1.1zM452.2 339.6h1.1v1.1h-1.1zM454.1 312.1h1.1v1.1h-1.1zM436.8 318.1h1.1v1.1h-1.1zM450.3 344.8h1.1v1.1h-1.1zM448.0 345.4h1.1v1.1h-1.1zM442.3 312.5h1.1v1.1h-1.1zM428.4 322.4h1.1v1.1h-1.1zM442.0 314.3h1.1v1.1h-1.1zM450.5 333.9h1.1v1.1h-1.1zM446.7 310.3h1.1v1.1h-1.1zM430.9 322.3h1.1v1.1h-1.1zM432.0 320.2h1.1v1.1h-1.1zM430.0 324.7h1.1v1.1h-1.1zM427.9 325.8h1.1v1.1h-1.1zM458.4 319.6h1.1v1.1h-1.1zM426.4 327.7h1.1v1.1h-1.1zM428.8 322.9h1.1v1.1h-1.1zM444.0 313.0h1.1v1.1h-1.1zM433.4 322.1h1.1v1.1h-1.1zM438.8 310.0h1.1v1.1h-1.1zM443.1 310.9h1.1v1.1h-1.1zM454.6 324.6h1.1v1.1h-1.1zM429.0 324.3h1.1v1.1h-1.1zM448.0 342.7h1.1v1.1h-1.1zM456.2 329.1h1.1v1.1h-1.1zM444.3 310.4h1.1v1.1h-1.1zM457.0 316.8h1.1v1.1h-1.1zM442.3 313.5h1.1v1.1h-1.1zM457.6 324.0h1.1v1.1h-1.1zM430.5 320.5h1.1v1.1h-1.1zM431.3 321.0h1.1v1.1h-1.1zM426.1 324.4h1.1v1.1h-1.1zM439.1 312.9h1.1v1.1h-1.1zM441.1 300.8h1.1v1.1h-1.1zM433.7 303.7h1.1v1.1h-1.1zM431.9 309.0h1.1v1.1h-1.1zM430.2 313.6h1.1v1.1h-1.1zM443.5 302.1h1.1v1.1h-1.1zM437.0 303.6h1.1v1.1h-1.1zM442.9 302.8h1.1v1.1h-1.1zM442.3 310.1h1.1v1.1h-1.1zM435.4 304.7h1.1v1.1h-1.1zM429.2 308.9h1.1v1.1h-1.1zM437.0 306.5h1.1v1.1h-1.1zM444.6 315.8h1.1v1.1h-1.1zM431.7 307.5h1.1v1.1h-1.1zM435.0 320.4h1.1v1.1h-1.1zM435.7 306.1h1.1v1.1h-1.1zM438.4 304.4h1.1v1.1h-1.1z" fill="#000"/>
<polygon points="337.1,443.2 337.1,420.0 341.0,417.0 346.0,415.0 352.0,412.0 358.0,410.0 364.0,407.0 369.0,404.0 371.5,407.0 369.0,412.0 365.0,420.0 361.0,428.0 358.0,436.0 357.0,443.2" fill="#000" stroke="#000" stroke-width="0.8" stroke-linejoin="round"/>
<path d="M362.7 425.4h1.1v1.1h-1.1zM365.0 428.0h1.1v1.1h-1.1zM363.2 428.6h1.1v1.1h-1.1zM363.7 422.7h1.1v1.1h-1.1zM347.6 411.9h1.1v1.1h-1.1zM342.8 415.0h1.1v1.1h-1.1zM356.3 408.5h1.1v1.1h-1.1zM366.7 400.9h1.1v1.1h-1.1zM346.2 414.7h1.1v1.1h-1.1zM366.0 405.2h1.1v1.1h-1.1zM367.5 404.9h1.1v1.1h-1.1zM369.2 413.3h1.1v1.1h-1.1zM348.9 410.5h1.1v1.1h-1.1zM363.0 405.9h1.1v1.1h-1.1zM337.8 417.9h1.1v1.1h-1.1zM363.4 424.1h1.1v1.1h-1.1zM347.6 411.6h1.1v1.1h-1.1zM370.3 401.3h1.1v1.1h-1.1zM369.0 412.4h1.1v1.1h-1.1zM361.2 428.9h1.1v1.1h-1.1zM370.1 414.0h1.1v1.1h-1.1zM338.6 416.3h1.1v1.1h-1.1zM360.5 429.9h1.1v1.1h-1.1zM371.9 407.5h1.1v1.1h-1.1zM361.2 429.8h1.1v1.1h-1.1zM371.2 405.0h1.1v1.1h-1.1zM368.5 415.0h1.1v1.1h-1.1zM373.8 412.4h1.1v1.1h-1.1zM349.0 410.2h1.1v1.1h-1.1zM351.5 411.9h1.1v1.1h-1.1zM373.2 412.2h1.1v1.1h-1.1zM342.5 414.3h1.1v1.1h-1.1zM358.1 436.5h1.1v1.1h-1.1zM356.3 410.2h1.1v1.1h-1.1zM364.9 423.6h1.1v1.1h-1.1zM360.9 407.8h1.1v1.1h-1.1zM361.6 436.1h1.1v1.1h-1.1zM358.8 434.1h1.1v1.1h-1.1zM367.8 416.0h1.1v1.1h-1.1zM352.3 409.8h1.1v1.1h-1.1zM346.1 414.6h1.1v1.1h-1.1zM364.9 421.8h1.1v1.1h-1.1zM365.1 426.5h1.1v1.1h-1.1zM355.0 410.6h1.1v1.1h-1.1zM360.3 433.4h1.1v1.1h-1.1zM354.6 408.1h1.1v1.1h-1.1zM350.2 412.0h1.1v1.1h-1.1zM342.1 415.5h1.1v1.1h-1.1zM354.5 409.6h1.1v1.1h-1.1zM358.6 409.5h1.1v1.1h-1.1zM361.3 429.7h1.1v1.1h-1.1zM368.3 404.4h1.1v1.1h-1.1zM360.9 432.0h1.1v1.1h-1.1zM362.5 428.2h1.1v1.1h-1.1zM370.0 413.6h1.1v1.1h-1.1zM372.2 405.4h1.1v1.1h-1.1zM370.0 415.2h1.1v1.1h-1.1zM356.0 409.4h1.1v1.1h-1.1zM358.6 437.8h1.1v1.1h-1.1zM370.9 411.8h1.1v1.1h-1.1zM363.0 426.1h1.1v1.1h-1.1zM347.9 414.0h1.1v1.1h-1.1zM369.1 416.9h1.1v1.1h-1.1zM366.3 404.7h1.1v1.1h-1.1zM358.5 407.6h1.1v1.1h-1.1zM362.4 405.0h1.1v1.1h-1.1zM349.7 408.7h1.1v1.1h-1.1zM358.2 437.8h1.1v1.1h-1.1zM363.9 405.6h1.1v1.1h-1.1zM345.0 415.2h1.1v1.1h-1.1zM361.7 430.7h1.1v1.1h-1.1zM357.7 405.6h1.1v1.1h-1.1zM360.7 432.2h1.1v1.1h-1.1zM358.5 439.7h1.1v1.1h-1.1zM350.6 412.3h1.1v1.1h-1.1zM370.6 405.8h1.1v1.1h-1.1zM361.8 427.3h1.1v1.1h-1.1zM356.8 409.4h1.1v1.1h-1.1zM370.9 413.3h1.1v1.1h-1.1zM359.0 438.0h1.1v1.1h-1.1zM367.7 419.3h1.1v1.1h-1.1zM361.3 405.1h1.1v1.1h-1.1zM357.7 407.6h1.1v1.1h-1.1zM362.6 431.2h1.1v1.1h-1.1zM339.0 416.1h1.1v1.1h-1.1zM340.1 415.0h1.1v1.1h-1.1zM364.8 405.1h1.1v1.1h-1.1zM367.8 415.3h1.1v1.1h-1.1zM349.5 411.1h1.1v1.1h-1.1zM365.2 404.7h1.1v1.1h-1.1zM360.1 435.8h1.1v1.1h-1.1zM362.4 427.4h1.1v1.1h-1.1zM342.0 415.3h1.1v1.1h-1.1zM363.5 406.6h1.1v1.1h-1.1zM341.5 414.3h1.1v1.1h-1.1zM366.6 423.1h1.1v1.1h-1.1zM358.4 408.1h1.1v1.1h-1.1zM344.8 415.4h1.1v1.1h-1.1zM373.8 405.6h1.1v1.1h-1.1zM365.5 423.7h1.1v1.1h-1.1zM360.1 433.4h1.1v1.1h-1.1zM363.2 407.0h1.1v1.1h-1.1zM345.8 414.2h1.1v1.1h-1.1zM337.5 418.3h1.1v1.1h-1.1zM360.4 406.6h1.1v1.1h-1.1zM363.0 407.3h1.1v1.1h-1.1zM346.4 413.9h1.1v1.1h-1.1zM365.2 405.9h1.1v1.1h-1.1zM372.8 409.4h1.1v1.1h-1.1zM353.2 410.4h1.1v1.1h-1.1zM361.6 431.4h1.1v1.1h-1.1zM361.6 437.7h1.1v1.1h-1.1zM359.3 436.0h1.1v1.1h-1.1zM357.5 409.0h1.1v1.1h-1.1zM339.7 417.4h1.1v1.1h-1.1zM372.5 413.5h1.1v1.1h-1.1zM364.3 405.8h1.1v1.1h-1.1zM363.8 406.1h1.1v1.1h-1.1zM362.9 426.0h1.1v1.1h-1.1zM362.4 428.3h1.1v1.1h-1.1zM371.9 407.5h1.1v1.1h-1.1zM350.0 407.5h1.1v1.1h-1.1zM363.7 407.0h1.1v1.1h-1.1zM343.0 415.5h1.1v1.1h-1.1zM371.5 405.7h1.1v1.1h-1.1zM348.4 413.3h1.1v1.1h-1.1zM364.3 404.4h1.1v1.1h-1.1zM358.7 406.3h1.1v1.1h-1.1zM368.6 403.0h1.1v1.1h-1.1zM366.1 423.8h1.1v1.1h-1.1zM375.7 406.6h1.1v1.1h-1.1zM338.6 415.9h1.1v1.1h-1.1zM337.7 419.3h1.1v1.1h-1.1zM357.8 409.5h1.1v1.1h-1.1zM360.2 432.7h1.1v1.1h-1.1zM366.8 419.8h1.1v1.1h-1.1zM368.3 404.4h1.1v1.1h-1.1zM370.3 413.1h1.1v1.1h-1.1zM340.1 415.9h1.1v1.1h-1.1zM369.2 412.2h1.1v1.1h-1.1zM372.0 409.4h1.1v1.1h-1.1zM346.6 414.0h1.1v1.1h-1.1zM361.2 440.5h1.1v1.1h-1.1zM354.6 409.3h1.1v1.1h-1.1zM367.8 403.7h1.1v1.1h-1.1zM364.2 406.8h1.1v1.1h-1.1zM368.7 417.2h1.1v1.1h-1.1zM346.3 414.4h1.1v1.1h-1.1zM363.4 403.6h1.1v1.1h-1.1zM358.4 407.9h1.1v1.1h-1.1zM345.2 415.3h1.1v1.1h-1.1zM359.4 434.2h1.1v1.1h-1.1zM362.1 407.4h1.1v1.1h-1.1zM348.7 411.5h1.1v1.1h-1.1zM359.3 409.2h1.1v1.1h-1.1zM363.0 428.0h1.1v1.1h-1.1zM358.2 439.2h1.1v1.1h-1.1zM356.6 409.6h1.1v1.1h-1.1zM370.8 414.8h1.1v1.1h-1.1zM365.4 405.4h1.1v1.1h-1.1zM361.4 432.9h1.1v1.1h-1.1zM363.8 406.4h1.1v1.1h-1.1zM362.9 425.3h1.1v1.1h-1.1zM342.6 415.3h1.1v1.1h-1.1zM342.9 415.5h1.1v1.1h-1.1zM372.6 407.4h1.1v1.1h-1.1zM361.6 407.1h1.1v1.1h-1.1zM356.5 409.9h1.1v1.1h-1.1zM360.5 440.0h1.1v1.1h-1.1zM365.9 433.8h1.1v1.1h-1.1zM367.8 416.0h1.1v1.1h-1.1zM365.0 422.8h1.1v1.1h-1.1zM346.1 411.5h1.1v1.1h-1.1zM358.7 435.6h1.1v1.1h-1.1zM370.5 409.9h1.1v1.1h-1.1zM356.8 409.0h1.1v1.1h-1.1zM359.9 408.1h1.1v1.1h-1.1zM364.9 420.5h1.1v1.1h-1.1zM366.3 404.1h1.1v1.1h-1.1zM372.8 408.1h1.1v1.1h-1.1zM347.9 412.9h1.1v1.1h-1.1zM354.9 407.7h1.1v1.1h-1.1zM345.5 411.9h1.1v1.1h-1.1zM359.8 407.9h1.1v1.1h-1.1zM365.8 419.6h1.1v1.1h-1.1zM359.1 435.1h1.1v1.1h-1.1zM357.6 407.7h1.1v1.1h-1.1zM372.9 401.2h1.1v1.1h-1.1zM361.3 405.1h1.1v1.1h-1.1zM360.4 407.9h1.1v1.1h-1.1zM360.1 437.9h1.1v1.1h-1.1zM369.0 412.9h1.1v1.1h-1.1zM368.3 414.7h1.1v1.1h-1.1zM371.9 416.3h1.1v1.1h-1.1zM371.5 410.3h1.1v1.1h-1.1zM348.4 412.1h1.1v1.1h-1.1zM360.8 434.1h1.1v1.1h-1.1zM338.3 416.6h1.1v1.1h-1.1zM362.9 406.9h1.1v1.1h-1.1zM339.7 418.0h1.1v1.1h-1.1zM368.2 415.7h1.1v1.1h-1.1zM359.1 406.9h1.1v1.1h-1.1zM371.5 412.6h1.1v1.1h-1.1zM371.8 415.4h1.1v1.1h-1.1zM369.9 404.4h1.1v1.1h-1.1zM371.9 405.7h1.1v1.1h-1.1zM372.3 405.7h1.1v1.1h-1.1zM366.5 403.0h1.1v1.1h-1.1zM372.2 406.3h1.1v1.1h-1.1zM357.5 440.2h1.1v1.1h-1.1zM349.6 409.8h1.1v1.1h-1.1zM341.1 415.2h1.1v1.1h-1.1zM349.8 408.2h1.1v1.1h-1.1zM362.0 435.8h1.1v1.1h-1.1zM352.1 411.8h1.1v1.1h-1.1zM363.7 427.7h1.1v1.1h-1.1zM359.2 438.6h1.1v1.1h-1.1zM366.5 422.6h1.1v1.1h-1.1zM364.9 424.3h1.1v1.1h-1.1zM346.4 413.0h1.1v1.1h-1.1zM366.0 404.2h1.1v1.1h-1.1zM370.2 404.3h1.1v1.1h-1.1zM338.7 414.9h1.1v1.1h-1.1zM371.2 410.9h1.1v1.1h-1.1zM357.0 408.3h1.1v1.1h-1.1zM372.0 408.8h1.1v1.1h-1.1zM370.1 414.0h1.1v1.1h-1.1zM368.8 413.2h1.1v1.1h-1.1zM337.8 416.2h1.1v1.1h-1.1zM366.2 417.9h1.1v1.1h-1.1zM358.1 438.4h1.1v1.1h-1.1zM348.1 411.5h1.1v1.1h-1.1zM363.1 426.1h1.1v1.1h-1.1zM362.9 424.9h1.1v1.1h-1.1zM364.5 421.6h1.1v1.1h-1.1zM371.5 408.7h1.1v1.1h-1.1zM338.8 414.7h1.1v1.1h-1.1zM358.6 409.3h1.1v1.1h-1.1zM349.6 413.0h1.1v1.1h-1.1zM360.2 430.3h1.1v1.1h-1.1zM349.4 413.2h1.1v1.1h-1.1zM342.6 411.6h1.1v1.1h-1.1zM358.7 407.3h1.1v1.1h-1.1zM368.5 418.1h1.1v1.1h-1.1zM370.3 410.5h1.1v1.1h-1.1zM351.5 409.7h1.1v1.1h-1.1zM364.2 405.7h1.1v1.1h-1.1zM361.0 435.1h1.1v1.1h-1.1zM362.9 407.2h1.1v1.1h-1.1zM362.3 428.3h1.1v1.1h-1.1zM354.8 409.2h1.1v1.1h-1.1zM363.2 424.7h1.1v1.1h-1.1zM361.7 407.6h1.1v1.1h-1.1zM340.5 412.0h1.1v1.1h-1.1zM362.8 424.5h1.1v1.1h-1.1zM365.6 398.5h1.1v1.1h-1.1zM359.3 434.6h1.1v1.1h-1.1zM361.7 434.6h1.1v1.1h-1.1zM363.7 406.9h1.1v1.1h-1.1zM371.3 407.8h1.1v1.1h-1.1zM352.7 410.9h1.1v1.1h-1.1zM359.0 409.1h1.1v1.1h-1.1zM341.1 413.1h1.1v1.1h-1.1zM362.5 404.7h1.1v1.1h-1.1zM340.7 416.1h1.1v1.1h-1.1zM364.5 425.6h1.1v1.1h-1.1zM363.3 407.1h1.1v1.1h-1.1zM365.0 406.2h1.1v1.1h-1.1zM357.3 441.2h1.1v1.1h-1.1zM349.1 410.4h1.1v1.1h-1.1zM342.1 413.7h1.1v1.1h-1.1zM364.4 423.1h1.1v1.1h-1.1zM359.6 433.3h1.1v1.1h-1.1zM348.3 410.4h1.1v1.1h-1.1zM371.0 414.1h1.1v1.1h-1.1zM362.1 425.8h1.1v1.1h-1.1zM357.1 409.0h1.1v1.1h-1.1zM346.9 412.4h1.1v1.1h-1.1zM345.2 411.3h1.1v1.1h-1.1zM363.6 427.6h1.1v1.1h-1.1zM386.2 432.1h1.1v1.1h-1.1zM380.8 430.2h1.1v1.1h-1.1zM387.1 430.1h1.1v1.1h-1.1zM389.7 426.5h1.1v1.1h-1.1zM389.7 425.1h1.1v1.1h-1.1zM383.6 440.2h1.1v1.1h-1.1zM393.3 429.5h1.1v1.1h-1.1zM382.9 438.3h1.1v1.1h-1.1zM391.4 431.5h1.1v1.1h-1.1zM384.0 439.7h1.1v1.1h-1.1zM381.9 426.5h1.1v1.1h-1.1zM385.0 442.6h1.1v1.1h-1.1zM381.1 432.6h1.1v1.1h-1.1zM393.0 432.9h1.1v1.1h-1.1zM385.3 422.9h1.1v1.1h-1.1zM380.6 432.4h1.1v1.1h-1.1zM390.8 428.2h1.1v1.1h-1.1zM383.3 425.0h1.1v1.1h-1.1zM389.0 438.7h1.1v1.1h-1.1zM388.3 428.5h1.1v1.1h-1.1zM384.2 439.2h1.1v1.1h-1.1zM382.8 431.4h1.1v1.1h-1.1zM381.4 434.5h1.1v1.1h-1.1zM389.7 433.3h1.1v1.1h-1.1zM388.4 441.5h1.1v1.1h-1.1zM384.3 426.2h1.1v1.1h-1.1zM393.2 432.4h1.1v1.1h-1.1zM387.5 425.7h1.1v1.1h-1.1zM394.6 432.1h1.1v1.1h-1.1zM389.7 439.9h1.1v1.1h-1.1zM385.4 421.9h1.1v1.1h-1.1zM386.9 425.2h1.1v1.1h-1.1zM386.5 434.2h1.1v1.1h-1.1zM384.4 425.3h1.1v1.1h-1.1zM388.2 435.5h1.1v1.1h-1.1zM387.4 436.5h1.1v1.1h-1.1zM384.5 440.3h1.1v1.1h-1.1zM384.6 432.6h1.1v1.1h-1.1zM390.3 434.0h1.1v1.1h-1.1zM390.0 428.0h1.1v1.1h-1.1zM384.3 423.5h1.1v1.1h-1.1zM393.7 432.6h1.1v1.1h-1.1zM384.9 442.3h1.1v1.1h-1.1zM389.2 421.9h1.1v1.1h-1.1zM393.5 427.2h1.1v1.1h-1.1zM383.0 427.5h1.1v1.1h-1.1zM381.9 435.7h1.1v1.1h-1.1zM383.6 429.0h1.1v1.1h-1.1zM388.8 436.0h1.1v1.1h-1.1zM386.0 425.4h1.1v1.1h-1.1zM380.8 432.4h1.1v1.1h-1.1zM383.3 440.9h1.1v1.1h-1.1zM386.3 437.6h1.1v1.1h-1.1zM386.3 442.1h1.1v1.1h-1.1zM392.8 434.9h1.1v1.1h-1.1zM392.4 438.8h1.1v1.1h-1.1zM381.4 428.4h1.1v1.1h-1.1zM390.1 429.1h1.1v1.1h-1.1zM385.7 434.4h1.1v1.1h-1.1zM389.0 440.4h1.1v1.1h-1.1zM389.7 436.5h1.1v1.1h-1.1zM386.0 426.4h1.1v1.1h-1.1zM390.7 429.3h1.1v1.1h-1.1zM386.2 435.7h1.1v1.1h-1.1zM387.4 432.2h1.1v1.1h-1.1zM389.7 426.5h1.1v1.1h-1.1zM384.9 441.5h1.1v1.1h-1.1zM385.2 432.4h1.1v1.1h-1.1zM388.7 431.6h1.1v1.1h-1.1zM381.8 431.7h1.1v1.1h-1.1zM386.7 440.5h1.1v1.1h-1.1zM391.5 438.5h1.1v1.1h-1.1zM387.6 427.9h1.1v1.1h-1.1zM390.2 432.9h1.1v1.1h-1.1zM387.3 432.7h1.1v1.1h-1.1zM393.2 427.4h1.1v1.1h-1.1zM380.3 435.4h1.1v1.1h-1.1zM387.7 421.3h1.1v1.1h-1.1zM391.3 427.0h1.1v1.1h-1.1zM384.5 430.5h1.1v1.1h-1.1zM387.0 433.6h1.1v1.1h-1.1zM385.6 428.6h1.1v1.1h-1.1zM385.2 429.0h1.1v1.1h-1.1zM385.6 428.0h1.1v1.1h-1.1zM391.7 439.4h1.1v1.1h-1.1zM392.7 437.9h1.1v1.1h-1.1zM386.8 423.5h1.1v1.1h-1.1zM384.4 434.6h1.1v1.1h-1.1zM383.3 433.0h1.1v1.1h-1.1zM388.9 430.7h1.1v1.1h-1.1zM387.2 425.7h1.1v1.1h-1.1zM388.9 431.8h1.1v1.1h-1.1zM381.9 438.4h1.1v1.1h-1.1zM384.0 427.6h1.1v1.1h-1.1zM387.3 424.3h1.1v1.1h-1.1zM390.3 433.0h1.1v1.1h-1.1zM379.5 431.0h1.1v1.1h-1.1zM390.6 424.9h1.1v1.1h-1.1zM381.1 437.9h1.1v1.1h-1.1zM383.6 432.1h1.1v1.1h-1.1zM391.5 423.2h1.1v1.1h-1.1zM385.0 438.0h1.1v1.1h-1.1zM380.3 434.4h1.1v1.1h-1.1zM385.2 435.3h1.1v1.1h-1.1zM383.7 436.1h1.1v1.1h-1.1zM385.8 433.8h1.1v1.1h-1.1zM391.6 436.2h1.1v1.1h-1.1zM391.5 428.8h1.1v1.1h-1.1zM383.9 428.9h1.1v1.1h-1.1zM391.7 431.9h1.1v1.1h-1.1zM387.4 426.9h1.1v1.1h-1.1zM389.3 431.3h1.1v1.1h-1.1zM383.8 434.6h1.1v1.1h-1.1zM386.4 424.5h1.1v1.1h-1.1zM380.6 438.3h1.1v1.1h-1.1zM374.8 431.9h1.1v1.1h-1.1zM382.6 423.2h1.1v1.1h-1.1zM390.4 434.2h1.1v1.1h-1.1zM398.7 442.6h1.1v1.1h-1.1zM390.1 431.2h1.1v1.1h-1.1zM392.8 429.2h1.1v1.1h-1.1zM385.4 418.3h1.1v1.1h-1.1zM381.5 434.6h1.1v1.1h-1.1zM380.3 424.3h1.1v1.1h-1.1zM388.2 439.7h1.1v1.1h-1.1zM399.2 430.9h1.1v1.1h-1.1zM388.6 433.1h1.1v1.1h-1.1zM386.7 433.2h1.1v1.1h-1.1zM389.4 437.0h1.1v1.1h-1.1zM385.4 433.1h1.1v1.1h-1.1zM380.8 436.6h1.1v1.1h-1.1zM392.0 439.3h1.1v1.1h-1.1zM393.3 421.8h1.1v1.1h-1.1zM374.5 419.0h1.1v1.1h-1.1zM384.7 426.9h1.1v1.1h-1.1zM387.2 430.7h1.1v1.1h-1.1zM383.3 435.1h1.1v1.1h-1.1zM395.9 437.2h1.1v1.1h-1.1zM395.6 436.4h1.1v1.1h-1.1zM391.6 427.1h1.1v1.1h-1.1zM384.0 438.2h1.1v1.1h-1.1zM377.5 439.5h1.1v1.1h-1.1zM393.1 426.5h1.1v1.1h-1.1zM374.7 424.3h1.1v1.1h-1.1zM381.1 430.6h1.1v1.1h-1.1zM383.7 422.1h1.1v1.1h-1.1zM383.4 432.1h1.1v1.1h-1.1zM378.0 434.7h1.1v1.1h-1.1zM389.1 442.2h1.1v1.1h-1.1zM394.2 423.6h1.1v1.1h-1.1zM391.5 433.7h1.1v1.1h-1.1zM390.1 427.9h1.1v1.1h-1.1zM393.6 426.9h1.1v1.1h-1.1zM379.7 424.0h1.1v1.1h-1.1zM381.4 428.4h1.1v1.1h-1.1zM398.4 432.5h1.1v1.1h-1.1zM384.6 431.2h1.1v1.1h-1.1zM387.4 423.5h1.1v1.1h-1.1zM380.4 429.6h1.1v1.1h-1.1zM385.2 423.5h1.1v1.1h-1.1zM399.4 441.7h1.1v1.1h-1.1zM392.5 419.0h1.1v1.1h-1.1zM394.3 426.8h1.1v1.1h-1.1zM394.5 418.3h1.1v1.1h-1.1zM390.9 424.2h1.1v1.1h-1.1zM386.3 435.1h1.1v1.1h-1.1zM377.9 424.8h1.1v1.1h-1.1zM391.8 424.1h1.1v1.1h-1.1zM397.9 425.0h1.1v1.1h-1.1zM386.5 436.5h1.1v1.1h-1.1zM382.7 437.5h1.1v1.1h-1.1zM380.5 438.1h1.1v1.1h-1.1zM375.1 419.3h1.1v1.1h-1.1zM376.8 437.6h1.1v1.1h-1.1zM395.2 437.7h1.1v1.1h-1.1zM395.1 438.8h1.1v1.1h-1.1zM397.2 431.0h1.1v1.1h-1.1zM383.1 438.3h1.1v1.1h-1.1zM384.9 433.7h1.1v1.1h-1.1zM390.6 427.6h1.1v1.1h-1.1zM379.7 442.9h1.1v1.1h-1.1zM392.0 440.8h1.1v1.1h-1.1zM375.8 426.9h1.1v1.1h-1.1zM379.5 442.7h1.1v1.1h-1.1zM384.8 440.2h1.1v1.1h-1.1zM383.4 428.8h1.1v1.1h-1.1zM394.9 434.8h1.1v1.1h-1.1zM377.3 421.3h1.1v1.1h-1.1zM391.7 442.7h1.1v1.1h-1.1zM395.6 434.4h1.1v1.1h-1.1zM395.7 437.1h1.1v1.1h-1.1zM376.4 437.1h1.1v1.1h-1.1zM379.5 425.2h1.1v1.1h-1.1zM397.1 424.7h1.1v1.1h-1.1zM390.8 437.3h1.1v1.1h-1.1zM379.5 420.6h1.1v1.1h-1.1zM375.6 419.8h1.1v1.1h-1.1zM396.6 419.8h1.1v1.1h-1.1zM391.5 429.7h1.1v1.1h-1.1zM398.5 420.8h1.1v1.1h-1.1zM399.6 422.5h1.1v1.1h-1.1zM387.2 433.2h1.1v1.1h-1.1zM389.7 435.3h1.1v1.1h-1.1zM381.5 440.5h1.1v1.1h-1.1zM377.0 424.8h1.1v1.1h-1.1zM385.7 433.9h1.1v1.1h-1.1zM382.3 427.5h1.1v1.1h-1.1zM391.7 423.5h1.1v1.1h-1.1zM375.7 431.0h1.1v1.1h-1.1zM388.5 431.7h1.1v1.1h-1.1zM374.7 436.2h1.1v1.1h-1.1zM394.9 430.0h1.1v1.1h-1.1zM380.8 416.8h1.1v1.1h-1.1zM387.2 409.8h1.1v1.1h-1.1zM378.9 395.9h1.1v1.1h-1.1zM377.6 400.6h1.1v1.1h-1.1zM377.0 406.8h1.1v1.1h-1.1zM384.6 406.3h1.1v1.1h-1.1zM378.7 411.7h1.1v1.1h-1.1zM386.3 396.8h1.1v1.1h-1.1zM375.7 405.0h1.1v1.1h-1.1zM374.9 416.1h1.1v1.1h-1.1zM380.4 406.0h1.1v1.1h-1.1zM377.5 412.4h1.1v1.1h-1.1zM396.9 400.6h1.1v1.1h-1.1zM381.7 416.9h1.1v1.1h-1.1zM393.3 412.3h1.1v1.1h-1.1zM374.3 403.3h1.1v1.1h-1.1zM351.5 399.0h1.1v1.1h-1.1zM362.8 402.1h1.1v1.1h-1.1zM358.7 399.8h1.1v1.1h-1.1zM352.6 401.5h1.1v1.1h-1.1zM348.9 400.1h1.1v1.1h-1.1z" fill="#000"/>
<polygon points="424.3,443.2 424.3,419.0 428.0,416.0 433.0,413.0 440.0,410.5 447.0,408.0 452.0,406.0 456.0,407.0 457.0,411.0 453.0,416.0 450.0,422.0 447.0,430.0 445.0,437.0 443.0,443.2" fill="#000" stroke="#000" stroke-width="0.8" stroke-linejoin="round"/>
<path d="M450.9 421.9h1.1v1.1h-1.1zM457.7 408.7h1.1v1.1h-1.1zM444.6 406.5h1.1v1.1h-1.1zM425.5 415.6h1.1v1.1h-1.1zM436.0 411.3h1.1v1.1h-1.1zM441.5 405.6h1.1v1.1h-1.1zM440.3 409.7h1.1v1.1h-1.1zM437.1 410.8h1.1v1.1h-1.1zM441.3 405.9h1.1v1.1h-1.1zM451.3 419.8h1.1v1.1h-1.1zM443.8 441.2h1.1v1.1h-1.1zM446.6 432.4h1.1v1.1h-1.1zM451.4 405.7h1.1v1.1h-1.1zM425.4 415.7h1.1v1.1h-1.1zM444.6 407.5h1.1v1.1h-1.1zM456.6 412.1h1.1v1.1h-1.1zM439.6 408.7h1.1v1.1h-1.1zM429.7 413.4h1.1v1.1h-1.1zM456.7 413.1h1.1v1.1h-1.1zM450.0 423.2h1.1v1.1h-1.1zM446.8 403.8h1.1v1.1h-1.1zM447.1 431.4h1.1v1.1h-1.1zM453.8 423.1h1.1v1.1h-1.1zM450.0 434.5h1.1v1.1h-1.1zM451.1 435.1h1.1v1.1h-1.1zM459.3 408.7h1.1v1.1h-1.1zM455.0 405.1h1.1v1.1h-1.1zM452.3 402.8h1.1v1.1h-1.1zM432.7 411.1h1.1v1.1h-1.1zM432.9 409.9h1.1v1.1h-1.1zM452.8 419.1h1.1v1.1h-1.1zM434.8 411.6h1.1v1.1h-1.1zM430.6 412.6h1.1v1.1h-1.1zM451.1 421.4h1.1v1.1h-1.1zM452.2 418.9h1.1v1.1h-1.1zM449.6 425.9h1.1v1.1h-1.1zM453.4 417.3h1.1v1.1h-1.1zM432.9 409.0h1.1v1.1h-1.1zM435.1 408.1h1.1v1.1h-1.1zM452.0 405.1h1.1v1.1h-1.1zM425.5 414.6h1.1v1.1h-1.1zM458.0 414.0h1.1v1.1h-1.1zM445.2 438.6h1.1v1.1h-1.1zM451.2 423.8h1.1v1.1h-1.1zM453.7 417.5h1.1v1.1h-1.1zM447.7 433.8h1.1v1.1h-1.1zM450.1 426.6h1.1v1.1h-1.1zM456.5 407.7h1.1v1.1h-1.1zM459.8 410.9h1.1v1.1h-1.1zM445.1 441.3h1.1v1.1h-1.1zM451.0 403.3h1.1v1.1h-1.1zM452.6 420.8h1.1v1.1h-1.1zM446.8 430.8h1.1v1.1h-1.1zM456.7 413.5h1.1v1.1h-1.1zM438.3 410.1h1.1v1.1h-1.1zM429.0 413.3h1.1v1.1h-1.1zM453.4 405.2h1.1v1.1h-1.1zM450.6 424.1h1.1v1.1h-1.1zM450.8 405.6h1.1v1.1h-1.1zM436.4 409.9h1.1v1.1h-1.1zM441.0 408.6h1.1v1.1h-1.1zM446.6 436.3h1.1v1.1h-1.1zM456.4 415.5h1.1v1.1h-1.1zM461.0 410.7h1.1v1.1h-1.1zM458.7 418.1h1.1v1.1h-1.1zM450.1 423.5h1.1v1.1h-1.1zM431.0 413.3h1.1v1.1h-1.1zM447.2 434.5h1.1v1.1h-1.1zM429.2 414.4h1.1v1.1h-1.1zM438.2 410.7h1.1v1.1h-1.1zM430.7 410.0h1.1v1.1h-1.1zM444.8 440.4h1.1v1.1h-1.1zM433.3 412.6h1.1v1.1h-1.1zM440.4 405.7h1.1v1.1h-1.1zM444.3 441.1h1.1v1.1h-1.1zM443.4 406.9h1.1v1.1h-1.1zM451.3 431.5h1.1v1.1h-1.1zM431.1 414.1h1.1v1.1h-1.1zM449.0 428.2h1.1v1.1h-1.1zM456.9 412.3h1.1v1.1h-1.1zM437.0 410.1h1.1v1.1h-1.1zM442.8 408.8h1.1v1.1h-1.1zM452.4 424.2h1.1v1.1h-1.1zM435.0 410.6h1.1v1.1h-1.1zM451.9 418.9h1.1v1.1h-1.1zM441.8 409.1h1.1v1.1h-1.1zM455.9 403.7h1.1v1.1h-1.1zM426.0 413.7h1.1v1.1h-1.1zM444.8 438.2h1.1v1.1h-1.1zM455.8 412.7h1.1v1.1h-1.1zM446.2 435.8h1.1v1.1h-1.1zM448.0 429.2h1.1v1.1h-1.1zM450.3 429.0h1.1v1.1h-1.1zM448.0 404.0h1.1v1.1h-1.1zM431.1 413.0h1.1v1.1h-1.1zM450.9 427.3h1.1v1.1h-1.1zM450.6 424.6h1.1v1.1h-1.1zM449.6 423.1h1.1v1.1h-1.1zM449.5 426.2h1.1v1.1h-1.1zM454.0 423.0h1.1v1.1h-1.1zM427.2 414.4h1.1v1.1h-1.1zM446.7 432.3h1.1v1.1h-1.1zM446.9 434.1h1.1v1.1h-1.1zM432.9 412.2h1.1v1.1h-1.1zM436.7 411.1h1.1v1.1h-1.1zM443.0 409.1h1.1v1.1h-1.1zM448.9 427.5h1.1v1.1h-1.1zM447.7 429.6h1.1v1.1h-1.1zM425.3 416.1h1.1v1.1h-1.1zM444.1 405.4h1.1v1.1h-1.1zM446.0 433.7h1.1v1.1h-1.1zM435.2 408.4h1.1v1.1h-1.1zM449.1 405.8h1.1v1.1h-1.1zM457.5 414.6h1.1v1.1h-1.1zM431.4 413.0h1.1v1.1h-1.1zM457.1 411.2h1.1v1.1h-1.1zM457.4 410.1h1.1v1.1h-1.1zM453.3 416.2h1.1v1.1h-1.1zM453.1 404.1h1.1v1.1h-1.1zM458.5 412.7h1.1v1.1h-1.1zM425.0 418.4h1.1v1.1h-1.1zM448.4 429.6h1.1v1.1h-1.1zM458.0 403.6h1.1v1.1h-1.1zM438.8 409.3h1.1v1.1h-1.1zM446.5 436.1h1.1v1.1h-1.1zM443.7 441.4h1.1v1.1h-1.1zM449.1 406.4h1.1v1.1h-1.1zM454.0 415.9h1.1v1.1h-1.1zM428.4 413.0h1.1v1.1h-1.1zM448.8 403.5h1.1v1.1h-1.1zM429.6 415.0h1.1v1.1h-1.1zM448.7 430.3h1.1v1.1h-1.1zM454.7 405.1h1.1v1.1h-1.1zM432.4 412.8h1.1v1.1h-1.1zM435.2 412.1h1.1v1.1h-1.1zM426.7 417.0h1.1v1.1h-1.1zM457.5 411.1h1.1v1.1h-1.1zM448.8 431.3h1.1v1.1h-1.1zM457.9 403.9h1.1v1.1h-1.1zM457.0 414.9h1.1v1.1h-1.1zM449.4 426.3h1.1v1.1h-1.1zM450.9 421.7h1.1v1.1h-1.1zM456.4 408.4h1.1v1.1h-1.1zM449.5 406.7h1.1v1.1h-1.1zM445.3 437.4h1.1v1.1h-1.1zM449.5 426.0h1.1v1.1h-1.1zM451.2 405.1h1.1v1.1h-1.1zM448.9 429.0h1.1v1.1h-1.1zM445.0 438.6h1.1v1.1h-1.1zM429.6 411.1h1.1v1.1h-1.1zM447.7 429.1h1.1v1.1h-1.1zM451.2 431.8h1.1v1.1h-1.1zM425.6 415.8h1.1v1.1h-1.1zM439.9 408.0h1.1v1.1h-1.1zM449.9 430.5h1.1v1.1h-1.1zM449.2 434.3h1.1v1.1h-1.1zM446.2 440.2h1.1v1.1h-1.1zM435.4 411.0h1.1v1.1h-1.1zM456.2 412.5h1.1v1.1h-1.1zM425.6 417.7h1.1v1.1h-1.1zM455.1 405.4h1.1v1.1h-1.1zM447.8 407.3h1.1v1.1h-1.1zM448.7 434.3h1.1v1.1h-1.1zM432.4 413.3h1.1v1.1h-1.1zM442.4 408.4h1.1v1.1h-1.1zM445.7 408.5h1.1v1.1h-1.1zM457.9 412.6h1.1v1.1h-1.1zM457.6 410.0h1.1v1.1h-1.1zM450.9 403.1h1.1v1.1h-1.1zM447.6 430.6h1.1v1.1h-1.1zM449.0 441.3h1.1v1.1h-1.1zM447.7 429.2h1.1v1.1h-1.1zM449.6 423.7h1.1v1.1h-1.1zM455.1 404.6h1.1v1.1h-1.1zM424.8 415.7h1.1v1.1h-1.1zM458.1 411.3h1.1v1.1h-1.1zM435.3 411.9h1.1v1.1h-1.1zM447.9 438.9h1.1v1.1h-1.1zM450.7 435.1h1.1v1.1h-1.1zM445.4 406.2h1.1v1.1h-1.1zM436.0 404.6h1.1v1.1h-1.1zM447.8 405.4h1.1v1.1h-1.1zM449.6 429.8h1.1v1.1h-1.1zM436.8 409.7h1.1v1.1h-1.1zM444.6 438.6h1.1v1.1h-1.1zM449.1 425.7h1.1v1.1h-1.1zM437.7 411.0h1.1v1.1h-1.1zM445.8 436.0h1.1v1.1h-1.1zM440.5 408.5h1.1v1.1h-1.1zM456.1 412.3h1.1v1.1h-1.1zM445.1 437.9h1.1v1.1h-1.1zM451.9 425.6h1.1v1.1h-1.1zM444.4 438.9h1.1v1.1h-1.1zM449.9 402.8h1.1v1.1h-1.1zM455.4 406.5h1.1v1.1h-1.1zM447.0 434.3h1.1v1.1h-1.1zM446.8 441.9h1.1v1.1h-1.1zM427.3 415.7h1.1v1.1h-1.1zM439.4 408.8h1.1v1.1h-1.1zM445.9 436.3h1.1v1.1h-1.1zM455.5 405.8h1.1v1.1h-1.1zM455.4 419.3h1.1v1.1h-1.1zM459.3 403.9h1.1v1.1h-1.1zM450.0 423.6h1.1v1.1h-1.1zM446.1 433.4h1.1v1.1h-1.1zM450.8 424.2h1.1v1.1h-1.1zM456.9 412.0h1.1v1.1h-1.1zM456.9 408.3h1.1v1.1h-1.1zM447.7 432.9h1.1v1.1h-1.1zM438.9 406.0h1.1v1.1h-1.1zM445.6 437.2h1.1v1.1h-1.1zM456.0 412.7h1.1v1.1h-1.1zM456.7 414.7h1.1v1.1h-1.1zM451.2 420.2h1.1v1.1h-1.1zM446.1 405.0h1.1v1.1h-1.1zM456.3 413.7h1.1v1.1h-1.1zM454.7 415.4h1.1v1.1h-1.1zM446.7 440.0h1.1v1.1h-1.1zM447.8 428.0h1.1v1.1h-1.1zM446.9 437.9h1.1v1.1h-1.1zM435.7 411.9h1.1v1.1h-1.1zM440.6 408.1h1.1v1.1h-1.1zM454.0 416.7h1.1v1.1h-1.1zM454.9 406.0h1.1v1.1h-1.1zM446.5 435.9h1.1v1.1h-1.1zM436.5 410.2h1.1v1.1h-1.1zM432.5 412.7h1.1v1.1h-1.1zM440.7 408.4h1.1v1.1h-1.1zM450.2 430.0h1.1v1.1h-1.1zM437.4 409.2h1.1v1.1h-1.1zM427.7 415.9h1.1v1.1h-1.1zM449.9 425.4h1.1v1.1h-1.1zM457.0 408.7h1.1v1.1h-1.1zM446.9 437.3h1.1v1.1h-1.1zM450.1 424.9h1.1v1.1h-1.1zM448.3 428.0h1.1v1.1h-1.1zM450.2 432.0h1.1v1.1h-1.1zM446.5 433.7h1.1v1.1h-1.1zM431.5 413.8h1.1v1.1h-1.1zM449.1 430.4h1.1v1.1h-1.1zM457.1 417.2h1.1v1.1h-1.1zM444.6 404.2h1.1v1.1h-1.1zM433.4 412.1h1.1v1.1h-1.1zM438.9 410.8h1.1v1.1h-1.1zM456.3 413.2h1.1v1.1h-1.1zM446.9 406.0h1.1v1.1h-1.1zM443.7 408.9h1.1v1.1h-1.1zM437.9 408.3h1.1v1.1h-1.1zM444.3 407.9h1.1v1.1h-1.1zM457.2 416.1h1.1v1.1h-1.1zM449.5 425.1h1.1v1.1h-1.1zM456.9 406.2h1.1v1.1h-1.1zM425.2 415.7h1.1v1.1h-1.1zM447.8 438.3h1.1v1.1h-1.1zM452.1 418.7h1.1v1.1h-1.1zM427.8 415.8h1.1v1.1h-1.1zM450.3 426.8h1.1v1.1h-1.1zM448.4 437.4h1.1v1.1h-1.1zM435.5 409.6h1.1v1.1h-1.1zM456.6 417.2h1.1v1.1h-1.1zM480.9 441.5h1.1v1.1h-1.1zM477.5 433.1h1.1v1.1h-1.1zM484.8 434.6h1.1v1.1h-1.1zM460.1 440.0h1.1v1.1h-1.1zM460.5 440.8h1.1v1.1h-1.1zM484.6 424.9h1.1v1.1h-1.1zM470.4 421.8h1.1v1.1h-1.1zM485.2 426.2h1.1v1.1h-1.1zM479.9 428.1h1.1v1.1h-1.1zM485.6 436.2h1.1v1.1h-1.1zM471.2 436.1h1.1v1.1h-1.1zM476.9 441.3h1.1v1.1h-1.1zM461.2 421.5h1.1v1.1h-1.1zM463.1 441.2h1.1v1.1h-1.1zM472.5 430.6h1.1v1.1h-1.1zM462.9 430.6h1.1v1.1h-1.1zM473.2 430.8h1.1v1.1h-1.1zM482.0 438.1h1.1v1.1h-1.1zM470.9 423.3h1.1v1.1h-1.1zM471.2 428.4h1.1v1.1h-1.1zM469.0 438.5h1.1v1.1h-1.1zM461.9 430.4h1.1v1.1h-1.1zM468.4 439.1h1.1v1.1h-1.1zM468.1 433.8h1.1v1.1h-1.1zM485.0 437.3h1.1v1.1h-1.1zM474.9 435.2h1.1v1.1h-1.1zM481.2 424.1h1.1v1.1h-1.1zM465.9 425.9h1.1v1.1h-1.1zM467.1 425.7h1.1v1.1h-1.1zM471.1 434.8h1.1v1.1h-1.1zM470.2 419.7h1.1v1.1h-1.1zM465.7 431.6h1.1v1.1h-1.1zM484.1 420.7h1.1v1.1h-1.1zM467.9 422.2h1.1v1.1h-1.1zM473.2 429.2h1.1v1.1h-1.1zM466.9 429.0h1.1v1.1h-1.1zM467.2 422.9h1.1v1.1h-1.1zM469.7 434.7h1.1v1.1h-1.1zM468.1 431.0h1.1v1.1h-1.1zM478.5 424.8h1.1v1.1h-1.1zM482.6 430.3h1.1v1.1h-1.1zM478.3 436.8h1.1v1.1h-1.1zM471.1 429.3h1.1v1.1h-1.1zM482.2 434.9h1.1v1.1h-1.1zM482.4 418.3h1.1v1.1h-1.1zM470.1 427.8h1.1v1.1h-1.1zM467.3 430.8h1.1v1.1h-1.1zM472.7 436.6h1.1v1.1h-1.1zM468.8 440.3h1.1v1.1h-1.1zM479.1 418.4h1.1v1.1h-1.1zM468.4 419.3h1.1v1.1h-1.1zM473.6 424.8h1.1v1.1h-1.1zM464.7 433.1h1.1v1.1h-1.1zM464.3 432.0h1.1v1.1h-1.1zM465.4 432.3h1.1v1.1h-1.1zM474.1 431.8h1.1v1.1h-1.1zM471.7 434.5h1.1v1.1h-1.1zM475.6 429.5h1.1v1.1h-1.1zM470.5 425.6h1.1v1.1h-1.1zM467.3 424.1h1.1v1.1h-1.1zM475.4 437.0h1.1v1.1h-1.1zM474.8 429.4h1.1v1.1h-1.1zM471.9 439.1h1.1v1.1h-1.1zM468.2 424.3h1.1v1.1h-1.1zM469.5 429.7h1.1v1.1h-1.1zM471.7 426.9h1.1v1.1h-1.1zM468.9 429.9h1.1v1.1h-1.1zM465.6 429.7h1.1v1.1h-1.1zM468.1 440.4h1.1v1.1h-1.1zM469.8 424.6h1.1v1.1h-1.1zM470.8 427.4h1.1v1.1h-1.1zM471.5 435.0h1.1v1.1h-1.1zM469.7 435.2h1.1v1.1h-1.1zM464.9 427.1h1.1v1.1h-1.1zM464.3 433.9h1.1v1.1h-1.1zM471.8 428.6h1.1v1.1h-1.1zM466.1 427.4h1.1v1.1h-1.1zM478.5 402.9h1.1v1.1h-1.1zM474.8 398.8h1.1v1.1h-1.1zM468.4 411.5h1.1v1.1h-1.1zM468.1 415.4h1.1v1.1h-1.1zM466.4 403.3h1.1v1.1h-1.1zM472.4 407.1h1.1v1.1h-1.1zM461.0 409.0h1.1v1.1h-1.1zM474.9 397.4h1.1v1.1h-1.1zM472.6 413.8h1.1v1.1h-1.1zM468.8 401.6h1.1v1.1h-1.1zM466.4 396.7h1.1v1.1h-1.1zM469.8 411.7h1.1v1.1h-1.1zM465.1 412.1h1.1v1.1h-1.1zM472.2 410.8h1.1v1.1h-1.1zM463.0 404.3h1.1v1.1h-1.1zM467.0 406.7h1.1v1.1h-1.1zM435.6 384.3h1.1v1.1h-1.1zM449.5 400.9h1.1v1.1h-1.1zM439.7 403.7h1.1v1.1h-1.1z" fill="#000"/>
<rect x="336.4" y="263.6" width="82.60" height="87.00" fill="none" stroke="#000" stroke-width="1.5"/>
<path d="M370.5 350.6 V300.3 H398.2 V350.6 M370.5 323.5 H398.2" fill="none" stroke="#000" stroke-width="1.4"/>
<rect x="424.5" y="263.8" width="81.10" height="87.40" fill="none" stroke="#000" stroke-width="1.5"/>
<path d="M459.7 351.2 V301.3 H486.4 V351.2 M459.7 324.8 H486.4" fill="none" stroke="#000" stroke-width="1.4"/>
<rect x="336.4" y="355.9" width="82.80" height="88.00" fill="none" stroke="#000" stroke-width="1.5"/>
<path d="M372.8 443.9 V394.2 H400.4 V443.9 M372.8 417.4 H400.4" fill="none" stroke="#000" stroke-width="1.4"/>
<rect x="423.6" y="356.3" width="81.20" height="87.60" fill="none" stroke="#000" stroke-width="1.5"/>
<path d="M459.1 443.9 V394.2 H486.4 V443.9 M459.1 417.5 H486.4" fill="none" stroke="#000" stroke-width="1.4"/>
<text x="339.22" y="279.20" font-family='"Liberation Sans", sans-serif' font-size="18" font-weight="bold" textLength="7.07" lengthAdjust="spacingAndGlyphs" fill="#000">i</text>
<text x="427.87" y="279.20" font-family='"Liberation Sans", sans-serif' font-size="18" font-weight="bold" textLength="12.19" lengthAdjust="spacingAndGlyphs" fill="#000">ii</text>
<text x="339.29" y="372.30" font-family='"Liberation Sans", sans-serif' font-size="18" font-weight="bold" textLength="15.65" lengthAdjust="spacingAndGlyphs" fill="#000">iii</text>
<text x="425.84" y="371.60" font-family='"Liberation Sans", sans-serif' font-size="18" font-weight="bold" textLength="15.03" lengthAdjust="spacingAndGlyphs" fill="#000">iv</text>
<text x="403.44" y="315.40" font-family='"Liberation Sans", sans-serif' font-size="9.2" font-weight="normal" textLength="10.25" lengthAdjust="spacingAndGlyphs" fill="#000">R1</text>
<text x="403.39" y="339.30" font-family='"Liberation Sans", sans-serif' font-size="9.2" font-weight="normal" textLength="10.94" lengthAdjust="spacingAndGlyphs" fill="#000">R2</text>
<text x="488.84" y="315.40" font-family='"Liberation Sans", sans-serif' font-size="9.2" font-weight="normal" textLength="10.25" lengthAdjust="spacingAndGlyphs" fill="#000">R1</text>
<text x="488.79" y="339.30" font-family='"Liberation Sans", sans-serif' font-size="9.2" font-weight="normal" textLength="10.94" lengthAdjust="spacingAndGlyphs" fill="#000">R2</text>
<text x="402.92" y="410.20" font-family='"Liberation Sans", sans-serif' font-size="9.2" font-weight="normal" textLength="10.47" lengthAdjust="spacingAndGlyphs" fill="#000">R1</text>
<text x="402.88" y="434.80" font-family='"Liberation Sans", sans-serif' font-size="9.2" font-weight="normal" textLength="11.16" lengthAdjust="spacingAndGlyphs" fill="#000">R2</text>
<text x="489.22" y="410.20" font-family='"Liberation Sans", sans-serif' font-size="9.2" font-weight="normal" textLength="10.47" lengthAdjust="spacingAndGlyphs" fill="#000">R1</text>
<text x="489.18" y="434.80" font-family='"Liberation Sans", sans-serif' font-size="9.2" font-weight="normal" textLength="11.16" lengthAdjust="spacingAndGlyphs" fill="#000">R2</text>
<line x1="320.2" y1="299.0" x2="320.2" y2="341.0" stroke="#000" stroke-width="1.4"/>
<path d="M320.2 295.0 L324.7 306.0 L323.8 306.6 L320.2 301.05 L316.59999999999997 306.6 L315.7 306.0 Z" fill="#000"/>
<text x="323.10" y="382.48" transform="rotate(-90 323.10 382.48)" font-family='"Liberation Serif", serif' font-size="9.6" font-weight="bold" textLength="34.35" lengthAdjust="spacingAndGlyphs">CXCR4</text>
<line x1="320.3" y1="387.3" x2="320.3" y2="413.0" stroke="#000" stroke-width="1.4"/>
<line x1="369.2" y1="451.6" x2="401.5" y2="451.6" stroke="#000" stroke-width="1.4"/>
<text x="409.52" y="455.00" font-family='"Liberation Serif", serif' font-size="10.0" font-weight="bold" textLength="24.96" lengthAdjust="spacingAndGlyphs" fill="#000">CD34</text>
<line x1="441.9" y1="451.6" x2="477.8" y2="451.6" stroke="#000" stroke-width="1.5"/>
<path d="M480.8 451.6 L471.8 448.3 L471.3 449.2 L475.85 451.6 L471.3 454.00000000000006 L471.8 454.90000000000003 Z" fill="#000"/>
</svg></body></html>
